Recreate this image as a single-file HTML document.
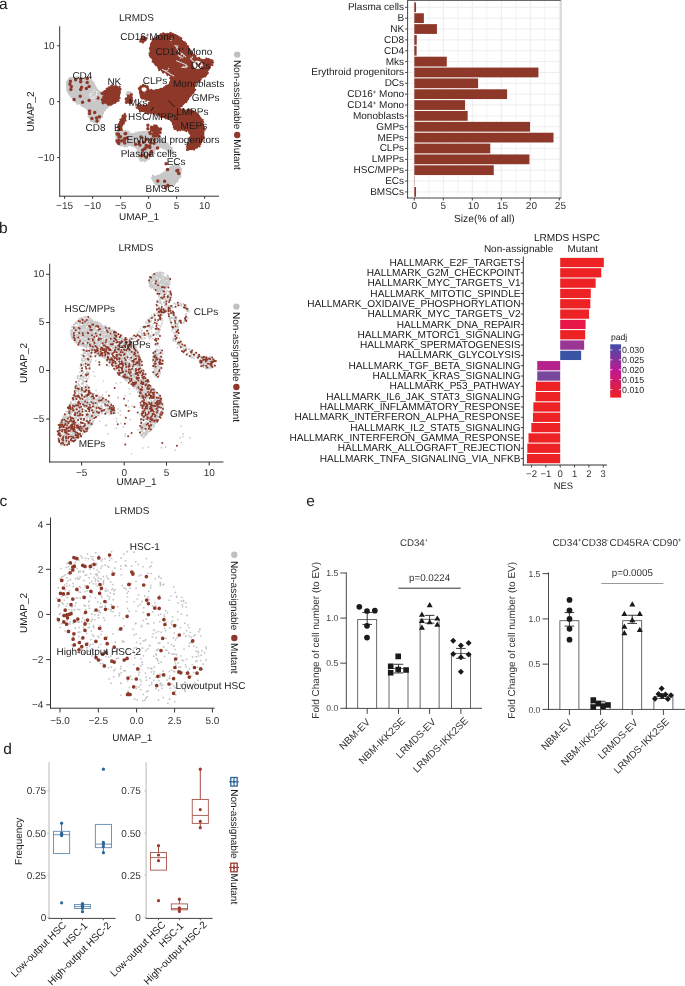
<!DOCTYPE html>
<html><head><meta charset="utf-8"><style>
html,body{margin:0;padding:0;background:#fff;}
svg{display:block;font-family:"Liberation Sans", sans-serif;-webkit-font-smoothing:antialiased;will-change:transform;text-rendering:geometricPrecision;}
</style></head><body>
<svg width="685" height="986" viewBox="0 0 685 986">
<rect width="685" height="986" fill="#fff"/>
<path d="M67.6,80.3L70.4,77.5L76.0,77.0L83.5,77.9L89.1,79.3L92.8,82.1L95.2,85.9L97.5,90.1L100.3,92.4L104.1,91.0L110.6,95.0L113.0,100.0L110.6,105.5L106.9,107.4L104.1,111.1L102.2,115.8L100.3,119.5L98.4,122.3L94.7,122.8L91.0,120.9L89.1,116.7L88.2,111.1L85.4,107.4L80.7,104.6L76.0,101.8L72.3,98.0L68.5,93.4L66.7,87.8L66.7,83.1Z" fill="#C8C8C8" stroke="#C8C8C8" stroke-width="1.2" stroke-linejoin="round"/>
<path d="M116.0,133.0L120.0,130.5L126.0,131.5L132.1,134.0L140.0,132.3L147.0,131.4L149.7,132.7L155.0,134.5L161.0,137.5L166.3,142.8L171.5,148.0L173.0,152.0L170.0,153.0L166.3,149.8L160.2,146.3L155.8,148.9L153.2,153.3L148.8,158.5L144.4,161.2L140.0,160.3L138.3,155.0L137.4,148.9L133.0,145.4L129.5,145.4L124.0,146.0L119.0,144.0L116.5,140.0Z" fill="#C8C8C8" stroke="#C8C8C8" stroke-width="1.2" stroke-linejoin="round"/>
<path d="M152.5,175.6L156.0,176.9L161.3,174.3L166.5,170.8L170.0,167.3L173.5,165.5L178.8,165.5L181.0,168.1L181.0,172.5L179.7,176.9L177.0,181.3L173.5,184.8L168.3,186.5L161.3,186.1L156.0,184.8L153.4,181.3L152.5,177.8Z" fill="#C8C8C8" stroke="#C8C8C8" stroke-width="1.2" stroke-linejoin="round"/>
<path d="M126.9,93.0L129.0,91.5L131.2,92.5L131.7,95.5L130.0,97.5L127.5,97.0Z" fill="#C8C8C8" stroke="#C8C8C8" stroke-width="1.2" stroke-linejoin="round"/>
<path d="M68.9,78.8h0M70.2,78.8h0M70.4,78.2h0M72.2,78.0h0M74.6,77.4h0M77.7,76.5h0M78.3,78.2h0M80.0,78.1h0M82.6,78.6h0M84.7,78.8h0M85.2,77.9h0M88.4,78.9h0M91.6,80.2h0M91.0,81.5h0M93.7,82.5h0M94.0,85.8h0M95.0,87.7h0M97.1,90.8h0M98.0,90.6h0M99.2,91.3h0M100.4,92.8h0M102.9,91.6h0M103.5,91.2h0M107.9,92.8h0M108.1,93.2h0M110.8,94.4h0M111.4,94.8h0M112.1,96.5h0M112.4,99.0h0M112.3,101.1h0M112.4,102.4h0M111.9,103.6h0M108.8,106.1h0M107.4,107.1h0M107.5,107.7h0M105.1,110.0h0M102.6,113.3h0M102.3,113.3h0M101.7,115.5h0M101.8,116.0h0M102.1,117.1h0M100.2,118.9h0M99.1,121.6h0M97.3,122.8h0M95.4,121.9h0M93.8,121.5h0M91.0,121.3h0M90.7,120.8h0M90.0,117.6h0M88.4,116.4h0M88.0,113.4h0M89.0,113.7h0M88.4,111.8h0M86.0,106.9h0M84.2,107.0h0M82.8,106.3h0M81.4,105.6h0M78.9,103.1h0M77.7,104.1h0M76.2,102.4h0M75.2,101.3h0M74.1,100.6h0M73.4,98.8h0M71.4,97.0h0M70.6,96.0h0M69.4,94.2h0M67.9,91.5h0M67.1,90.6h0M67.6,89.8h0M67.3,86.6h0M67.1,84.0h0M66.7,82.3h0M116.3,131.9h0M120.0,130.9h0M120.9,131.1h0M123.7,131.3h0M125.6,130.8h0M126.6,131.0h0M128.7,131.7h0M129.4,133.9h0M131.3,134.3h0M132.6,134.1h0M134.6,134.0h0M136.0,132.7h0M138.0,132.2h0M140.4,132.0h0M140.6,132.1h0M142.9,131.7h0M142.9,131.8h0M146.4,131.9h0M149.1,132.4h0M149.6,132.1h0M152.2,134.0h0M153.9,134.6h0M155.9,134.9h0M157.8,135.7h0M160.1,136.2h0M160.6,137.4h0M161.5,138.9h0M162.2,139.5h0M164.7,140.2h0M166.0,143.4h0M167.7,143.3h0M167.0,143.7h0M169.0,145.8h0M170.3,147.1h0M172.0,147.8h0M173.2,152.4h0M171.3,153.4h0M169.5,151.2h0M168.8,151.6h0M167.2,149.7h0M165.7,148.4h0M164.2,148.2h0M163.0,148.2h0M160.6,147.5h0M159.9,147.5h0M158.5,147.1h0M156.4,148.3h0M155.5,149.2h0M154.7,149.9h0M154.4,153.1h0M153.7,153.8h0M150.5,156.0h0M151.3,155.8h0M148.9,158.3h0M149.1,158.7h0M147.4,159.6h0M146.4,159.9h0M144.8,161.6h0M140.8,160.6h0M140.0,159.2h0M139.5,157.0h0M138.7,156.9h0M138.7,153.3h0M137.1,151.3h0M138.3,151.7h0M136.9,147.9h0M134.0,146.6h0M134.6,145.6h0M132.0,146.0h0M131.4,145.1h0M127.4,146.3h0M126.6,146.1h0M124.9,146.8h0M124.2,146.3h0M121.2,145.8h0M119.9,145.0h0M117.9,143.4h0M116.7,141.3h0M115.9,139.0h0M116.3,136.4h0M115.8,134.9h0M115.6,132.5h0M152.8,175.6h0M155.1,176.7h0M156.8,176.0h0M157.3,176.0h0M159.0,175.4h0M161.7,173.8h0M163.5,172.7h0M165.7,170.5h0M167.3,169.0h0M168.4,169.7h0M170.2,167.6h0M171.5,166.5h0M173.4,166.3h0M174.9,164.7h0M175.3,164.7h0M176.7,165.1h0M179.3,166.1h0M179.7,167.9h0M181.2,168.9h0M180.4,171.7h0M180.6,174.8h0M180.5,176.7h0M178.7,176.9h0M178.0,179.6h0M176.8,181.4h0M177.3,181.7h0M175.1,182.9h0M174.5,184.7h0M172.3,185.9h0M170.1,184.8h0M170.1,186.5h0M166.8,186.2h0M164.9,187.1h0M162.4,186.6h0M161.9,185.7h0M159.5,185.7h0M159.5,186.1h0M157.3,184.5h0M155.5,182.8h0M154.1,181.3h0M153.1,180.5h0M151.8,178.3h0M153.3,178.4h0M127.3,92.3h0M130.3,92.5h0M131.4,93.0h0M130.7,97.0h0M129.1,97.1h0M128.1,97.2h0M126.4,94.3h0" stroke="#C8C8C8" stroke-width="2.0" stroke-linecap="round" fill="none"/>
<path d="M151.1,43.5L152.8,39.4L157.5,35.9L163.4,34.2L171.5,33.2L176.2,34.8L180.9,38.8L185.5,43.5L190.2,49.4L193.7,55.2L198.4,58.7L203.1,59.9L207.7,58.7L211.2,59.9L212.4,63.4L210.1,66.9L207.7,70.4L207.7,73.9L205.4,76.2L200.7,78.6L196.1,82.1L194.5,87.0L194.5,91.2L189.5,97.4L184.6,103.6L179.5,107.3L182.1,109.8L192.0,111.0L198.2,114.7L201.9,119.7L203.8,127.1L203.8,135.8L201.9,142.0L198.2,147.0L193.2,149.5L188.3,149.5L186.4,146.4L189.5,142.0L190.8,135.8L188.3,130.9L182.1,129.6L177.1,130.2L174.0,128.4L172.8,123.4L170.9,119.7L166.0,118.5L161.0,116.0L154.8,113.5L147.3,112.3L139.9,111.0L137.4,108.5L137.5,105.1L141.9,106.5L146.0,105.5L149.5,104.5L150.2,101.0L146.0,99.5L141.0,98.5L140.0,95.0L144.0,93.2L148.9,91.2L156.0,90.0L162.0,88.5L165.5,86.8L169.0,84.0L171.5,80.9L170.4,76.2L165.7,72.7L161.0,70.4L156.4,65.7L152.8,61.0L150.5,55.2L149.9,49.4Z" fill="#8E382A" stroke="#8E382A" stroke-width="1.0" stroke-linejoin="round"/>
<path d="M140.1,86.8L143.6,85.0L148.0,86.8L148.9,90.3L147.1,92.0L143.6,91.1L141.9,92.9L140.1,94.6L139.3,91.1Z" fill="#8E382A" stroke="#8E382A" stroke-width="1.0" stroke-linejoin="round"/>
<path d="M101.3,93.4L105.9,90.1L110.6,86.4L116.2,85.9L119.5,87.8L120.4,91.5L119.0,97.1L118.1,100.8L114.3,103.6L109.7,105.0L105.9,103.6L103.1,101.8L102.2,98.0L105.9,96.2L103.1,94.8Z" fill="#8E382A" stroke="#8E382A" stroke-width="1.0" stroke-linejoin="round"/>
<path d="M140.5,38.5L143.5,37.0L147.0,37.5L146.0,40.5L142.5,42.5L140.5,41.5Z" fill="#8E382A" stroke="#8E382A" stroke-width="1.0" stroke-linejoin="round"/>
<path d="M128.0,95.5L131.0,95.0L132.3,99.0L131.5,103.4L129.0,103.0L127.9,99.0Z" fill="#8E382A" stroke="#8E382A" stroke-width="1.0" stroke-linejoin="round"/>
<path d="M124.2,114.5L126.3,115.5L125.5,119.0L123.5,123.0L121.8,127.0L120.8,130.5L118.0,130.5L118.3,127.0L119.8,122.5L121.8,118.0Z" fill="#8E382A" stroke="#8E382A" stroke-width="1.0" stroke-linejoin="round"/>
<path d="M152.5,128.5L154.5,126.0L157.0,126.5L159.5,129.5L160.0,133.5L157.0,135.5L153.5,134.5Z" fill="#8E382A" stroke="#8E382A" stroke-width="1.0" stroke-linejoin="round"/>
<path d="M151.4,43.3h0M152.5,39.5h0M153.5,39.6h0M156.7,37.9h0M155.6,37.8h0M158.0,35.8h0M160.8,34.5h0M162.6,34.1h0M163.2,33.4h0M164.6,34.0h0M167.8,33.8h0M170.5,32.9h0M172.4,34.0h0M174.5,35.1h0M177.1,36.2h0M177.7,36.3h0M179.5,37.5h0M181.3,38.3h0M184.8,42.4h0M186.0,43.9h0M185.4,44.0h0M188.0,46.4h0M187.3,46.4h0M189.0,48.8h0M191.1,51.3h0M192.1,53.1h0M193.7,54.8h0M194.0,55.8h0M195.5,55.8h0M199.2,57.9h0M198.5,58.5h0M201.2,59.6h0M202.8,60.2h0M206.4,58.6h0M208.7,59.2h0M211.5,60.3h0M212.4,60.6h0M213.1,62.4h0M212.4,65.1h0M209.7,67.2h0M209.4,68.2h0M208.3,69.7h0M207.8,73.1h0M205.3,76.4h0M205.6,75.4h0M202.2,77.2h0M200.6,79.6h0M199.4,80.9h0M197.6,82.2h0M195.4,84.8h0M194.5,85.0h0M193.6,88.7h0M195.1,89.9h0M193.1,91.6h0M193.5,92.8h0M191.4,94.1h0M190.5,95.5h0M188.1,98.9h0M187.5,99.5h0M186.4,101.5h0M186.2,102.1h0M182.6,103.7h0M181.6,106.2h0M181.7,106.0h0M180.1,108.6h0M182.7,110.0h0M183.6,110.1h0M183.5,109.2h0M187.7,109.9h0M189.9,110.1h0M191.7,110.3h0M193.4,111.5h0M194.4,112.4h0M195.9,113.0h0M197.1,114.3h0M198.5,115.8h0M199.3,116.2h0M200.4,118.1h0M202.6,120.0h0M203.2,122.1h0M202.3,123.1h0M203.1,126.2h0M203.7,127.5h0M204.6,129.8h0M203.2,132.2h0M203.1,134.1h0M203.4,137.1h0M203.5,137.6h0M201.7,140.1h0M201.0,141.8h0M200.3,144.2h0M199.5,146.4h0M196.9,147.5h0M194.9,147.6h0M194.1,149.6h0M191.6,149.0h0M188.7,149.5h0M187.1,149.9h0M187.2,148.1h0M187.8,145.4h0M187.7,143.2h0M189.4,140.3h0M189.4,139.1h0M189.9,137.6h0M190.8,134.6h0M189.4,132.8h0M188.7,130.6h0M186.2,131.1h0M184.8,130.0h0M182.9,129.8h0M180.3,130.3h0M177.7,130.6h0M174.7,129.1h0M173.9,127.3h0M172.9,123.9h0M172.5,121.5h0M170.9,120.3h0M169.5,119.1h0M168.5,118.7h0M165.7,118.3h0M162.6,116.5h0M161.5,117.0h0M160.6,116.5h0M156.5,115.1h0M155.7,113.1h0M154.1,113.5h0M150.5,112.5h0M149.2,112.6h0M148.2,113.3h0M146.3,111.4h0M145.6,112.8h0M143.9,110.8h0M140.2,111.6h0M140.1,111.3h0M136.6,107.6h0M137.3,104.9h0M140.5,105.2h0M143.4,105.2h0M143.4,106.8h0M147.1,105.8h0M148.7,104.4h0M149.1,102.8h0M148.7,99.6h0M146.8,99.3h0M146.5,99.9h0M142.3,98.3h0M141.5,97.1h0M141.2,96.1h0M141.1,93.9h0M143.1,93.6h0M143.3,92.4h0M148.6,90.9h0M149.8,90.6h0M151.3,90.0h0M152.8,91.0h0M155.9,90.2h0M156.7,90.6h0M159.1,90.0h0M161.2,88.9h0M163.6,88.8h0M164.3,87.3h0M166.2,85.9h0M166.9,86.0h0M170.2,82.2h0M171.0,81.4h0M171.0,80.0h0M170.3,78.0h0M170.0,74.9h0M167.5,75.1h0M166.7,73.5h0M163.1,72.5h0M162.1,70.7h0M159.3,70.1h0M159.0,69.1h0M158.6,68.0h0M155.9,65.1h0M154.8,63.6h0M153.9,62.2h0M152.7,61.7h0M151.2,57.1h0M150.6,56.9h0M149.8,55.5h0M149.6,53.5h0M150.9,50.5h0M149.9,48.4h0M150.8,47.0h0M150.9,44.8h0M140.9,86.4h0M143.1,84.9h0M145.1,85.6h0M147.4,86.5h0M147.5,86.6h0M148.3,89.6h0M148.1,92.4h0M146.3,92.6h0M145.5,91.0h0M142.9,92.7h0M141.2,93.9h0M140.5,93.5h0M138.9,88.8h0M139.5,87.6h0M101.5,93.2h0M104.9,91.8h0M104.8,91.2h0M106.7,88.8h0M108.6,87.8h0M108.9,87.3h0M111.5,85.7h0M112.2,85.9h0M115.4,86.4h0M116.7,86.6h0M119.6,86.9h0M120.5,89.2h0M119.6,89.3h0M119.6,92.6h0M119.2,94.3h0M119.3,97.7h0M119.5,98.2h0M118.6,100.6h0M118.0,100.7h0M115.2,102.7h0M111.6,104.0h0M110.8,104.8h0M108.6,104.5h0M108.0,104.6h0M103.3,102.2h0M102.2,100.4h0M101.8,99.7h0M103.4,96.6h0M104.9,96.4h0M104.6,94.4h0M102.2,94.0h0M142.6,37.0h0M144.0,37.5h0M146.5,38.6h0M145.3,40.2h0M142.8,42.5h0M140.2,41.5h0M141.0,40.1h0M130.9,94.3h0M131.9,94.7h0M131.8,97.5h0M132.2,100.7h0M131.2,102.8h0M129.7,103.2h0M129.7,101.9h0M127.4,99.4h0M128.0,95.7h0M124.8,114.0h0M125.0,118.6h0M125.5,120.7h0M123.9,123.0h0M123.6,123.6h0M122.1,125.0h0M121.4,128.2h0M121.8,129.9h0M118.5,130.3h0M118.0,126.6h0M117.9,126.7h0M119.1,124.0h0M120.0,122.2h0M120.5,119.7h0M122.6,116.6h0M122.7,115.7h0M153.2,127.1h0M154.4,125.4h0M157.9,127.8h0M158.6,129.9h0M160.1,129.6h0M160.4,132.1h0M160.6,133.0h0M157.3,134.6h0M156.4,136.2h0M154.3,135.2h0M152.7,133.7h0M152.5,131.0h0M152.4,129.5h0" stroke="#8E382A" stroke-width="2.3" stroke-linecap="round" fill="none"/>
<path d="M70.4,81.2h0M69.9,84.0h0M71.3,86.4h0M70.9,89.6h0M75.6,79.8h0M80.7,79.3h0M80.7,81.7h0M87.2,78.4h0M87.2,82.6h0M89.1,86.6h0M86.3,88.5h0M81.6,87.3h0M80.7,89.6h0M80.2,96.2h0M74.1,99.4h0M82.6,102.2h0M89.1,100.4h0M98.0,98.0h0M89.6,111.1h0M89.6,113.5h0M94.7,112.5h0M91.9,118.6h0M96.6,118.1h0M99.4,116.7h0M97.0,120.9h0M103.1,99.9h0M103.1,102.7h0M139.1,141.9h0M140.0,145.0h0M143.5,142.3h0M146.2,145.4h0M145.7,148.0h0M147.9,146.3h0M149.7,146.3h0M142.6,150.2h0M144.4,148.9h0M151.4,151.5h0M146.2,157.2h0M154.0,143.2h0M157.5,148.0h0M150.5,140.1h0M140.9,137.1h0M147.9,125.3h0M147.9,128.8h0M166.1,163.8h0M167.6,169.4h0M176.9,170.8h0M177.9,170.3h0M178.8,173.4h0M157.8,181.1h0M164.6,181.3h0M167.8,185.2h0M165.6,187.4h0M118.5,142.9h0M126.9,137.9h0M119.0,137.1h0M118.5,134.3h0M121.5,141.0h0M125.1,133.7h0M118.8,140.5h0M120.6,136.7h0M118.1,140.6h0M117.2,134.0h0M124.7,142.9h0M118.7,143.4h0M117.0,141.1h0M117.9,142.6h0M124.7,138.5h0M125.7,133.4h0M123.8,139.9h0M124.4,140.0h0M155.1,132.1h0M155.2,132.1h0M160.5,129.1h0M156.5,130.1h0M153.1,129.5h0M151.6,129.4h0M150.0,132.5h0M151.6,127.3h0M156.2,126.2h0M154.4,127.5h0M156.6,130.6h0M150.3,133.4h0M153.3,135.8h0M154.5,136.0h0M158.8,136.2h0M149.8,147.4h0M141.7,155.7h0M146.2,139.6h0M149.8,154.4h0M135.6,144.3h0M154.2,140.0h0M150.7,142.9h0M143.2,154.9h0M126.3,98.9h0M127.8,100.2h0M128.5,97.4h0M129.0,98.3h0M129.9,101.1h0M126.5,102.3h0M130.7,102.3h0M129.9,102.4h0M129.7,102.1h0" stroke="#8E382A" stroke-width="3.5" stroke-linecap="round" fill="none"/>
<path d="M193.8,62.5L197.0,61.0L201.5,62.5L202.5,66.0L200.0,68.5L195.5,68.3L193.5,65.5Z" fill="#FFFFFF" stroke="#FFFFFF" stroke-width="0.8" stroke-linejoin="round"/>
<path d="M142.0,88.2L144.5,87.6L146.3,88.8L145.8,90.8L143.5,91.2L142.0,90.2Z" fill="#FFFFFF" stroke="#FFFFFF" stroke-width="0.8" stroke-linejoin="round"/>
<path d="M199.2,65.0h0M196.8,63.2h0M200.5,63.9h0M197.4,64.4h0M201.6,66.9h0M198.5,66.0h0" stroke="#8E382A" stroke-width="1.8" stroke-linecap="round" fill="none"/>
<path d="M177.3,47.4h0M177.8,46.1h0M176.4,45.9h0M181.4,54.4h0M182.0,53.4h0M178.5,55.8h0M180.6,58.2h0M183.7,56.1h0M179.7,56.6h0M186.0,66.6h0M185.4,66.2h0M183.5,66.5h0M186.0,67.6h0M191.1,58.3h0M192.4,56.9h0M192.4,57.4h0M168.6,68.6h0M167.7,70.5h0M165.7,70.5h0M172.0,39.2h0M170.9,40.5h0M172.4,39.3h0" stroke="#CFCFCF" stroke-width="1.5" stroke-linecap="round" fill="none"/>
<path d="M174.8,45.3L176.3,46.8L177.3,49.0L178.8,51.5L181.0,53.3L183.5,54.8L185.8,56.8" fill="none" stroke="#D2D2D2" stroke-width="1.1" stroke-linecap="round" stroke-linejoin="round" stroke-dasharray="2.2 0.9"/>
<path d="M178.5,55.0L181.0,56.5L183.5,58.3" fill="none" stroke="#D2D2D2" stroke-width="1.1" stroke-linecap="round" stroke-linejoin="round" stroke-dasharray="2.2 0.9"/>
<path d="M176.5,60.8L179.5,62.0L182.5,63.2L185.5,64.5L187.5,66.5" fill="none" stroke="#D2D2D2" stroke-width="1.1" stroke-linecap="round" stroke-linejoin="round" stroke-dasharray="2.2 0.9"/>
<path d="M181.5,67.2L184.5,67.6L187.0,67.0" fill="none" stroke="#D2D2D2" stroke-width="1.1" stroke-linecap="round" stroke-linejoin="round" stroke-dasharray="2.2 0.9"/>
<path d="M162.5,69.6L165.5,71.0L168.5,72.8L171.5,74.8L173.8,76.0" fill="none" stroke="#D2D2D2" stroke-width="1.1" stroke-linecap="round" stroke-linejoin="round" stroke-dasharray="2.2 0.9"/>
<path d="M190.5,58.5L192.0,60.0L193.5,61.5" fill="none" stroke="#D2D2D2" stroke-width="1.1" stroke-linecap="round" stroke-linejoin="round" stroke-dasharray="2.2 0.9"/>
<path d="M90.7,93.4h0M91.7,94.2h0M89.7,95.9h0M92.0,100.0h0M96.7,94.4h0M96.0,95.2h0M90.6,95.3h0M94.8,97.0h0M96.5,91.9h0M94.3,100.5h0M96.7,91.5h0M96.7,97.3h0M91.6,97.5h0M93.1,94.1h0M92.4,91.4h0M92.9,98.5h0M94.5,96.8h0M90.5,97.6h0M93.9,89.7h0M92.0,97.6h0M89.6,93.9h0M96.9,92.9h0M94.2,91.6h0M93.3,96.5h0M94.4,98.4h0" stroke="#F4F4F4" stroke-width="1.2" stroke-linecap="round" fill="none"/>
<path d="M77.1 329.2h0M111.9 330.4h0M104.9 342.3h0M107.8 327.6h0M76.9 323.2h0M97.1 331.8h0M92.2 331.8h0M111.6 338.1h0M104.6 332.1h0M80.5 335.2h0M77.2 329.9h0M75.5 330.8h0M94.5 330.0h0M93.5 333.4h0M92.5 340.1h0M89.2 323.4h0M90.2 349.2h0M89.1 337.8h0M108.7 338.9h0M87.0 324.2h0M112.6 342.5h0M99.4 342.6h0M88.5 346.6h0M83.9 324.0h0M71.0 330.1h0M105.4 327.7h0M82.7 332.6h0M105.7 332.4h0M105.8 338.5h0M84.9 327.5h0M89.7 327.6h0M110.7 340.0h0M85.2 329.4h0M87.2 345.0h0M90.0 343.2h0M94.7 323.0h0M93.5 329.5h0M101.5 325.8h0M84.0 340.9h0M97.3 343.4h0M100.7 331.5h0M91.8 341.6h0M90.3 341.5h0M72.0 334.9h0M96.5 334.3h0M107.0 332.8h0M91.5 334.9h0M85.2 322.2h0M93.8 335.8h0M84.3 325.4h0M80.5 320.7h0M112.6 338.5h0M93.2 321.5h0M82.0 325.7h0M111.5 338.4h0M106.0 329.5h0M82.4 319.4h0M109.6 330.4h0M110.3 331.3h0M86.5 334.9h0M76.9 328.7h0M94.8 348.1h0M98.9 327.1h0M98.2 340.4h0M103.2 338.3h0M91.2 322.9h0M108.1 329.4h0M87.4 335.8h0M87.8 329.2h0M85.3 329.2h0M111.7 339.7h0M98.7 345.5h0M106.2 344.6h0M77.1 338.5h0M83.9 332.9h0M100.6 328.0h0M98.3 345.1h0M98.5 346.5h0M93.1 348.5h0M98.2 326.8h0M102.4 333.2h0M83.1 327.5h0M97.9 327.5h0M86.7 336.4h0M82.6 331.3h0M101.2 329.4h0M99.8 325.4h0M72.3 336.9h0M77.2 343.2h0M98.0 331.8h0M77.5 322.6h0M95.0 338.4h0M75.7 342.0h0M86.8 342.6h0M114.5 332.4h0M84.8 340.3h0M95.3 334.6h0M89.4 323.3h0M110.8 338.4h0M79.8 344.9h0M104.4 333.3h0M77.3 337.9h0M89.2 323.1h0M77.9 334.4h0M91.9 335.6h0M92.7 329.7h0M98.6 337.8h0M97.1 341.1h0M93.6 326.3h0M116.0 333.7h0M114.2 335.1h0M103.6 337.5h0M105.6 334.9h0M87.1 325.0h0M100.3 329.7h0M95.6 340.8h0M75.5 334.9h0M102.2 326.3h0M99.5 341.9h0M97.4 335.2h0M82.4 322.7h0M92.0 336.5h0M83.9 346.5h0M87.4 332.1h0M79.5 329.6h0M114.1 340.4h0M108.5 342.4h0M87.4 325.5h0M85.3 317.0h0M82.7 335.7h0M92.9 346.1h0M105.1 327.8h0M74.6 335.5h0M76.2 340.9h0M93.8 333.7h0M71.7 333.7h0M108.3 341.1h0M99.8 340.1h0M93.8 344.9h0M107.0 328.7h0M92.4 320.1h0M100.8 332.5h0M79.8 339.9h0M96.5 329.9h0M94.9 339.1h0M89.8 341.1h0M87.5 340.2h0M95.2 321.7h0M89.6 345.4h0M95.9 346.6h0M72.0 335.8h0M100.7 340.7h0M80.3 334.9h0M96.7 343.5h0M76.1 338.4h0M74.5 332.0h0M70.9 333.9h0M77.6 335.6h0M107.6 336.5h0M86.7 336.7h0M107.3 333.1h0M80.4 340.5h0M113.2 338.4h0M93.9 333.6h0M101.3 335.5h0M90.0 336.2h0M71.4 335.3h0M84.4 339.9h0M103.7 345.4h0M83.7 321.2h0M81.2 328.8h0M88.8 335.1h0M88.4 327.7h0M100.7 327.8h0M80.6 329.5h0M87.6 345.7h0M89.8 336.3h0M91.2 346.6h0M72.1 335.9h0M80.6 322.9h0M99.3 329.2h0M83.7 325.5h0M83.2 322.0h0M84.6 327.0h0M80.7 326.2h0M95.8 326.7h0M91.1 320.5h0M95.4 323.1h0M83.9 337.9h0M91.8 347.5h0M105.1 343.7h0M114.2 333.8h0M84.4 340.5h0M110.3 335.1h0M85.8 316.6h0M111.1 332.0h0M89.9 323.9h0M81.0 326.7h0M88.9 335.7h0M79.8 331.5h0M111.6 340.6h0M88.5 323.4h0M91.1 347.9h0M78.3 336.8h0M109.4 336.0h0M80.0 344.3h0M90.5 317.9h0M107.4 334.7h0M76.0 330.1h0M101.5 330.0h0M92.3 320.6h0M100.4 331.0h0M111.2 332.7h0M91.3 343.4h0M95.6 322.0h0M111.6 342.2h0M87.6 345.9h0M88.5 346.8h0M106.0 331.0h0M101.0 332.2h0M83.6 321.3h0M103.2 340.6h0M76.1 322.3h0M84.0 339.0h0M111.4 330.5h0M93.1 345.9h0M84.0 343.1h0M73.9 324.3h0M76.6 329.4h0M82.2 343.5h0M112.8 333.7h0M101.9 326.1h0M87.1 319.4h0M110.2 335.8h0M88.6 322.1h0M91.3 320.1h0M112.9 334.4h0M87.1 328.5h0M89.2 334.0h0M108.9 341.9h0M83.8 326.7h0M87.7 330.5h0M74.5 327.0h0M92.4 340.4h0M89.7 335.4h0M82.1 339.8h0M90.3 320.6h0M89.8 330.1h0M99.1 331.1h0M109.5 331.2h0M103.3 336.1h0M89.4 327.9h0M108.0 341.4h0M101.2 338.2h0M83.4 345.9h0M80.1 323.5h0M102.1 334.4h0M72.4 330.9h0M73.8 325.4h0M92.6 335.4h0M111.8 336.8h0M76.1 336.4h0M97.6 325.8h0M92.8 328.9h0M90.5 330.6h0M90.1 334.8h0M79.2 325.2h0M93.4 332.6h0M90.5 338.6h0M94.1 340.4h0M84.8 346.8h0M82.1 317.8h0M101.3 333.8h0M85.0 337.3h0M113.0 334.9h0M84.4 333.5h0M107.8 331.8h0M113.8 332.3h0M102.0 343.2h0M100.7 325.6h0M104.0 341.0h0M91.6 331.1h0M86.5 345.3h0M104.2 342.7h0M90.9 332.3h0M99.5 331.3h0M105.3 325.6h0M110.5 342.9h0M78.2 337.1h0M101.7 332.9h0M81.0 340.1h0M101.3 341.8h0M74.3 330.1h0M84.3 322.0h0M86.7 335.2h0M80.8 330.9h0M74.2 335.0h0M72.0 332.2h0M88.4 318.6h0M86.4 320.7h0M112.2 337.8h0M100.3 342.3h0M110.9 334.8h0M97.7 335.3h0M110.0 343.5h0M88.1 338.8h0M95.3 327.3h0M80.3 328.1h0M81.4 328.4h0M110.9 336.4h0M79.4 331.6h0M108.8 331.2h0M75.1 327.1h0M96.7 347.5h0M103.8 326.7h0M73.7 336.1h0M81.8 333.7h0M91.2 323.2h0M87.8 340.7h0M104.2 332.2h0M94.3 348.2h0M104.7 331.7h0M96.2 345.3h0M77.4 328.9h0M81.6 337.2h0M76.2 322.4h0M73.3 333.8h0M73.1 338.3h0M88.3 323.6h0M88.1 330.9h0M82.2 342.3h0M76.8 334.8h0M84.9 323.2h0M112.7 339.8h0M105.3 327.7h0M99.7 334.7h0M97.7 324.0h0M86.3 345.4h0M89.6 323.3h0M116.4 335.2h0M97.5 334.0h0M86.9 338.5h0M93.2 347.1h0M94.2 339.1h0M76.2 337.7h0M104.0 344.4h0M101.2 331.1h0M106.1 336.9h0M93.6 329.3h0M93.5 322.5h0M82.4 342.8h0M91.2 348.4h0M105.6 329.4h0M87.8 322.7h0M98.7 342.6h0M100.8 343.3h0M94.4 348.5h0M98.3 336.5h0M113.3 331.1h0M88.3 331.4h0M107.3 329.2h0M97.4 322.3h0M111.7 335.8h0M86.4 344.4h0M97.5 323.1h0M109.8 335.6h0M91.4 320.4h0M96.7 323.7h0M92.3 332.3h0M91.1 325.4h0M109.0 329.8h0M93.1 328.7h0M89.2 319.1h0M113.0 338.6h0M106.4 340.9h0M98.1 326.8h0M81.8 322.8h0M111.4 330.1h0M80.9 336.1h0M96.5 331.7h0M103.5 344.0h0M73.2 334.8h0M80.7 341.8h0M90.0 333.7h0M87.6 333.0h0M89.6 337.7h0M80.2 342.5h0M90.7 347.5h0M87.0 322.3h0M99.1 338.8h0M74.9 328.8h0M99.8 328.0h0M88.9 335.9h0M87.2 322.7h0M78.3 328.6h0M89.7 342.6h0M107.0 338.7h0M90.5 325.4h0M83.2 326.8h0M97.7 331.2h0M75.6 326.8h0M112.0 341.9h0M87.7 338.3h0M92.4 327.6h0M75.9 326.7h0M96.1 346.6h0M75.8 337.9h0M88.1 318.6h0M87.1 336.7h0M88.6 340.4h0M97.9 326.3h0M77.5 322.9h0M112.1 335.3h0M108.9 330.6h0M74.8 339.5h0M104.9 345.3h0M89.5 344.1h0M92.0 321.6h0M86.0 324.9h0M71.7 333.4h0M79.7 342.7h0M94.2 338.7h0M98.7 342.3h0M84.1 340.7h0M88.0 340.3h0M101.7 331.7h0M97.9 345.5h0M95.7 322.3h0M85.0 318.1h0M91.7 324.1h0M80.3 328.9h0M103.3 339.1h0M116.7 334.1h0M112.0 337.0h0M96.9 322.4h0M103.4 337.8h0M84.7 346.3h0M103.1 340.6h0M97.3 325.8h0M91.1 326.5h0M92.9 340.6h0M83.6 331.0h0M91.5 323.0h0M92.3 332.1h0M93.3 323.4h0M90.0 342.4h0M110.1 337.2h0M110.5 338.7h0M80.3 336.5h0M112.7 330.3h0M97.6 326.1h0M107.5 340.9h0M88.9 325.6h0M102.7 335.4h0M73.5 339.8h0M80.5 342.8h0M81.3 319.7h0M79.3 330.0h0M100.9 338.4h0M101.0 324.3h0M93.2 331.1h0M88.7 337.0h0M78.0 328.5h0M85.9 325.6h0M79.8 325.3h0M109.1 331.7h0M98.0 346.4h0M72.4 330.9h0M92.0 345.0h0M91.5 319.8h0M109.0 343.8h0M76.9 328.7h0M94.0 346.0h0M112.1 336.1h0M86.0 347.5h0M94.1 329.6h0M74.9 340.5h0M96.5 333.7h0M81.0 330.1h0M107.4 334.1h0M91.0 348.2h0M87.8 325.5h0M90.9 334.9h0M98.8 327.8h0M91.7 327.4h0M86.1 345.9h0M80.4 326.9h0M107.8 344.6h0M89.6 331.2h0M108.0 328.8h0M87.9 323.4h0M76.5 343.3h0M91.9 343.9h0M85.0 319.3h0M80.7 320.2h0M79.5 336.1h0M100.5 343.3h0M85.5 321.4h0M97.8 345.2h0M82.8 323.8h0M111.1 339.9h0M86.3 316.7h0M94.8 338.0h0M104.0 328.5h0M87.8 337.4h0M92.0 344.4h0M105.9 341.4h0M96.1 334.5h0M86.4 347.6h0M84.9 321.3h0M93.6 348.7h0M92.2 329.2h0M97.3 345.1h0M113.8 333.7h0M99.6 338.3h0M83.0 341.7h0M86.0 333.7h0M82.0 331.5h0M91.3 336.7h0M82.0 333.9h0M80.6 343.8h0M85.9 331.7h0M101.7 335.6h0M100.7 344.1h0M102.6 345.3h0M101.4 334.3h0M98.1 322.8h0M88.1 329.2h0M79.3 338.5h0M86.3 344.7h0M90.5 321.9h0M76.5 332.3h0M104.4 341.4h0M108.3 335.2h0M104.8 337.1h0M86.2 333.9h0M71.7 337.1h0M96.9 325.6h0M100.9 331.1h0M109.1 337.3h0M84.7 341.3h0M112.2 335.2h0M105.6 340.1h0M88.6 334.1h0M106.2 343.9h0M88.3 339.9h0M72.5 326.8h0M85.4 341.1h0M98.8 336.9h0M93.0 323.3h0M77.2 328.7h0M86.7 340.4h0M105.0 344.8h0M90.5 345.4h0M106.2 338.9h0M93.2 344.5h0M104.9 335.6h0M85.7 341.0h0M92.6 346.0h0M88.3 337.6h0M103.6 337.7h0M74.5 338.5h0M86.5 334.8h0M91.9 333.0h0M81.5 344.6h0M90.5 332.0h0M113.4 333.5h0M113.3 334.1h0M79.8 318.4h0M103.9 332.9h0M74.6 334.3h0M104.3 341.0h0M75.1 329.4h0M100.0 346.5h0M89.9 345.7h0M72.7 333.7h0M84.3 336.7h0M110.8 330.4h0M99.7 323.2h0M112.4 339.4h0M86.7 343.2h0M100.4 328.3h0M102.6 329.4h0M98.8 327.5h0M81.5 329.0h0M75.0 333.1h0M105.2 326.2h0M85.7 337.6h0M87.6 341.1h0M104.4 326.4h0M100.0 330.1h0M94.5 323.3h0M81.9 339.8h0M102.0 327.0h0M83.2 331.4h0M116.8 335.6h0M83.8 337.5h0M73.1 327.2h0M76.8 337.2h0M110.4 343.4h0M88.4 322.0h0M95.4 338.6h0M115.8 340.1h0M108.7 337.5h0M84.1 344.3h0M71.0 333.6h0M85.7 326.4h0M87.6 344.5h0M89.0 322.7h0M71.5 335.6h0M94.7 325.2h0M94.6 325.4h0M71.0 332.8h0M91.9 326.0h0M80.0 321.5h0M103.9 344.3h0M96.2 333.7h0M108.3 342.3h0M89.5 327.7h0M103.2 340.9h0M91.7 346.9h0M97.8 333.4h0M84.9 344.1h0M84.0 326.7h0M87.9 320.5h0M110.8 331.6h0M78.7 335.1h0M92.8 345.1h0M79.7 333.1h0M71.9 338.1h0M112.5 335.9h0M80.8 344.0h0M85.4 327.3h0M116.2 337.5h0M79.0 319.3h0M112.8 336.5h0M114.5 331.9h0M75.0 339.0h0M114.5 339.3h0M75.1 342.1h0M110.0 340.8h0M100.7 325.1h0M102.1 340.5h0M85.6 345.3h0M111.7 330.9h0M97.7 332.0h0M74.9 324.1h0M90.8 339.0h0M85.5 327.3h0M79.4 339.1h0M83.8 317.1h0M74.5 331.1h0M92.4 344.4h0M108.4 342.3h0M81.0 336.1h0M82.1 320.5h0M96.2 330.4h0M75.5 340.6h0M96.7 343.6h0M79.4 333.8h0M105.4 336.8h0M114.5 341.0h0M94.8 323.1h0M86.2 323.1h0M81.1 330.8h0M89.6 339.9h0M88.0 331.2h0M82.4 328.6h0M90.3 339.7h0M87.1 334.4h0M82.8 322.3h0M78.6 327.8h0M79.5 321.4h0M106.5 331.9h0M86.9 330.2h0M88.6 335.1h0M105.9 340.8h0M91.2 349.4h0M83.0 334.2h0M84.0 328.8h0M94.9 323.6h0M77.0 323.5h0M97.5 323.6h0M87.9 332.8h0M82.8 335.4h0M77.6 323.0h0M114.9 337.0h0M85.3 326.7h0M91.1 323.6h0M72.7 336.9h0M92.6 348.0h0M93.4 328.5h0M86.7 345.6h0M85.9 335.8h0M79.7 344.8h0M76.1 339.0h0M93.2 342.1h0M96.1 321.9h0M102.4 340.7h0M90.0 318.7h0M94.8 327.5h0M82.8 326.8h0M90.6 346.1h0M90.5 338.5h0M105.2 336.4h0M105.7 325.6h0M91.0 321.3h0M81.3 322.6h0M99.1 345.7h0M103.9 343.0h0M84.3 334.8h0M78.9 334.0h0M92.8 329.0h0M97.1 345.2h0M92.8 328.0h0M79.8 323.0h0M106.6 342.0h0M102.3 335.8h0M85.9 325.4h0M78.4 335.1h0M88.0 325.5h0M90.6 332.7h0M104.6 340.5h0M81.3 339.2h0M87.0 332.6h0M91.2 345.9h0M85.7 339.9h0M80.4 327.5h0M77.8 340.3h0M100.2 336.5h0M88.0 327.7h0M116.3 338.9h0M96.3 343.0h0M86.0 347.4h0M101.6 333.1h0M76.9 327.5h0M95.8 324.8h0M99.8 344.8h0M109.7 329.4h0M77.7 335.4h0M74.5 329.3h0M83.2 344.6h0M89.3 328.0h0M90.0 348.1h0M95.2 328.5h0M103.4 331.0h0M71.1 330.9h0M95.9 322.3h0M83.2 343.2h0M106.9 341.6h0M98.8 334.6h0M91.0 334.0h0M83.0 319.9h0M116.5 334.5h0M96.0 334.6h0M84.3 345.7h0M97.7 343.0h0M82.4 327.0h0M75.0 323.3h0M108.5 335.0h0M77.3 340.9h0M109.9 338.3h0M111.2 334.0h0M80.1 338.8h0M94.7 324.0h0M99.7 333.6h0M88.9 320.5h0M75.7 329.0h0M72.6 329.4h0M96.0 324.9h0M102.6 328.8h0M98.3 326.7h0M84.6 333.9h0M105.4 326.2h0M75.8 323.7h0M103.1 344.8h0M72.3 338.7h0M74.1 326.3h0M96.6 324.5h0M92.3 339.0h0M97.6 345.4h0M92.1 337.8h0M88.8 320.9h0M85.3 331.3h0M78.3 332.9h0M86.9 316.7h0M96.9 323.6h0M83.3 338.8h0M109.7 341.5h0M109.2 335.4h0M95.6 346.6h0M110.6 331.7h0M107.7 341.0h0M80.6 328.6h0M108.8 329.3h0M95.4 330.6h0M94.1 339.9h0M100.7 328.1h0M101.3 325.8h0M93.5 324.6h0M116.5 336.6h0M80.3 335.5h0M85.8 337.0h0M74.3 330.7h0M79.7 318.6h0M100.8 339.0h0M84.6 325.8h0M116.6 338.0h0M90.6 329.2h0M81.8 339.5h0M104.3 341.7h0M88.5 323.5h0M88.9 334.8h0M115.2 332.3h0M91.8 334.6h0M83.8 329.0h0M103.1 331.4h0M94.9 328.4h0M70.9 334.3h0M84.0 331.5h0M88.6 336.4h0M81.1 332.2h0M100.4 327.3h0M102.4 329.5h0M100.4 324.9h0M74.4 331.5h0M86.3 337.2h0M76.5 335.0h0M101.2 330.1h0M92.3 333.1h0M97.9 343.2h0M102.2 331.3h0M98.9 345.3h0M90.4 331.6h0M77.8 331.5h0M91.9 326.3h0M94.4 342.2h0M83.6 343.0h0M93.1 335.1h0M88.4 340.1h0M105.2 340.2h0M92.2 323.5h0M89.3 327.2h0M71.8 326.7h0M87.7 345.7h0M92.7 330.3h0M110.8 339.0h0M98.3 326.6h0M81.0 334.5h0M103.9 341.1h0M78.4 326.1h0M97.7 335.7h0M76.1 342.1h0M85.5 332.9h0M110.5 338.5h0M101.2 332.2h0M92.3 344.7h0M90.7 330.7h0M106.5 335.5h0M87.4 346.1h0M89.2 328.7h0M83.8 344.2h0M98.4 338.0h0M83.4 320.9h0M80.5 330.8h0M75.5 334.7h0M102.3 325.4h0M81.4 318.2h0M93.2 325.2h0M101.2 329.5h0M95.5 347.9h0M110.9 340.6h0M86.5 346.8h0M71.4 329.6h0M71.5 332.0h0M94.8 334.5h0M94.7 325.4h0M84.2 346.0h0M107.0 336.1h0M87.7 345.3h0M78.3 335.5h0M97.3 343.0h0M85.5 345.4h0M102.4 337.9h0M105.4 326.7h0M109.5 340.7h0M101.6 332.5h0M93.4 323.9h0M72.5 337.5h0M79.1 329.3h0M104.2 343.5h0M107.1 333.9h0M88.0 339.8h0M114.0 336.7h0M78.2 337.8h0M112.2 337.9h0M81.9 343.7h0M107.9 336.3h0M79.8 343.1h0M90.5 334.1h0M75.2 336.8h0M103.9 335.3h0M106.4 329.4h0M98.3 323.5h0M102.0 327.9h0M109.4 342.0h0M89.4 339.2h0M106.8 336.9h0M110.8 334.3h0M81.4 345.7h0M90.3 346.1h0M113.4 341.4h0M87.5 343.0h0M114.9 334.1h0M87.9 327.6h0M93.7 339.6h0M84.1 335.7h0M75.9 327.8h0M91.6 329.2h0M90.8 328.4h0M92.3 320.2h0M96.5 331.0h0M81.1 333.8h0M75.7 342.3h0M77.4 322.1h0M112.6 340.0h0M103.7 341.4h0M75.1 329.8h0M83.7 342.5h0M101.0 326.9h0M96.4 343.3h0M91.5 320.7h0M103.4 337.9h0M77.4 323.8h0M82.1 344.9h0M102.4 331.4h0M124.0 373.0h0M130.7 369.9h0M139.6 379.2h0M127.1 355.2h0M122.7 357.0h0M107.3 350.9h0M115.1 369.9h0M138.1 356.9h0M129.3 362.4h0M125.8 355.9h0M125.4 376.2h0M129.3 354.1h0M134.8 362.4h0M132.0 362.1h0M126.5 369.7h0M129.9 359.3h0M130.7 371.7h0M138.8 362.8h0M125.6 349.0h0M135.7 358.9h0M116.9 349.7h0M99.2 356.3h0M119.7 369.3h0M122.5 345.1h0M119.5 369.7h0M109.7 347.4h0M126.7 374.7h0M125.7 348.5h0M123.7 351.2h0M125.2 364.0h0M127.5 345.0h0M114.6 357.5h0M132.4 370.6h0M123.3 342.9h0M110.5 357.2h0M120.9 353.4h0M130.0 369.0h0M122.3 356.6h0M103.8 350.2h0M134.1 375.1h0M105.6 357.6h0M138.5 378.9h0M132.3 356.5h0M124.1 355.1h0M111.1 361.3h0M102.6 352.1h0M127.8 379.3h0M121.8 359.5h0M136.4 351.2h0M112.4 359.2h0M98.8 351.6h0M115.6 356.6h0M121.8 353.6h0M128.2 364.4h0M133.3 353.2h0M128.6 363.3h0M122.7 371.0h0M114.5 365.2h0M129.5 343.0h0M147.1 379.4h0M108.9 348.7h0M136.3 376.9h0M118.4 354.0h0M110.5 345.4h0M126.1 357.5h0M117.9 365.4h0M111.8 354.1h0M129.4 377.5h0M110.7 352.7h0M117.2 349.9h0M126.7 379.3h0M98.3 348.3h0M126.7 368.4h0M139.9 380.8h0M133.1 373.5h0M122.2 367.9h0M115.7 366.0h0M123.4 341.1h0M136.2 375.2h0M108.4 361.4h0M126.8 347.1h0M132.8 345.8h0M139.2 385.4h0M124.3 360.0h0M134.2 383.5h0M112.2 357.3h0M137.5 360.4h0M119.9 351.1h0M139.9 367.0h0M137.9 354.4h0M133.3 350.5h0M102.6 356.3h0M128.5 359.6h0M129.4 379.2h0M137.8 375.4h0M121.7 364.7h0M128.4 342.6h0M107.2 350.1h0M118.2 341.6h0M136.8 358.3h0M125.1 347.6h0M133.0 346.3h0M129.7 381.4h0M126.1 363.5h0M136.1 386.6h0M132.3 360.8h0M141.1 379.2h0M114.7 362.4h0M114.6 342.7h0M117.9 336.1h0M111.7 364.7h0M135.1 348.1h0M135.4 348.2h0M131.5 360.4h0M111.0 346.0h0M133.1 380.5h0M114.8 360.0h0M121.7 352.7h0M130.9 384.2h0M122.4 362.2h0M142.5 381.9h0M120.8 373.0h0M130.8 384.3h0M140.3 385.1h0M133.2 380.4h0M136.2 387.5h0M132.4 342.2h0M113.7 347.4h0M131.8 355.8h0M137.9 367.2h0M111.3 350.0h0M143.1 371.9h0M115.5 335.0h0M126.3 354.2h0M106.0 349.5h0M127.1 361.7h0M133.3 356.7h0M127.6 357.5h0M129.8 382.1h0M104.3 355.8h0M129.2 362.3h0M126.4 348.5h0M131.1 346.7h0M95.3 350.4h0M124.1 372.5h0M137.7 362.0h0M124.7 360.8h0M99.2 350.1h0M132.0 361.4h0M138.2 358.4h0M111.2 351.4h0M141.5 379.9h0M121.2 349.8h0M138.1 384.4h0M129.7 377.4h0M141.2 366.1h0M134.8 358.9h0M134.2 376.8h0M113.6 363.6h0M126.1 363.5h0M129.9 382.1h0M131.6 344.1h0M129.8 343.9h0M139.8 365.1h0M124.3 351.9h0M125.4 348.1h0M124.5 372.9h0M122.2 358.5h0M119.7 350.4h0M129.3 373.9h0M126.1 348.6h0M104.4 352.3h0M118.3 356.2h0M134.2 352.7h0M125.0 344.5h0M128.1 344.8h0M112.8 358.1h0M143.8 382.5h0M135.1 376.5h0M116.2 357.9h0M118.8 360.2h0M137.6 386.1h0M107.1 353.9h0M135.8 386.0h0M124.1 338.0h0M132.1 345.0h0M141.6 368.8h0M136.5 360.0h0M131.3 364.8h0M132.6 355.0h0M135.0 349.0h0M131.7 377.4h0M130.5 354.7h0M132.0 383.0h0M136.7 388.6h0M144.0 379.7h0M133.0 385.3h0M128.3 370.3h0M129.4 345.0h0M105.3 350.2h0M134.1 375.1h0M128.9 344.6h0M125.0 361.7h0M126.4 379.5h0M148.2 380.1h0M129.4 370.5h0M109.2 346.5h0M113.9 351.0h0M141.2 385.7h0M119.3 347.8h0M128.3 366.0h0M132.2 351.7h0M130.7 366.9h0M131.7 382.4h0M101.8 353.0h0M131.7 374.7h0M135.9 354.4h0M117.8 340.8h0M127.5 348.4h0M133.7 375.7h0M98.4 355.2h0M131.7 343.0h0M124.0 371.1h0M125.9 354.3h0M116.6 366.5h0M117.2 357.9h0M133.7 385.6h0M103.0 348.9h0M130.2 353.4h0M122.3 352.4h0M111.4 350.3h0M136.6 370.2h0M104.6 354.8h0M121.9 353.1h0M135.3 381.0h0M132.3 368.8h0M140.9 361.4h0M134.4 373.3h0M134.7 378.0h0M136.3 353.4h0M120.0 338.2h0M126.1 351.9h0M125.0 353.5h0M120.3 364.8h0M124.7 379.3h0M125.2 371.7h0M128.3 369.5h0M126.7 355.1h0M134.3 385.0h0M111.6 344.8h0M109.7 354.2h0M115.8 366.9h0M139.7 364.9h0M128.0 350.8h0M131.0 372.7h0M122.7 377.4h0M104.9 358.0h0M135.5 361.7h0M121.7 353.1h0M113.4 360.0h0M113.3 345.9h0M112.7 356.6h0M120.1 374.7h0M134.0 356.7h0M138.4 373.6h0M139.9 375.1h0M145.5 378.1h0M135.2 362.1h0M97.3 353.6h0M105.1 347.4h0M113.6 352.7h0M107.9 352.5h0M118.5 353.6h0M140.1 364.1h0M140.7 364.9h0M134.4 369.4h0M103.9 349.1h0M126.1 372.8h0M120.1 356.7h0M132.2 375.4h0M109.5 344.8h0M131.0 344.1h0M113.6 352.0h0M117.7 335.1h0M101.9 353.2h0M138.2 353.3h0M125.3 363.3h0M134.9 348.2h0M125.3 366.9h0M118.2 343.9h0M136.9 381.5h0M125.0 369.3h0M141.5 374.9h0M133.2 369.9h0M104.5 351.2h0M141.9 362.0h0M136.3 361.6h0M127.2 374.9h0M109.8 359.4h0M125.0 370.7h0M96.3 354.9h0M123.8 368.4h0M130.4 369.4h0M133.7 361.6h0M114.7 336.0h0M138.6 376.1h0M129.0 352.0h0M115.0 352.5h0M129.3 351.2h0M115.6 366.9h0M136.1 376.4h0M127.2 343.9h0M119.4 365.9h0M106.4 350.5h0M114.5 348.0h0M129.6 367.3h0M117.0 347.6h0M141.2 372.8h0M133.0 385.4h0M146.2 381.0h0M119.0 366.2h0M132.2 358.4h0M118.7 369.4h0M127.1 364.2h0M138.7 382.4h0M118.3 346.0h0M145.0 382.2h0M125.3 341.1h0M122.6 364.0h0M133.5 384.0h0M137.5 387.9h0M133.2 345.7h0M136.7 361.4h0M138.5 386.3h0M145.5 382.8h0M132.1 353.2h0M109.6 346.7h0M125.4 357.8h0M137.4 352.8h0M125.9 367.9h0M116.4 350.4h0M114.7 370.2h0M101.6 353.3h0M124.9 346.6h0M130.4 346.3h0M131.8 358.3h0M131.0 350.9h0M115.4 337.2h0M109.9 346.8h0M144.6 377.0h0M111.9 345.5h0M128.8 364.1h0M148.9 381.3h0M121.1 376.4h0M123.2 363.3h0M109.2 348.5h0M126.3 355.4h0M133.7 358.0h0M129.2 370.3h0M119.2 369.3h0M142.7 379.4h0M135.6 371.0h0M112.8 357.2h0M130.3 381.9h0M134.2 376.4h0M121.8 347.4h0M137.6 355.3h0M138.0 364.9h0M120.7 345.3h0M123.1 342.1h0M124.0 337.6h0M110.2 347.1h0M117.6 350.6h0M115.7 345.8h0M131.5 352.8h0M131.2 353.1h0M142.6 384.1h0M140.2 382.0h0M129.8 342.5h0M119.6 371.3h0M138.7 365.2h0M119.7 357.6h0M125.1 370.1h0M134.2 387.9h0M106.0 347.3h0M115.7 335.8h0M127.9 354.9h0M119.7 369.4h0M113.2 358.1h0M96.1 354.5h0M142.7 380.1h0M106.2 359.7h0M124.6 361.1h0M119.7 353.3h0M137.4 362.8h0M111.5 344.4h0M119.6 339.1h0M136.6 381.2h0M129.7 345.3h0M128.9 350.5h0M126.7 377.1h0M125.3 371.0h0M111.9 363.9h0M125.6 379.2h0M142.0 369.3h0M136.9 358.2h0M112.7 350.3h0M127.4 342.2h0M121.4 350.8h0M122.9 364.7h0M121.7 354.7h0M124.4 369.5h0M118.2 368.3h0M118.4 343.8h0M127.0 371.0h0M125.9 368.3h0M120.5 373.8h0M137.9 365.6h0M141.8 385.3h0M119.4 342.4h0M101.8 356.3h0M147.4 380.1h0M139.4 384.9h0M108.7 349.7h0M110.8 347.2h0M120.6 341.9h0M134.3 370.5h0M143.6 371.2h0M107.3 361.4h0M124.5 365.3h0M120.9 352.4h0M130.6 372.0h0M137.1 383.9h0M133.4 369.3h0M102.8 357.3h0M103.5 352.6h0M136.7 355.0h0M130.4 349.8h0M132.4 365.1h0M125.1 339.3h0M116.5 352.9h0M127.4 355.8h0M131.2 353.1h0M127.3 365.7h0M128.1 341.3h0M131.2 361.3h0M112.0 365.5h0M126.9 364.5h0M117.6 353.6h0M116.8 345.6h0M126.1 347.1h0M125.7 352.8h0M141.3 381.3h0M145.9 381.8h0M104.2 350.1h0M133.3 355.4h0M109.6 356.0h0M124.9 346.3h0M121.1 358.8h0M142.6 374.5h0M140.4 379.1h0M122.0 346.5h0M122.9 352.5h0M123.2 376.0h0M140.6 366.4h0M138.8 355.3h0M101.1 350.3h0M141.1 371.8h0M118.5 356.1h0M128.4 367.6h0M134.7 381.5h0M119.7 373.7h0M138.6 384.4h0M124.4 342.9h0M114.9 350.7h0M122.0 359.2h0M112.1 357.6h0M102.9 350.2h0M125.2 371.6h0M137.2 350.6h0M130.6 345.7h0M122.6 341.7h0M110.8 353.4h0M136.6 373.3h0M122.5 376.4h0M111.6 359.9h0M119.0 354.4h0M110.9 346.4h0M127.9 373.5h0M121.7 338.7h0M129.1 362.8h0M110.7 350.0h0M112.3 344.4h0M124.7 346.8h0M122.9 370.7h0M133.7 385.3h0M102.9 348.2h0M126.4 352.9h0M138.8 379.3h0M125.4 350.2h0M118.3 361.3h0M135.2 368.6h0M137.5 369.4h0M141.5 370.0h0M119.7 359.4h0M116.7 349.1h0M101.4 352.8h0M119.1 339.8h0M120.8 359.6h0M137.9 355.1h0M129.7 351.3h0M106.6 351.3h0M133.1 377.6h0M135.8 363.0h0M136.5 363.5h0M118.0 360.0h0M133.1 352.1h0M105.5 349.0h0M104.6 349.2h0M100.8 354.8h0M137.3 358.6h0M138.2 384.6h0M100.9 350.1h0M105.0 349.1h0M124.2 337.5h0M125.4 346.7h0M128.1 365.5h0M118.3 364.8h0M124.3 378.7h0M131.4 360.7h0M124.2 349.1h0M133.8 369.4h0M123.1 362.4h0M116.7 360.2h0M115.2 362.5h0M115.8 351.6h0M112.0 366.6h0M115.2 347.7h0M129.1 363.7h0M120.0 371.7h0M112.7 348.2h0M127.7 376.2h0M109.4 362.9h0M113.1 331.2h0M133.8 353.5h0M107.9 347.9h0M131.9 362.0h0M123.6 357.8h0M120.7 363.5h0M126.8 362.9h0M133.2 375.1h0M136.1 380.0h0M117.0 367.3h0M123.3 374.5h0M102.0 349.8h0M130.1 359.2h0M136.7 384.3h0M143.8 381.7h0M107.2 357.1h0M129.6 359.7h0M114.1 345.7h0M127.4 344.7h0M133.7 348.3h0M120.1 373.3h0M135.9 373.8h0M120.0 353.3h0M113.6 343.8h0M93.2 351.9h0M136.3 370.6h0M124.1 337.8h0M126.1 378.4h0M132.8 352.0h0M146.0 382.7h0M109.5 345.1h0M96.7 349.2h0M96.7 353.5h0M128.2 351.7h0M132.1 345.7h0M119.0 351.4h0M114.9 342.7h0M113.4 360.4h0M130.9 347.8h0M127.8 344.2h0M126.9 378.2h0M125.7 366.6h0M119.7 343.2h0M117.1 339.5h0M131.6 349.0h0M140.2 373.5h0M130.1 376.8h0M145.3 377.3h0M138.5 381.8h0M120.0 334.8h0M102.6 355.3h0M119.9 350.8h0M126.7 381.0h0M134.5 366.5h0M130.0 354.7h0M106.2 356.3h0M102.0 355.4h0M107.5 347.0h0M130.4 365.2h0M121.3 357.6h0M117.5 371.1h0M136.8 364.4h0M104.7 352.7h0M145.5 374.4h0M117.0 356.5h0M128.5 379.4h0M99.8 356.2h0M110.5 360.7h0M125.0 354.1h0M134.6 355.8h0M133.1 365.7h0M118.1 341.5h0M121.5 335.8h0M113.3 353.0h0M112.0 353.7h0M139.4 382.8h0M136.7 349.9h0M119.8 361.2h0M124.3 369.6h0M113.4 362.5h0M127.2 339.6h0M136.5 365.4h0M120.8 354.4h0M118.2 342.8h0M115.0 361.7h0M122.6 360.4h0M142.8 372.0h0M124.5 357.7h0M131.1 357.5h0M143.5 372.4h0M102.3 356.1h0M135.4 373.7h0M139.4 354.8h0M125.8 344.8h0M129.6 347.4h0M123.9 372.0h0M125.8 380.4h0M127.9 362.1h0M121.7 358.1h0M145.5 382.7h0M136.9 367.5h0M124.7 342.1h0M115.1 336.2h0M130.9 382.9h0M106.2 359.4h0M132.9 363.2h0M101.9 348.8h0M136.6 374.5h0M131.3 383.7h0M95.9 349.6h0M115.5 369.3h0M141.7 384.9h0M94.7 353.5h0M103.0 354.3h0M117.2 362.9h0M103.8 353.5h0M147.8 380.0h0M131.6 344.0h0M129.8 357.8h0M120.0 336.9h0M138.8 355.7h0M100.9 356.3h0M125.6 364.6h0M130.7 371.0h0M134.5 372.9h0M119.7 361.5h0M124.5 358.2h0M109.2 361.9h0M117.4 352.6h0M134.8 385.9h0M140.0 371.6h0M133.0 345.0h0M118.7 339.3h0M143.7 381.6h0M125.1 358.0h0M133.1 385.4h0M113.7 353.9h0M145.0 376.7h0M125.1 339.2h0M130.2 364.1h0M138.1 366.1h0M116.1 338.1h0M128.7 377.6h0M132.8 368.1h0M112.3 359.9h0M126.3 375.4h0M134.4 352.1h0M135.1 371.5h0M117.4 358.3h0M133.2 344.7h0M129.2 352.3h0M129.6 352.4h0M129.5 376.0h0M106.3 360.2h0M125.8 349.1h0M121.9 340.3h0M122.4 372.6h0M134.9 385.0h0M132.1 348.2h0M106.0 357.5h0M109.6 357.8h0M125.3 340.1h0M133.3 363.2h0M113.6 359.0h0M102.5 357.5h0M139.5 363.2h0M136.2 347.7h0M135.3 349.4h0M111.5 345.4h0M143.7 374.3h0M130.8 378.0h0M116.0 346.5h0M119.4 346.8h0M122.9 341.1h0M104.4 357.2h0M131.1 343.6h0M130.2 360.3h0M133.8 379.6h0M126.4 378.6h0M127.5 358.3h0M147.4 382.5h0M126.2 341.9h0M115.7 365.6h0M118.5 346.9h0M103.0 355.0h0M114.7 362.0h0M122.0 340.2h0M131.9 362.7h0M102.7 350.1h0M117.5 354.8h0M99.2 354.4h0M112.6 352.3h0M127.9 371.9h0M124.0 362.0h0M115.7 333.9h0M110.8 352.3h0M133.4 361.0h0M108.0 359.7h0M135.5 346.8h0M133.3 345.1h0M130.8 378.9h0M133.1 351.0h0M126.9 342.5h0M127.4 339.3h0M106.3 359.3h0M138.5 368.7h0M138.0 356.9h0M116.6 366.9h0M134.5 352.6h0M99.4 351.9h0M123.1 347.6h0M117.1 372.7h0M105.5 358.2h0M129.5 369.1h0M134.5 351.1h0M118.9 347.8h0M100.6 354.6h0M138.4 361.2h0M117.6 339.7h0M130.8 375.1h0M110.8 363.2h0M122.9 348.2h0M116.3 343.4h0M122.1 350.3h0M134.2 375.4h0M123.3 372.1h0M114.8 363.8h0M120.2 350.8h0M111.5 352.9h0M103.4 355.4h0M111.7 362.1h0M95.1 351.1h0M138.8 385.8h0M129.5 373.1h0M117.1 357.0h0M118.4 348.4h0M137.7 360.7h0M137.2 381.0h0M119.1 342.5h0M109.3 363.2h0M131.1 369.6h0M133.6 361.2h0M131.8 384.2h0M126.4 360.8h0M134.2 344.8h0M143.0 372.7h0M122.2 340.2h0M118.3 367.7h0M120.7 353.8h0M125.3 370.9h0M137.4 372.8h0M136.1 387.6h0M109.9 360.2h0M98.2 349.8h0M144.0 371.9h0M124.4 354.0h0M120.2 367.6h0M129.7 376.5h0M121.7 336.5h0M140.2 364.2h0M131.6 361.3h0M130.4 366.3h0M133.7 363.7h0M106.1 347.8h0M98.0 353.0h0M126.1 347.9h0M121.1 340.5h0M109.5 348.4h0M138.3 386.9h0M137.3 385.4h0M111.5 363.8h0M121.3 354.4h0M129.9 347.1h0M124.0 357.2h0M118.8 372.1h0M106.7 360.3h0M126.1 354.8h0M139.3 356.6h0M110.7 359.9h0M118.7 341.5h0M128.5 372.5h0M124.3 378.1h0M106.3 348.8h0M97.3 347.8h0M123.8 364.4h0M138.8 383.6h0M140.2 382.5h0M137.4 374.6h0M121.6 360.9h0M114.1 366.4h0M126.6 351.4h0M134.4 369.9h0M131.4 373.4h0M122.1 372.4h0M131.1 365.3h0M115.9 338.2h0M149.1 381.7h0M127.2 363.8h0M138.4 364.7h0M123.8 361.6h0M126.8 365.9h0M111.3 360.5h0M134.6 383.4h0M123.1 359.7h0M133.1 376.0h0M127.6 379.2h0M125.9 364.6h0M132.6 386.2h0M108.8 359.6h0M94.5 349.3h0M144.6 384.0h0M135.5 381.0h0M133.1 374.6h0M126.9 345.1h0M105.5 353.6h0M132.2 343.3h0M128.1 351.4h0M140.1 363.7h0M126.5 370.0h0M143.9 381.6h0M142.6 375.9h0M137.3 355.9h0M108.1 347.8h0M143.4 380.6h0M113.6 331.5h0M127.2 373.8h0M126.6 380.8h0M99.0 353.0h0M141.7 362.0h0M133.9 347.3h0M124.1 343.5h0M123.7 375.1h0M125.0 360.0h0M121.2 363.3h0M99.8 353.4h0M102.1 349.5h0M140.1 367.3h0M139.1 378.4h0M138.4 379.4h0M133.7 361.7h0M112.7 347.7h0M96.3 354.9h0M118.0 345.4h0M125.5 358.0h0M121.4 356.2h0M107.5 349.9h0M131.1 352.9h0M133.3 374.1h0M137.8 354.5h0M117.0 347.8h0M138.2 357.1h0M148.3 380.8h0M130.9 379.8h0M125.6 338.9h0M122.3 338.2h0M101.8 356.0h0M117.9 337.6h0M136.5 354.5h0M135.1 386.8h0M151.2 393.3h0M157.7 412.2h0M153.3 404.4h0M158.8 413.4h0M144.2 415.5h0M158.7 395.1h0M154.6 397.0h0M151.7 388.2h0M159.5 407.0h0M147.9 420.0h0M150.1 415.4h0M149.8 389.0h0M146.8 402.0h0M146.4 406.4h0M142.3 405.2h0M158.6 403.4h0M150.1 415.8h0M146.1 415.2h0M143.7 399.2h0M163.2 408.1h0M148.0 415.6h0M141.1 396.4h0M150.1 414.4h0M148.1 394.2h0M157.0 410.8h0M156.7 408.3h0M148.4 389.4h0M154.2 404.4h0M146.3 394.6h0M154.5 417.4h0M146.8 392.9h0M144.8 397.3h0M155.5 399.3h0M140.8 393.6h0M142.2 399.1h0M155.6 397.9h0M152.7 421.5h0M146.5 395.5h0M153.9 407.8h0M158.1 421.3h0M159.0 394.4h0M142.7 418.0h0M150.1 418.3h0M159.1 399.3h0M144.4 406.5h0M149.3 419.5h0M146.1 392.2h0M149.7 399.3h0M145.0 395.3h0M150.4 395.5h0M141.6 392.9h0M145.7 408.8h0M158.6 402.4h0M162.9 407.4h0M148.8 420.1h0M156.2 399.5h0M155.0 408.8h0M146.7 390.4h0M150.8 407.1h0M143.9 412.3h0M154.8 398.5h0M152.8 419.3h0M140.9 389.9h0M143.9 392.2h0M139.2 396.4h0M156.3 419.5h0M159.2 397.1h0M147.4 402.3h0M161.5 398.6h0M151.9 408.8h0M145.2 387.3h0M143.9 409.2h0M154.3 414.2h0M159.5 396.4h0M146.2 391.7h0M141.7 411.0h0M148.5 408.4h0M149.1 388.6h0M157.5 404.2h0M156.6 416.1h0M159.7 399.5h0M152.7 418.3h0M140.4 391.6h0M145.5 390.1h0M156.3 398.9h0M146.1 395.5h0M154.4 394.6h0M153.0 414.2h0M142.5 418.8h0M149.6 406.9h0M152.8 414.9h0M139.9 394.6h0M157.8 410.1h0M157.5 406.6h0M161.6 410.6h0M155.0 405.2h0M154.2 406.0h0M142.8 408.5h0M142.0 385.4h0M144.0 400.5h0M148.1 409.4h0M149.0 420.6h0M142.2 397.8h0M157.9 393.5h0M163.1 410.9h0M139.2 387.3h0M149.2 406.2h0M139.9 386.6h0M142.7 415.5h0M159.6 399.2h0M150.1 397.8h0M143.0 403.7h0M143.7 404.3h0M153.6 397.8h0M155.1 394.4h0M162.9 405.2h0M152.0 410.1h0M150.6 412.3h0M137.7 392.2h0M154.5 414.4h0M143.2 396.0h0M146.1 384.5h0M156.1 393.3h0M155.1 414.8h0M144.7 409.1h0M150.9 414.1h0M149.0 418.0h0M140.8 418.8h0M157.0 419.3h0M143.7 390.3h0M139.3 392.5h0M145.5 418.4h0M153.9 401.6h0M158.0 400.6h0M150.9 410.3h0M155.3 416.4h0M155.1 397.3h0M149.3 392.8h0M138.8 390.6h0M157.4 415.1h0M157.3 412.7h0M152.2 409.7h0M144.4 419.0h0M138.5 391.4h0M144.9 402.5h0M149.0 386.2h0M156.7 396.9h0M148.4 407.5h0M145.8 394.0h0M154.0 408.7h0M154.4 407.9h0M146.2 387.6h0M143.8 392.1h0M144.4 405.8h0M143.9 399.9h0M155.0 396.6h0M160.7 404.8h0M162.7 413.6h0M161.3 397.9h0M147.4 385.1h0M151.3 405.2h0M157.6 396.4h0M147.8 409.4h0M144.0 392.8h0M160.5 414.9h0M140.6 420.4h0M142.9 405.5h0M146.7 416.7h0M160.2 399.6h0M150.8 395.1h0M146.8 405.1h0M149.3 410.8h0M157.9 405.0h0M159.9 406.3h0M140.7 421.6h0M143.2 388.3h0M154.6 419.3h0M141.8 396.7h0M143.2 397.5h0M151.6 387.4h0M152.1 421.1h0M150.2 395.4h0M156.7 420.0h0M155.3 398.7h0M151.3 396.8h0M154.7 415.4h0M157.4 411.7h0M142.1 386.6h0M159.5 405.8h0M152.3 392.1h0M153.9 409.2h0M141.8 415.9h0M148.4 401.1h0M141.1 405.6h0M143.6 407.2h0M152.3 388.9h0M141.9 398.3h0M152.3 404.2h0M146.4 399.7h0M154.7 401.3h0M150.7 397.3h0M161.1 412.4h0M146.3 404.0h0M141.9 392.0h0M151.8 406.7h0M142.7 414.6h0M151.5 392.1h0M144.9 390.6h0M163.2 407.0h0M145.1 404.8h0M142.1 413.2h0M147.7 398.6h0M143.8 415.6h0M152.0 395.5h0M139.8 396.0h0M162.1 400.5h0M156.2 412.0h0M157.7 406.5h0M148.9 417.0h0M147.0 394.9h0M142.5 416.8h0M149.8 421.3h0M149.0 385.1h0M138.2 391.7h0M157.8 420.0h0M150.5 404.0h0M155.8 399.1h0M143.4 397.8h0M142.1 385.8h0M158.3 412.3h0M141.6 400.7h0M148.0 383.9h0M149.8 418.9h0M142.0 404.7h0M157.0 416.4h0M142.2 393.4h0M143.9 396.6h0M144.1 389.4h0M156.5 396.4h0M160.7 417.6h0M157.5 412.7h0M144.4 392.9h0M147.0 416.8h0M144.0 395.8h0M153.8 391.8h0M153.8 421.1h0M142.1 394.0h0M144.4 408.3h0M141.7 412.7h0M145.5 411.1h0M154.7 398.9h0M156.3 420.6h0M146.3 401.1h0M157.2 417.3h0M154.2 408.7h0M144.3 418.9h0M141.0 397.5h0M151.2 400.4h0M148.9 392.6h0M138.2 388.7h0M143.9 407.2h0M159.2 404.9h0M155.1 418.9h0M152.4 407.0h0M154.5 391.0h0M159.3 397.1h0M158.0 412.2h0M151.5 407.1h0M146.5 388.9h0M163.0 408.4h0M153.4 410.8h0M144.0 420.6h0M153.0 404.0h0M152.5 392.4h0M153.6 400.4h0M140.7 396.3h0M143.5 394.4h0M141.7 416.0h0M151.6 412.4h0M144.5 392.6h0M159.6 404.1h0M160.6 396.8h0M143.8 404.4h0M152.0 419.9h0M143.9 405.1h0M154.8 399.1h0M145.1 418.2h0M154.4 390.6h0M151.2 402.1h0M162.0 413.4h0M160.1 401.3h0M156.2 414.6h0M155.1 417.2h0M161.8 410.9h0M161.5 403.3h0M147.4 410.9h0M150.9 406.8h0M147.3 406.1h0M154.5 402.6h0M145.0 388.1h0M154.9 414.3h0M140.2 393.0h0M154.7 420.9h0M149.4 389.2h0M145.5 394.0h0M152.5 407.9h0M144.3 395.6h0M141.2 393.8h0M154.5 421.6h0M140.8 394.5h0M152.2 418.1h0M140.5 398.1h0M155.5 400.9h0M158.5 410.6h0M158.4 417.3h0M158.8 408.7h0M150.4 391.0h0M150.0 387.4h0M141.9 407.5h0M153.8 400.4h0M143.2 404.9h0M150.3 392.1h0M150.4 410.4h0M153.7 411.5h0M151.9 392.2h0M154.5 389.7h0M142.5 391.2h0M143.2 409.4h0M154.1 400.8h0M160.9 405.8h0M149.9 398.8h0M147.8 402.8h0M146.2 387.5h0M140.3 393.3h0M146.9 385.0h0M148.5 390.9h0M145.4 396.2h0M140.1 391.5h0M142.6 412.2h0M152.9 401.8h0M152.6 412.7h0M138.3 388.9h0M151.2 406.4h0M157.3 398.9h0M136.4 389.8h0M149.4 390.3h0M144.7 415.6h0M155.1 410.7h0M158.2 415.9h0M155.6 390.9h0M144.8 409.9h0M162.9 403.5h0M145.5 419.3h0M148.3 384.9h0M140.5 390.0h0M147.2 401.9h0M149.5 410.1h0M142.3 386.2h0M156.6 406.1h0M143.2 391.9h0M145.0 396.3h0M149.8 386.9h0M156.3 409.4h0M158.2 407.7h0M156.1 417.7h0M148.2 396.9h0M149.3 417.5h0M154.3 402.2h0M148.2 394.5h0M150.0 419.4h0M155.4 421.7h0M146.5 385.4h0M147.7 397.6h0M143.1 392.2h0M156.8 404.1h0M151.2 404.5h0M145.5 384.8h0M154.2 401.1h0M154.8 392.3h0M153.1 416.4h0M154.6 419.0h0M143.1 436.9h0M149.2 424.7h0M155.7 423.1h0M151.2 426.5h0M150.5 422.6h0M146.5 422.0h0M141.3 435.6h0M150.2 424.2h0M149.7 431.6h0M142.1 434.2h0M151.5 425.1h0M153.0 424.7h0M142.5 429.4h0M149.9 424.6h0M152.1 428.9h0M153.5 426.0h0M147.6 423.3h0M150.9 422.8h0M142.7 434.0h0M140.9 429.5h0M142.2 431.3h0M140.6 427.6h0M146.7 432.1h0M149.3 428.7h0M143.1 424.0h0M145.6 433.5h0M142.1 425.2h0M147.5 424.8h0M152.9 422.6h0M145.1 429.3h0M144.9 423.6h0M145.4 435.1h0M145.7 422.8h0M147.5 424.1h0M146.3 432.2h0M146.2 434.2h0M144.3 426.9h0M153.0 422.4h0M141.2 427.5h0M146.7 428.4h0M143.1 426.0h0M150.6 430.6h0M142.3 430.5h0M143.6 428.9h0M151.0 428.1h0M149.2 428.7h0M146.2 430.9h0M140.5 432.1h0M140.7 421.8h0M140.1 432.4h0M150.8 423.0h0M145.9 432.1h0M145.9 423.0h0M144.6 423.7h0M152.2 422.2h0M140.4 425.3h0M141.2 422.9h0M148.4 431.6h0M141.9 428.2h0M147.1 430.1h0M150.0 424.8h0M144.4 426.0h0M146.6 430.2h0M140.6 429.2h0M144.3 434.0h0M144.1 424.2h0M147.1 432.3h0M140.8 434.3h0M141.0 423.2h0M146.2 429.0h0M146.6 423.6h0M151.7 426.3h0M150.3 431.0h0M142.0 434.5h0M150.6 429.4h0M148.0 426.4h0M147.3 433.4h0M146.4 429.6h0M140.2 425.7h0M145.9 433.5h0M143.3 428.3h0M143.1 437.5h0M143.0 434.2h0M140.5 429.0h0M140.5 425.8h0M153.7 427.2h0M141.6 425.5h0M148.6 429.0h0M147.7 424.6h0M142.4 435.5h0M143.3 429.0h0M152.1 423.8h0M147.5 430.7h0M144.0 433.8h0M151.2 425.4h0M143.3 433.3h0M144.0 432.4h0M143.2 432.2h0M140.9 431.5h0M151.9 422.0h0M145.8 430.5h0M151.5 426.7h0M140.8 428.8h0M140.9 435.8h0M142.8 425.2h0M141.1 428.4h0M154.9 423.5h0M155.5 422.2h0M140.4 431.6h0M145.1 433.9h0M146.8 427.9h0M153.9 424.8h0M145.9 423.5h0M146.1 431.3h0M142.1 435.5h0M146.1 435.1h0M150.1 429.8h0M144.6 428.2h0M142.1 434.7h0M151.0 430.0h0M151.2 427.3h0M145.9 430.3h0M143.9 424.6h0M148.6 423.5h0M141.6 422.0h0M146.0 426.0h0M143.5 434.1h0M144.9 435.7h0M142.6 435.5h0M144.1 437.0h0M84.7 350.4h0M81.6 360.3h0M91.2 355.3h0M89.0 357.3h0M87.9 353.1h0M81.3 379.6h0M86.1 361.6h0M79.5 378.6h0M87.9 351.4h0M89.2 361.7h0M84.5 351.4h0M76.8 386.0h0M84.6 376.0h0M80.4 366.1h0M87.7 386.3h0M78.9 380.7h0M79.7 372.2h0M85.0 356.6h0M86.1 351.3h0M81.5 371.4h0M83.3 353.5h0M89.2 355.6h0M90.1 352.9h0M88.9 369.1h0M86.0 374.6h0M88.5 350.7h0M87.5 388.2h0M86.9 372.4h0M78.3 383.4h0M91.0 361.3h0M83.5 372.3h0M87.4 358.6h0M87.0 386.4h0M87.6 354.5h0M87.3 379.2h0M88.2 369.1h0M92.1 357.1h0M82.8 360.8h0M87.5 360.4h0M83.5 381.3h0M85.3 352.2h0M88.6 373.3h0M84.2 358.8h0M79.7 388.6h0M86.1 368.0h0M91.4 350.8h0M82.0 359.9h0M85.9 378.0h0M86.3 373.6h0M76.1 385.0h0M82.5 349.8h0M78.3 389.6h0M78.4 389.4h0M83.8 357.4h0M80.7 364.0h0M83.3 364.1h0M89.6 355.1h0M89.3 354.7h0M80.0 386.8h0M83.3 384.1h0M81.5 370.4h0M82.7 373.2h0M85.2 378.3h0M81.8 367.1h0M84.2 356.4h0M82.5 376.8h0M85.5 359.5h0M82.2 354.4h0M77.7 376.5h0M81.5 383.5h0M86.3 355.7h0M77.1 388.7h0M88.8 358.1h0M82.3 363.2h0M87.7 363.4h0M86.8 351.0h0M81.6 375.1h0M81.8 383.7h0M75.0 386.9h0M83.5 386.4h0M82.8 381.0h0M86.4 362.0h0M87.2 371.7h0M79.3 384.9h0M80.7 386.6h0M87.2 380.7h0M78.0 385.3h0M83.5 365.2h0M82.2 375.2h0M77.8 378.5h0M84.4 352.0h0M90.1 362.4h0M83.2 384.0h0M81.6 355.2h0M83.7 365.1h0M77.3 377.1h0M89.9 366.5h0M89.8 366.3h0M86.7 385.8h0M81.9 355.3h0M80.1 368.4h0M89.3 354.0h0M77.3 377.4h0M85.6 387.0h0M83.6 355.4h0M91.5 359.5h0M80.4 377.1h0M83.1 379.9h0M88.3 355.1h0M84.2 358.4h0M81.9 358.1h0M84.0 353.5h0M78.1 375.4h0M80.0 376.1h0M86.8 384.5h0M84.2 381.4h0M89.2 360.0h0M87.0 349.3h0M85.8 358.9h0M83.3 376.7h0M81.6 383.1h0M87.9 372.8h0M91.9 352.9h0M86.0 358.9h0M91.4 352.3h0M79.7 372.3h0M84.2 360.7h0M88.9 376.4h0M79.3 387.8h0M86.7 373.1h0M90.1 355.5h0M81.5 365.3h0M89.6 363.9h0M83.3 377.9h0M88.9 372.3h0M81.1 371.3h0M88.8 355.4h0M88.4 365.0h0M87.2 374.8h0M90.1 369.3h0M85.5 353.4h0M88.2 378.6h0M80.5 378.4h0M81.5 375.8h0M82.2 358.6h0M83.0 382.8h0M82.9 377.7h0M64.8 422.4h0M87.1 387.4h0M80.3 409.5h0M105.9 401.3h0M61.3 426.7h0M61.9 441.8h0M92.4 414.5h0M75.8 427.7h0M68.8 423.7h0M92.5 418.0h0M69.2 409.2h0M102.8 398.7h0M74.2 427.5h0M67.9 439.1h0M78.7 418.6h0M88.7 424.7h0M75.8 417.6h0M76.5 435.9h0M97.6 399.1h0M68.6 429.5h0M87.1 398.5h0M84.0 411.7h0M87.9 421.6h0M96.5 403.5h0M105.7 408.6h0M64.9 435.0h0M76.0 426.4h0M84.1 396.2h0M101.9 406.4h0M73.4 410.5h0M65.0 436.3h0M69.3 436.5h0M73.8 409.7h0M68.7 407.3h0M100.5 398.8h0M65.6 417.9h0M75.1 406.5h0M70.2 440.2h0M67.2 418.9h0M75.8 422.9h0M79.1 433.4h0M68.9 426.0h0M69.3 443.1h0M65.6 434.6h0M109.8 402.6h0M81.0 425.6h0M112.5 406.2h0M77.2 395.5h0M90.5 392.3h0M92.1 397.0h0M58.7 428.2h0M72.1 427.6h0M78.3 415.3h0M88.0 424.6h0M94.7 413.8h0M72.3 405.5h0M70.1 403.9h0M78.7 392.3h0M104.7 413.9h0M62.9 440.5h0M94.3 411.2h0M72.2 431.6h0M83.7 422.9h0M73.5 434.9h0M102.2 397.3h0M79.8 389.6h0M64.2 421.2h0M87.9 415.4h0M76.3 405.9h0M86.6 397.3h0M70.4 427.0h0M105.7 406.1h0M87.3 407.7h0M96.0 403.6h0M72.1 422.1h0M102.1 412.7h0M74.0 396.0h0M82.1 395.4h0M95.8 413.0h0M69.1 436.6h0M108.7 410.2h0M77.5 422.0h0M91.3 415.4h0M67.9 411.2h0M86.0 413.8h0M111.8 412.9h0M89.7 402.3h0M68.7 429.8h0M71.8 420.8h0M73.3 399.1h0M88.6 393.1h0M67.5 408.2h0M70.7 402.3h0M66.4 419.9h0M79.9 404.0h0M61.2 421.1h0M73.0 432.6h0M99.9 411.1h0M107.4 408.4h0M58.4 439.3h0M86.8 428.1h0M65.4 414.6h0M106.5 402.3h0M107.1 411.5h0M65.7 430.3h0M66.9 411.6h0M61.0 437.9h0M81.7 425.8h0M72.6 435.2h0M59.9 429.8h0M78.3 407.5h0M90.3 396.7h0M75.1 393.7h0M77.5 415.9h0M65.4 417.2h0M67.9 438.0h0M101.2 411.4h0M102.4 401.4h0M65.8 437.9h0M86.5 402.8h0M83.2 390.6h0M80.0 414.6h0M80.5 405.2h0M93.3 420.9h0M88.8 388.4h0M62.7 417.7h0M70.0 434.7h0M101.4 396.8h0M106.8 409.8h0M61.1 441.0h0M90.6 400.9h0M87.1 427.9h0M92.8 400.3h0M76.1 423.9h0M77.7 395.4h0M102.3 399.4h0M58.1 432.1h0M92.2 411.1h0M97.8 406.4h0M76.6 394.8h0M97.4 404.2h0M68.2 428.7h0M89.8 404.7h0M77.0 398.8h0M83.7 428.0h0M85.3 430.4h0M99.1 402.9h0M70.0 421.6h0M60.7 434.9h0M65.9 420.8h0M81.4 394.1h0M76.9 433.9h0M65.5 418.8h0M89.6 422.6h0M81.7 425.9h0M87.0 390.7h0M77.3 404.4h0M72.3 412.4h0M68.1 438.4h0M95.0 407.4h0M96.0 409.6h0M99.1 402.6h0M104.1 400.2h0M101.5 411.1h0M83.6 401.1h0M107.5 400.6h0M109.1 412.8h0M78.0 405.2h0M107.9 409.0h0M76.4 398.3h0M79.8 427.7h0M61.5 422.3h0M66.4 428.9h0M84.7 410.5h0M105.6 404.7h0M84.8 399.9h0M70.6 431.8h0M108.1 406.5h0M96.4 409.3h0M84.5 428.3h0M72.5 399.9h0M68.8 429.0h0M66.0 437.2h0M79.5 417.7h0M78.4 412.3h0M101.0 406.8h0M72.5 412.0h0M62.3 419.7h0M99.0 398.2h0M82.3 418.1h0M76.5 399.3h0M88.2 407.6h0M59.8 424.4h0M74.8 413.9h0M79.5 427.4h0M83.2 414.7h0M63.2 418.6h0M89.0 388.5h0M81.1 421.9h0M95.7 399.0h0M71.4 417.2h0M60.3 422.8h0M88.4 425.5h0M86.3 421.3h0M62.5 432.4h0M80.8 415.8h0M104.9 402.8h0M85.0 399.8h0M90.5 397.2h0M80.7 424.9h0M97.1 405.3h0M111.3 403.8h0M74.8 409.4h0M95.7 411.8h0M93.5 415.5h0M88.3 393.1h0M57.7 434.3h0M82.2 434.1h0M62.0 434.4h0M67.8 424.0h0M67.9 417.3h0M108.6 403.0h0M98.0 398.6h0M69.9 436.3h0M60.9 443.5h0M74.6 432.0h0M109.9 404.1h0M93.4 401.7h0M85.8 407.1h0M70.2 411.6h0M67.1 434.8h0M69.1 416.6h0M92.5 423.9h0M98.5 411.9h0M92.5 410.0h0M67.1 430.8h0M102.1 408.2h0M95.0 415.2h0M90.0 402.4h0M71.1 417.8h0M87.2 412.0h0M71.8 403.1h0M80.2 398.6h0M94.5 414.4h0M76.9 416.3h0M93.5 404.8h0M101.2 410.2h0M93.5 411.3h0M90.8 417.1h0M75.1 397.6h0M64.4 444.9h0M65.2 442.6h0M67.6 422.7h0M77.8 411.2h0M76.3 422.1h0M98.1 395.1h0M67.7 419.9h0M81.0 401.6h0M84.1 396.2h0M89.0 427.4h0M83.4 430.8h0M80.8 390.7h0M95.8 395.7h0M64.3 419.7h0M75.6 398.3h0M81.9 427.3h0M73.3 440.2h0M103.1 397.8h0M79.6 416.1h0M76.8 389.7h0M87.7 395.5h0M64.6 432.1h0M101.1 396.6h0M81.8 412.7h0M73.3 420.8h0M79.9 409.8h0M87.6 417.3h0M79.6 435.5h0M62.7 425.4h0M118.0 413.0h0M107.9 405.1h0M78.8 403.3h0M89.5 422.4h0M92.9 404.0h0M75.0 433.2h0M65.1 433.9h0M65.3 419.2h0M110.9 407.5h0M60.6 425.1h0M67.3 417.0h0M112.7 413.4h0M87.7 400.7h0M79.0 433.6h0M68.3 412.0h0M104.6 402.6h0M113.7 407.5h0M74.7 435.8h0M85.2 400.4h0M85.1 400.1h0M71.1 431.6h0M83.9 406.6h0M69.5 404.8h0M96.8 414.1h0M88.2 399.4h0M89.8 390.1h0M82.3 390.2h0M101.7 412.1h0M96.9 406.6h0M86.1 394.6h0M92.8 398.7h0M81.5 391.7h0M79.5 434.2h0M67.1 417.6h0M104.1 398.7h0M71.6 436.4h0M97.8 413.0h0M86.2 416.5h0M67.1 414.3h0M85.0 406.7h0M64.4 440.1h0M113.6 412.0h0M105.7 411.7h0M78.7 434.8h0M97.8 399.7h0M94.6 418.4h0M96.0 406.1h0M94.7 398.9h0M69.8 426.2h0M99.0 415.4h0M111.6 411.6h0M91.6 392.7h0M70.0 415.1h0M64.8 415.9h0M82.3 434.6h0M88.1 406.6h0M62.3 444.9h0M63.3 429.5h0M73.4 399.5h0M60.8 445.2h0M80.8 430.8h0M78.8 390.7h0M104.5 400.4h0M75.4 439.2h0M92.4 417.9h0M87.7 397.6h0M85.4 420.9h0M87.9 407.5h0M72.7 432.7h0M91.7 408.3h0M84.2 403.4h0M66.7 422.4h0M82.0 392.0h0M89.3 399.1h0M87.5 429.5h0M82.0 396.4h0M85.5 431.9h0M94.1 393.6h0M65.1 435.4h0M60.5 427.9h0M97.9 413.7h0M68.9 430.8h0M108.7 407.7h0M81.1 422.8h0M81.1 413.2h0M87.4 408.9h0M86.7 391.1h0M90.8 425.5h0M84.2 395.6h0M88.3 393.4h0M105.8 406.5h0M79.5 410.4h0M69.1 436.5h0M66.8 437.8h0M75.8 403.2h0M85.1 410.2h0M87.5 395.7h0M92.1 411.1h0M76.2 410.1h0M62.0 421.1h0M92.5 415.1h0M75.0 417.8h0M85.8 425.4h0M87.5 422.2h0M77.2 426.5h0M71.0 404.2h0M86.3 410.9h0M92.1 419.9h0M63.3 441.0h0M68.3 439.7h0M107.4 412.5h0M91.1 409.9h0M84.5 427.4h0M72.9 434.5h0M74.9 420.5h0M76.5 407.7h0M91.8 416.9h0M74.8 419.7h0M79.6 405.5h0M73.4 431.4h0M78.2 391.6h0M87.1 414.6h0M67.2 418.7h0M82.8 433.4h0M76.5 437.0h0M67.6 434.9h0M63.4 421.6h0M76.2 422.5h0M104.4 401.0h0M80.3 432.3h0M67.7 421.0h0M93.2 412.2h0M94.5 401.3h0M82.2 390.9h0M102.9 399.5h0M104.6 398.9h0M66.4 434.0h0M75.5 431.4h0M62.4 440.7h0M60.0 432.7h0M80.7 389.0h0M99.5 396.8h0M91.9 424.5h0M79.7 399.1h0M78.1 401.7h0M105.8 405.3h0M113.7 408.1h0M88.3 403.5h0M77.6 428.8h0M85.0 431.0h0M77.6 426.8h0M76.7 410.5h0M70.3 414.0h0M72.8 425.8h0M88.6 422.9h0M65.7 415.7h0M69.6 436.5h0M95.0 412.4h0M75.5 401.3h0M81.8 393.6h0M81.7 427.7h0M77.9 390.0h0M113.3 413.3h0M65.1 437.1h0M72.0 407.8h0M58.3 437.8h0M65.2 423.3h0M65.5 415.4h0M78.2 395.9h0M87.2 407.6h0M109.0 412.0h0M69.0 410.6h0M78.8 393.3h0M90.5 408.5h0M87.4 389.6h0M68.5 416.2h0M101.6 405.3h0M98.5 411.1h0M83.1 429.6h0M85.0 410.0h0M66.5 420.3h0M63.9 435.2h0M71.4 412.2h0M60.0 424.4h0M67.1 422.7h0M91.8 399.3h0M94.3 405.1h0M80.2 418.2h0M88.4 415.0h0M72.4 422.8h0M87.2 402.9h0M86.7 419.4h0M104.2 410.6h0M73.9 433.2h0M86.3 399.6h0M72.0 410.6h0M61.7 424.4h0M102.7 402.2h0M75.4 392.9h0M62.1 419.3h0M91.2 400.1h0M71.4 424.2h0M107.9 412.6h0M80.7 418.9h0M88.6 395.2h0M65.6 418.3h0M98.0 411.8h0M74.0 407.0h0M86.6 413.9h0M78.1 430.1h0M94.0 410.2h0M93.5 405.8h0M74.0 422.6h0M105.3 412.1h0M97.6 415.7h0M70.6 411.1h0M88.4 389.1h0M89.2 409.6h0M94.0 418.4h0M86.6 403.8h0M95.6 412.0h0M63.4 438.6h0M101.0 406.1h0M69.8 416.7h0M90.0 413.1h0M115.1 412.5h0M68.0 411.4h0M103.7 401.5h0M78.1 404.8h0M74.4 409.6h0M69.8 419.6h0M97.4 401.7h0M68.5 413.5h0M75.2 429.4h0M83.6 397.4h0M87.3 400.3h0M69.5 440.3h0M62.0 444.4h0M58.7 440.4h0M80.2 397.5h0M92.4 419.1h0M97.2 401.7h0M91.4 398.5h0M75.5 393.8h0M87.9 408.0h0M79.6 405.9h0M70.5 410.0h0M89.9 409.7h0M58.0 434.7h0M87.1 394.9h0M77.3 424.9h0M67.5 431.1h0M63.4 422.2h0M85.1 421.2h0M90.4 394.0h0M76.0 434.1h0M69.3 430.9h0M82.9 405.3h0M103.8 401.0h0M68.8 441.2h0M67.3 429.8h0M96.8 402.4h0M105.9 413.6h0M73.7 418.7h0M104.2 409.8h0M87.3 426.9h0M64.3 417.9h0M86.9 423.8h0M83.4 397.7h0M64.6 415.0h0M73.0 421.5h0M91.6 398.2h0M85.5 391.7h0M96.9 399.8h0M86.0 392.1h0M75.0 398.1h0M72.8 435.6h0M69.6 415.4h0M81.4 397.2h0M94.8 412.0h0M66.6 437.2h0M72.1 434.7h0M85.3 406.2h0M72.8 432.5h0M91.3 425.3h0M89.1 415.3h0M83.3 399.6h0M93.9 411.6h0M76.1 436.1h0M62.5 441.0h0M68.2 417.9h0M96.7 407.1h0M62.4 429.0h0M78.0 396.7h0M99.7 401.1h0M91.0 415.0h0M77.5 419.7h0M71.3 402.3h0M103.8 403.2h0M60.7 423.9h0M80.6 393.6h0M82.3 389.8h0M112.4 409.8h0M76.7 397.3h0M106.4 409.6h0M80.9 423.6h0M89.9 406.2h0M80.8 401.0h0M87.3 395.0h0M67.9 443.3h0M88.1 397.6h0M71.4 403.1h0M73.1 429.6h0M61.6 423.7h0M66.9 420.6h0M101.5 403.1h0M87.0 399.0h0M75.1 429.6h0M89.8 416.5h0M70.0 426.5h0M101.6 402.1h0M95.6 410.9h0M79.7 411.7h0M75.9 439.8h0M77.3 431.1h0M80.9 409.1h0M74.2 407.6h0M88.0 389.9h0M93.5 395.3h0M68.9 427.3h0M90.2 397.9h0M86.0 405.2h0M91.1 417.9h0M88.5 403.6h0M111.7 406.2h0M86.2 394.6h0M75.7 415.0h0M86.1 388.1h0M60.3 430.7h0M65.6 415.9h0M68.1 427.9h0M105.2 403.7h0M77.5 390.0h0M76.0 395.9h0M95.3 403.4h0M100.3 397.8h0M64.1 423.5h0M62.7 424.7h0M71.3 432.3h0M77.5 412.6h0M86.5 415.5h0M100.1 397.9h0M76.4 418.2h0M61.5 434.9h0M62.9 432.0h0M80.7 436.1h0M60.1 425.4h0M89.6 405.1h0M86.8 404.6h0M99.2 402.0h0M71.4 406.9h0M88.7 407.2h0M96.5 416.4h0M89.8 427.1h0M95.2 399.4h0M60.7 426.5h0M75.9 396.3h0M69.3 443.2h0M64.9 430.1h0M90.4 391.6h0M70.4 413.5h0M96.3 400.1h0M88.5 393.1h0M76.0 403.7h0M81.1 418.8h0M86.1 428.8h0M65.6 442.9h0M77.8 401.9h0M93.0 422.5h0M114.3 412.3h0M89.4 390.6h0M114.3 408.3h0M59.2 427.9h0M107.8 401.5h0M76.6 391.1h0M75.6 392.6h0M69.7 425.8h0M83.3 422.8h0M94.2 417.1h0M77.0 436.5h0M78.2 419.9h0M67.5 422.0h0M87.9 417.3h0M82.2 402.8h0M71.3 408.7h0M66.3 426.6h0M63.3 416.2h0M89.7 418.1h0M81.7 428.9h0M68.8 433.8h0M78.6 405.5h0M79.8 407.9h0M81.8 427.2h0M70.3 405.6h0M77.5 413.4h0M63.1 442.2h0M82.0 413.9h0M87.1 391.5h0M94.3 406.1h0M77.9 410.1h0M73.3 436.4h0M70.7 412.9h0M85.2 403.2h0M64.4 419.8h0M77.3 424.7h0M71.8 416.9h0M85.1 389.2h0M113.6 407.7h0M70.7 434.2h0M76.0 411.1h0M84.0 388.7h0M70.6 416.2h0M92.7 394.1h0M70.6 426.4h0M76.8 428.2h0M75.8 403.1h0M80.0 413.6h0M63.8 430.8h0M81.8 402.1h0M70.7 415.2h0M81.5 417.6h0M89.0 416.5h0M71.1 417.8h0M72.9 422.8h0M75.3 401.1h0M82.9 426.6h0M71.3 428.5h0M83.8 388.6h0M100.7 408.9h0M65.4 433.6h0M80.0 399.1h0M94.3 399.0h0M87.9 424.0h0M65.7 444.8h0M62.0 422.7h0M109.3 407.2h0M82.0 414.1h0M69.7 437.2h0M68.0 434.2h0M67.2 419.0h0M79.0 393.6h0M105.3 413.4h0M91.0 423.8h0M91.6 422.7h0M86.7 406.4h0M81.2 391.4h0M84.8 426.4h0M66.0 411.5h0M88.5 422.2h0M104.6 405.8h0M82.6 402.0h0M83.8 392.5h0M79.5 424.5h0M72.0 408.3h0M80.2 411.2h0M90.0 418.9h0M64.9 427.3h0M64.4 417.9h0M112.7 413.7h0M74.9 412.3h0M77.6 402.7h0M83.8 411.8h0M80.5 433.3h0M80.6 403.4h0M67.5 439.0h0M89.1 404.5h0M67.6 432.0h0M88.9 415.1h0M99.1 413.0h0M96.3 408.5h0M92.1 423.7h0M93.4 413.0h0M73.3 395.3h0M111.8 411.6h0M85.9 395.2h0M79.8 427.1h0M74.8 425.1h0M93.2 395.6h0M77.2 399.6h0M63.4 423.9h0M77.2 410.8h0M88.8 411.2h0M96.5 410.2h0M111.6 409.4h0M112.8 410.4h0M86.9 418.5h0M79.9 416.5h0M84.8 403.9h0M96.6 409.5h0M95.6 412.7h0M85.4 416.7h0M113.6 407.5h0M62.5 438.3h0M86.7 406.0h0M76.5 422.0h0M66.5 442.0h0M63.4 443.6h0M68.4 426.4h0M107.4 404.0h0M92.7 421.8h0M72.9 435.1h0M89.7 424.7h0M71.0 441.6h0M75.8 408.7h0M83.5 420.6h0M75.1 416.0h0M101.7 413.7h0M106.4 411.7h0M79.1 416.7h0M61.3 426.6h0M89.8 390.2h0M115.4 413.2h0M68.2 437.9h0M88.4 389.0h0M98.9 407.2h0M75.3 429.9h0M87.9 390.7h0M94.5 407.6h0M75.6 405.4h0M84.5 405.2h0M82.3 401.2h0M74.4 403.8h0M97.7 401.5h0M74.3 438.1h0M107.4 401.8h0M110.8 407.4h0M64.9 419.0h0M70.6 440.6h0M69.3 404.8h0M66.4 428.6h0M99.3 402.1h0M62.9 439.4h0M78.7 391.9h0M66.7 419.0h0M102.2 408.8h0M105.3 405.5h0M93.6 421.2h0M71.4 421.8h0M63.5 444.5h0M66.4 439.7h0M100.9 406.0h0M73.4 420.2h0M58.9 430.9h0M68.2 440.6h0M71.2 424.7h0M71.1 414.2h0M63.7 441.3h0M64.1 434.1h0M77.6 437.9h0M91.4 407.8h0M113.9 413.0h0M64.8 436.2h0M73.0 424.7h0M76.8 405.7h0M73.6 404.3h0M86.7 397.9h0M82.3 420.1h0M80.7 389.0h0M84.7 407.2h0M85.8 405.6h0M85.8 426.0h0M76.9 437.6h0M87.7 402.8h0M81.4 413.4h0M85.8 396.3h0M74.6 433.9h0M68.4 434.2h0M80.8 427.1h0M84.1 401.9h0M79.3 433.5h0M94.3 402.5h0M73.0 406.7h0M91.6 399.1h0M85.8 395.3h0M76.4 396.9h0M72.4 437.2h0M80.8 393.9h0M63.8 443.2h0M78.4 423.7h0M73.8 409.2h0M71.0 418.8h0M72.4 429.7h0M75.0 440.1h0M71.1 442.2h0M63.3 423.7h0M61.4 440.1h0M62.3 441.7h0M70.6 424.6h0M85.3 425.1h0M81.8 388.7h0M64.9 433.1h0M80.9 429.2h0M66.3 441.2h0M98.7 396.8h0M110.6 406.5h0M78.1 429.7h0M85.5 400.6h0M71.2 430.3h0M152.7 356.7h0M161.7 368.1h0M153.0 358.1h0M155.7 363.6h0M155.0 364.9h0M156.6 374.3h0M154.2 355.0h0M159.2 354.0h0M162.8 359.5h0M154.1 351.8h0M156.3 357.1h0M162.0 360.8h0M153.6 365.5h0M159.3 370.4h0M153.8 371.7h0M157.2 377.6h0M160.6 356.0h0M155.6 369.8h0M156.0 365.7h0M154.8 367.1h0M155.4 370.0h0M154.9 362.8h0M160.2 373.4h0M158.7 362.5h0M158.9 353.2h0M158.8 375.8h0M155.2 375.4h0M158.6 365.3h0M153.7 365.9h0M158.2 372.6h0M154.2 363.0h0M155.4 373.4h0M162.6 353.6h0M155.4 369.4h0M156.4 371.5h0M157.0 353.7h0M157.0 349.3h0M159.5 358.3h0M155.5 352.7h0M154.1 374.1h0M160.6 358.7h0M156.5 358.7h0M154.6 372.4h0M161.4 360.3h0M159.0 367.8h0M158.3 366.7h0M156.7 373.9h0M157.9 350.0h0M154.7 372.1h0M157.9 358.3h0M158.2 350.7h0M155.0 354.7h0M156.9 356.4h0M154.1 365.9h0M158.3 371.1h0M159.9 366.7h0M153.8 364.6h0M158.7 354.0h0M154.1 360.0h0M161.2 361.0h0M155.8 351.1h0M156.7 366.2h0M155.5 376.3h0M154.6 352.9h0M161.8 361.4h0M157.2 368.4h0M155.8 353.8h0M158.8 358.7h0M152.8 361.8h0M157.3 360.4h0M158.4 364.0h0M159.2 361.7h0M155.7 362.9h0M155.5 365.1h0M162.5 353.0h0M159.2 363.5h0M160.2 351.2h0M157.3 361.9h0M156.9 356.3h0M153.6 360.5h0M153.1 358.4h0M155.4 352.9h0M161.9 360.9h0M156.4 355.7h0M159.3 375.5h0M155.9 368.9h0M158.2 360.1h0M161.0 352.3h0M155.8 374.0h0M153.4 357.7h0M154.4 360.6h0M154.6 368.0h0M161.9 357.1h0M158.9 359.0h0M154.7 371.1h0M162.0 357.2h0M160.2 372.8h0M154.0 353.6h0M154.9 369.4h0M156.2 376.0h0M157.5 354.4h0M157.8 355.0h0M155.2 366.1h0M157.8 371.1h0M154.4 370.9h0M158.8 358.9h0M157.6 357.5h0M162.4 354.1h0M154.3 365.3h0M159.6 357.0h0M160.6 361.8h0M154.5 358.5h0M153.9 368.0h0M157.9 365.3h0M160.2 276.8h0M165.9 282.8h0M167.1 275.3h0M161.5 281.3h0M156.0 287.3h0M149.7 281.7h0M166.2 278.9h0M156.7 290.7h0M165.5 287.4h0M152.0 282.1h0M162.7 290.6h0M167.1 285.3h0M158.9 275.2h0M164.5 287.4h0M160.8 281.9h0M160.0 289.7h0M166.3 278.1h0M158.8 278.2h0M152.2 285.3h0M153.2 286.5h0M156.5 289.1h0M163.3 281.8h0M161.1 290.3h0M157.4 274.4h0M164.7 280.4h0M153.9 280.8h0M164.8 284.8h0M156.5 287.4h0M168.4 277.3h0M160.5 281.5h0M169.5 282.5h0M151.0 279.2h0M160.5 273.9h0M150.5 286.0h0M161.9 282.6h0M155.2 284.1h0M152.5 281.7h0M164.7 277.6h0M157.0 284.2h0M153.3 285.1h0M160.6 276.5h0M155.3 276.0h0M164.9 278.4h0M166.4 286.7h0M154.4 276.6h0M166.7 277.9h0M160.0 276.3h0M164.0 273.1h0M161.3 290.5h0M152.6 275.5h0M153.4 274.7h0M159.3 282.8h0M154.1 274.2h0M164.7 279.8h0M159.7 274.0h0M163.1 279.2h0M159.6 289.3h0M160.4 274.0h0M159.0 272.3h0M160.1 272.6h0M150.9 283.2h0M159.6 285.3h0M149.8 281.7h0M158.3 276.5h0M157.3 278.9h0M167.5 285.4h0M168.2 280.7h0M159.7 283.6h0M160.8 273.2h0M157.2 284.2h0M152.9 274.6h0M151.6 277.4h0M163.2 286.5h0M161.9 276.6h0M153.0 280.7h0M161.7 290.2h0M160.4 285.7h0M160.1 275.1h0M159.4 287.7h0M156.4 287.4h0M160.7 275.6h0M161.8 276.5h0M161.8 284.4h0M152.3 274.6h0M161.9 280.2h0M163.1 280.8h0M151.2 282.4h0M149.7 280.7h0M165.3 278.5h0M151.0 281.1h0M169.1 280.2h0M163.4 275.6h0M162.3 279.2h0M157.7 283.9h0M150.2 286.1h0M158.0 282.0h0M150.4 284.8h0M150.4 286.8h0M154.6 274.9h0M161.2 277.9h0M157.2 284.4h0M168.8 278.0h0M151.5 279.5h0M154.1 285.1h0M162.8 283.3h0M167.4 279.1h0M159.7 275.4h0M168.3 276.3h0M162.1 283.7h0M156.6 282.5h0M152.3 282.1h0M165.9 283.7h0M153.7 289.0h0M148.7 282.6h0M151.3 284.3h0M159.4 290.5h0M162.0 287.4h0M148.9 279.9h0M161.4 288.3h0M161.1 278.3h0M169.0 281.5h0M160.8 280.5h0M164.8 278.3h0M158.3 275.7h0M161.6 287.2h0M160.5 290.0h0M159.5 283.4h0M155.6 275.6h0M162.4 289.6h0M165.5 280.2h0M158.6 281.0h0M151.4 287.6h0M156.0 284.9h0M157.5 279.4h0M158.3 286.9h0M156.1 272.7h0M168.5 285.5h0M167.0 283.9h0M168.0 279.0h0M155.4 275.2h0M170.2 279.5h0M161.8 273.4h0M149.5 277.9h0M165.8 282.9h0M149.3 280.2h0M163.5 285.2h0M169.5 284.7h0M153.7 278.5h0M158.1 281.5h0M157.1 275.4h0M168.7 280.4h0M165.2 276.9h0M155.9 280.4h0M158.3 286.5h0M164.0 280.1h0M150.4 285.7h0M153.9 279.2h0M153.0 284.0h0M166.7 277.7h0M158.3 279.3h0M158.7 287.0h0M165.5 288.7h0M159.8 274.3h0M160.6 288.0h0M167.0 285.3h0M160.5 286.3h0M159.4 276.7h0M155.5 281.4h0M149.9 282.4h0M155.4 279.3h0M160.8 291.2h0M168.0 275.9h0M158.5 272.6h0M158.6 287.3h0M150.9 278.0h0M156.6 274.2h0M152.4 286.9h0M160.2 276.9h0M166.0 282.3h0M169.9 282.4h0M158.5 282.1h0M167.4 285.2h0M151.0 286.2h0M157.0 280.7h0M162.5 282.5h0M153.0 287.2h0M165.6 282.9h0M167.9 278.5h0M158.3 280.7h0M166.4 281.8h0M156.4 287.5h0M158.1 274.1h0M163.1 275.0h0M158.2 288.9h0M160.5 290.4h0M163.8 277.6h0M156.0 279.2h0M167.1 282.5h0M157.9 283.5h0M160.4 278.1h0M168.6 281.6h0M167.6 279.5h0M161.3 287.9h0M163.1 288.4h0M169.1 283.1h0M160.3 290.2h0M161.9 279.8h0M157.3 275.9h0M154.3 286.9h0M162.8 285.8h0M150.6 285.2h0M155.0 280.4h0M163.8 286.4h0M162.9 272.8h0M160.1 286.0h0M161.4 290.0h0M164.6 283.8h0M149.8 284.3h0M164.0 282.8h0M162.3 283.1h0M169.5 277.8h0M152.6 274.6h0M149.7 282.8h0M158.1 274.8h0M159.7 289.7h0M169.4 279.0h0M157.3 288.6h0M163.7 277.4h0M155.9 278.1h0M156.9 273.2h0M151.2 277.5h0M154.6 276.4h0M164.9 278.4h0M167.5 283.8h0M158.2 290.9h0M156.6 280.0h0M166.2 288.0h0M160.9 272.4h0M161.0 274.5h0M170.2 280.0h0M166.8 283.2h0M149.8 286.2h0M166.6 283.7h0M167.6 281.6h0M164.1 285.2h0M154.9 288.2h0M167.2 277.3h0M156.7 281.5h0M154.9 277.5h0M167.4 283.7h0M155.3 286.9h0M165.6 284.7h0M163.1 282.8h0M160.6 272.1h0M165.8 279.6h0M156.5 285.0h0M168.8 280.7h0M155.6 280.1h0M154.5 287.5h0M156.9 286.2h0M159.7 287.8h0M152.1 285.7h0M156.1 279.3h0M160.7 290.1h0M152.9 277.1h0M156.4 285.5h0M167.2 286.3h0M159.4 282.7h0M151.6 288.1h0M160.4 283.3h0M152.0 279.2h0M159.3 275.8h0M152.6 279.9h0M160.4 277.3h0M161.1 288.9h0M160.0 286.7h0M163.6 277.6h0M157.8 290.1h0M154.0 276.4h0M155.8 273.5h0M151.5 278.9h0M157.4 285.9h0M161.9 286.5h0M156.7 283.3h0M151.7 278.8h0M155.0 284.5h0M157.9 272.6h0M155.5 278.6h0M152.3 286.6h0M155.4 283.0h0M164.2 287.5h0M169.0 282.4h0M161.9 282.8h0M150.8 277.5h0M167.1 279.1h0M166.2 279.2h0M166.9 279.3h0M155.3 274.5h0M164.7 277.1h0M149.5 278.3h0M165.8 279.9h0M150.8 278.8h0M162.5 287.1h0M162.4 276.9h0M164.0 282.2h0M167.2 284.8h0M153.9 277.2h0M156.5 273.1h0M168.1 284.1h0M153.7 288.7h0M165.8 277.6h0M158.3 276.9h0M161.1 273.2h0M164.8 285.7h0M153.4 275.1h0M157.6 288.7h0M156.8 283.7h0M149.5 285.2h0M150.7 281.7h0M168.1 277.6h0M150.0 286.3h0M156.3 276.4h0M149.7 279.1h0M152.0 286.8h0M150.6 284.6h0M154.8 283.0h0M160.8 282.5h0M164.5 286.4h0M163.9 288.7h0M150.1 285.9h0M164.0 280.9h0M164.3 287.9h0M155.2 287.9h0M162.8 286.7h0M166.8 283.9h0M164.3 290.2h0M170.8 299.9h0M169.5 291.9h0M168.1 300.6h0M164.9 298.3h0M163.7 295.8h0M161.7 310.8h0M159.5 309.7h0M163.7 302.0h0M162.5 296.5h0M156.8 306.3h0M171.3 296.5h0M161.7 304.4h0M168.5 294.2h0M168.2 297.6h0M166.4 293.8h0M159.6 307.2h0M167.2 307.7h0M165.5 305.1h0M165.1 296.6h0M162.6 299.2h0M164.4 309.1h0M162.6 297.1h0M166.1 293.8h0M165.8 299.0h0M166.4 302.5h0M162.6 295.8h0M157.9 305.6h0M156.8 308.7h0M162.9 299.2h0M158.5 305.8h0M165.7 292.6h0M158.6 294.7h0M162.2 293.4h0M161.2 290.3h0M165.3 294.2h0M167.8 295.7h0M168.9 294.2h0M168.0 296.0h0M166.9 290.6h0M165.5 291.9h0M169.0 294.8h0M161.8 310.4h0M167.6 298.1h0M166.1 299.2h0M169.7 301.1h0M162.9 308.5h0M168.3 291.8h0M170.2 298.7h0M169.8 293.6h0M168.2 299.5h0M162.9 312.7h0M157.6 312.5h0M158.3 293.4h0M158.4 290.8h0M159.9 308.5h0M163.4 302.6h0M160.4 313.5h0M170.6 291.3h0M159.8 290.7h0M165.8 297.1h0M158.2 309.3h0M161.9 312.0h0M168.4 306.7h0M158.6 291.0h0M170.2 298.6h0M169.5 300.7h0M158.3 291.4h0M156.5 291.3h0M160.3 299.8h0M169.2 296.4h0M159.9 299.5h0M165.6 311.2h0M165.8 300.9h0M164.9 305.7h0M164.9 305.9h0M165.2 309.1h0M160.2 301.5h0M157.3 300.1h0M169.7 294.5h0M169.8 299.6h0M160.9 312.0h0M164.9 299.7h0M160.2 294.3h0M162.6 296.1h0M159.7 294.2h0M156.2 304.3h0M164.0 310.1h0M167.7 297.5h0M160.6 293.0h0M168.0 296.0h0M162.6 310.2h0M161.8 304.6h0M165.9 311.2h0M156.8 293.1h0M164.9 297.2h0M160.2 303.0h0M156.9 291.2h0M161.5 309.0h0M164.7 305.5h0M163.7 295.3h0M168.8 297.4h0M161.2 303.1h0M165.2 306.0h0M158.9 312.7h0M164.3 296.1h0M158.8 296.8h0M167.1 297.1h0M159.4 302.8h0M170.5 291.5h0M160.1 299.2h0M161.1 291.1h0M159.2 295.7h0M160.3 298.2h0M156.6 310.0h0M163.6 297.5h0M165.0 303.8h0M160.2 292.4h0M163.1 312.2h0M156.9 301.9h0M156.6 306.7h0M158.8 295.0h0M166.4 291.5h0M159.1 300.1h0M164.5 302.3h0M144.2 325.9h0M145.9 326.8h0M140.4 332.6h0M141.8 330.8h0M131.1 343.5h0M150.9 328.1h0M151.0 327.4h0M150.3 318.8h0M142.3 331.1h0M137.2 333.4h0M130.0 338.0h0M144.4 326.8h0M150.7 318.6h0M148.6 323.1h0M155.0 317.7h0M159.3 316.6h0M158.0 315.1h0M160.4 317.9h0M132.4 336.5h0M149.5 325.0h0M143.4 327.5h0M144.0 327.7h0M149.1 330.5h0M152.5 316.8h0M157.8 309.3h0M161.9 315.3h0M135.1 338.2h0M146.5 321.6h0M149.6 319.2h0M159.3 308.8h0M157.4 308.8h0M137.8 333.1h0M159.2 308.0h0M162.7 312.0h0M140.6 329.0h0M148.2 320.6h0M147.7 320.5h0M155.2 319.0h0M129.6 343.4h0M146.6 330.6h0M149.6 325.9h0M135.5 341.8h0M162.1 309.1h0M149.3 327.7h0M140.1 338.8h0M149.9 317.5h0M143.3 335.5h0M164.0 311.8h0M131.0 343.5h0M129.9 338.2h0M155.1 318.4h0M147.9 319.4h0M152.9 317.7h0M137.7 341.5h0M151.6 315.3h0M146.5 327.2h0M142.0 335.5h0M146.0 322.9h0M151.5 320.6h0M142.4 326.8h0M142.4 338.8h0M148.9 322.6h0M133.4 339.0h0M145.8 323.2h0M154.1 316.0h0M133.1 345.1h0M140.8 332.6h0M159.8 313.3h0M159.3 309.4h0M141.3 338.0h0M137.0 336.3h0M141.9 334.0h0M151.3 318.1h0M136.7 337.2h0M156.8 313.3h0M153.4 323.7h0M154.1 314.2h0M145.9 334.5h0M145.0 334.0h0M157.2 310.4h0M139.0 331.3h0M161.5 310.4h0M153.9 313.6h0M150.6 321.9h0M149.5 327.4h0M144.4 328.2h0M149.1 322.4h0M154.1 314.0h0M159.1 316.5h0M155.1 318.0h0M141.9 338.9h0M164.6 311.1h0M159.5 315.2h0M152.1 326.3h0M144.2 338.0h0M158.1 328.8h0M153.5 334.2h0M146.6 335.6h0M148.6 335.2h0M148.6 335.8h0M150.4 335.9h0M151.5 332.1h0M150.7 336.7h0M146.9 331.5h0M151.6 336.6h0M151.4 329.3h0M153.2 327.6h0M150.0 337.3h0M148.9 334.4h0M156.6 335.4h0M149.6 338.5h0M149.9 325.4h0M154.8 334.2h0M155.9 326.4h0M153.1 338.6h0M148.1 323.3h0M153.0 335.5h0M145.9 333.6h0M150.9 335.3h0M144.9 338.2h0M143.8 327.5h0M148.7 336.6h0M159.0 331.9h0M161.7 324.2h0M156.2 343.3h0M156.4 333.8h0M158.2 321.6h0M160.8 326.4h0M155.5 340.0h0M159.1 330.6h0M159.6 328.3h0M158.1 340.1h0M158.0 344.6h0M156.2 350.0h0M156.6 351.4h0M156.0 332.0h0M162.2 322.4h0M157.5 333.6h0M160.3 329.9h0M156.3 351.7h0M156.9 321.7h0M162.1 318.6h0M156.5 341.0h0M158.2 343.0h0M158.1 315.5h0M158.0 332.0h0M158.8 332.8h0M157.9 333.3h0M159.7 325.6h0M157.6 328.2h0M162.4 320.2h0M162.7 315.3h0M156.9 350.1h0M159.5 314.6h0M158.9 334.8h0M158.1 325.3h0M157.0 329.8h0M159.8 330.1h0M157.8 344.7h0M159.5 346.5h0M155.7 332.5h0M158.7 340.0h0M157.4 313.5h0M156.0 346.1h0M160.1 349.4h0M157.9 343.2h0M180.4 303.0h0M186.5 307.9h0M172.1 307.0h0M177.3 303.9h0M175.7 318.3h0M186.6 310.1h0M169.9 309.0h0M188.8 310.9h0M183.7 306.7h0M178.4 322.8h0M180.1 322.3h0M183.5 322.9h0M174.9 303.2h0M188.4 308.7h0M186.3 305.0h0M177.9 305.7h0M186.0 318.9h0M183.1 304.6h0M186.1 320.5h0M172.0 317.7h0M178.4 322.3h0M175.8 321.3h0M181.0 321.4h0M180.7 305.4h0M188.6 311.3h0M180.0 305.2h0M187.8 318.1h0M188.3 308.9h0M181.8 323.6h0M180.1 320.6h0M187.8 310.8h0M186.4 313.4h0M169.6 309.6h0M184.0 307.5h0M170.8 307.1h0M187.5 317.9h0M168.4 308.4h0M175.1 319.7h0M185.7 308.3h0M183.3 303.5h0M186.4 321.2h0M184.9 318.2h0M187.6 318.0h0M188.8 311.7h0M183.8 322.8h0M186.8 318.9h0M175.9 318.2h0M174.1 303.5h0M187.1 311.2h0M172.4 307.3h0M168.9 307.4h0M186.4 306.6h0M172.4 307.3h0M185.2 304.6h0M185.5 315.1h0M172.8 307.8h0M181.5 306.0h0M181.3 304.4h0M169.1 307.5h0M184.2 320.9h0M172.3 305.8h0M187.3 317.9h0M185.9 314.6h0M175.6 304.2h0M175.9 338.3h0M179.4 338.5h0M211.5 361.4h0M180.4 344.9h0M192.1 352.0h0M170.5 317.4h0M174.1 319.7h0M206.6 362.1h0M201.4 356.6h0M176.5 335.8h0M180.2 345.9h0M171.7 318.2h0M173.1 339.9h0M176.6 331.3h0M177.0 323.7h0M168.8 313.0h0M184.0 349.3h0M192.3 357.1h0M194.6 355.3h0M200.1 355.9h0M165.8 305.2h0M173.4 312.3h0M177.3 347.7h0M170.6 310.1h0M175.6 341.4h0M178.8 341.3h0M177.9 325.6h0M175.7 320.4h0M204.0 361.2h0M194.9 356.3h0M209.7 360.9h0M178.0 329.4h0M169.9 320.0h0M170.7 313.1h0M197.2 357.1h0M170.8 321.1h0M174.3 319.0h0M183.6 352.8h0M176.0 323.8h0M194.2 358.6h0M174.8 340.5h0M173.9 332.4h0M195.0 352.6h0M174.1 315.8h0M192.7 357.7h0M167.3 310.7h0M191.4 356.8h0M173.2 315.5h0M174.8 329.4h0M203.5 363.2h0M173.2 340.9h0M169.1 316.9h0M196.9 357.8h0M173.4 332.6h0M165.7 311.5h0M177.3 344.2h0M198.6 355.6h0M175.0 317.5h0M207.4 362.5h0M170.2 319.0h0M175.9 337.9h0M192.8 357.3h0M172.0 310.9h0M190.9 352.6h0M179.5 346.0h0M164.9 308.6h0M173.9 325.1h0M172.6 314.1h0M170.7 312.2h0M178.2 331.6h0M172.0 314.2h0M169.9 306.2h0M205.0 358.1h0M184.9 349.7h0M194.4 356.3h0M169.3 307.9h0M190.8 357.5h0M182.4 346.4h0M200.6 357.6h0M211.6 362.4h0M186.5 354.7h0M212.3 360.0h0M178.2 327.5h0M189.7 349.0h0M175.8 340.8h0M197.8 358.6h0M205.8 360.2h0M174.1 313.3h0M169.6 318.9h0M171.4 324.2h0M190.4 350.4h0M204.9 362.1h0M176.7 334.5h0M196.1 353.1h0M177.7 326.8h0M178.9 344.2h0M187.3 354.3h0M209.9 363.5h0M188.7 349.1h0M177.4 324.2h0M169.7 318.0h0M184.3 350.6h0M175.3 333.6h0M188.1 353.2h0M191.1 350.4h0M166.2 306.0h0M205.0 359.8h0M170.1 320.8h0M176.5 330.2h0M165.7 310.3h0M177.7 328.3h0M211.8 364.3h0M211.3 359.7h0M167.6 313.3h0M176.1 331.0h0M192.1 354.3h0M179.8 344.1h0M174.2 340.3h0M174.7 340.6h0M174.7 319.8h0M173.2 338.1h0M173.5 312.3h0M203.5 356.7h0M174.3 340.5h0M172.0 322.7h0M168.8 306.5h0M210.7 358.7h0M174.0 318.8h0M191.5 356.5h0M188.6 348.9h0M201.6 361.0h0M183.6 346.0h0M170.6 322.1h0M175.8 324.0h0M174.7 334.4h0M197.7 354.9h0M173.4 317.9h0M176.5 330.3h0M168.0 305.7h0M198.2 358.6h0M170.6 308.2h0M179.3 345.5h0M175.8 336.8h0M190.1 351.6h0M190.9 355.0h0M185.6 348.5h0M167.2 308.2h0M195.1 352.7h0M174.8 338.2h0M171.3 313.2h0M171.9 330.4h0M207.7 360.2h0M177.5 335.3h0M210.6 364.9h0M212.3 360.5h0M183.4 348.4h0M200.5 358.1h0M171.5 326.2h0M174.9 320.2h0M172.6 329.5h0M181.2 343.0h0M173.2 339.0h0M175.0 316.5h0M185.9 351.0h0M186.2 347.3h0M208.0 364.3h0M172.0 313.4h0M175.8 327.7h0M195.6 353.5h0M178.8 332.9h0M186.6 347.4h0M203.0 357.8h0M177.6 324.0h0M203.9 357.4h0M176.0 327.5h0M206.4 360.3h0M176.7 319.6h0M166.2 305.4h0M172.2 311.6h0M175.7 319.3h0M198.1 355.8h0M173.4 314.7h0M208.0 361.5h0M207.6 359.0h0M211.7 365.7h0M207.8 367.3h0M208.6 357.8h0M210.6 357.5h0M210.0 359.9h0M206.6 366.3h0M212.4 359.5h0M209.2 359.4h0M206.1 368.9h0M202.6 365.3h0M208.7 367.4h0M207.1 361.0h0M210.4 362.8h0M209.2 368.0h0M214.7 366.4h0M206.2 366.2h0M201.5 362.1h0M203.0 359.3h0M215.1 361.2h0M209.8 359.8h0M208.3 366.5h0M208.0 357.7h0M215.4 361.7h0M199.2 361.6h0M206.0 363.5h0M199.8 360.5h0M200.7 362.5h0M211.0 361.7h0M201.2 365.0h0M209.1 363.9h0M207.2 364.9h0M199.8 360.2h0M208.1 362.5h0M207.2 359.3h0M207.2 359.5h0M201.6 365.5h0M213.5 365.3h0M203.0 366.8h0M207.0 361.2h0M205.9 357.2h0M207.0 364.1h0M212.2 366.2h0M201.7 358.3h0M210.7 360.0h0M207.5 366.1h0M206.8 356.5h0M203.7 360.8h0M202.7 362.6h0M203.9 360.0h0M212.3 366.6h0M204.0 363.8h0M203.6 367.5h0M206.7 368.0h0M205.8 367.6h0M214.9 360.2h0M214.3 366.6h0M204.6 358.3h0M206.6 359.5h0M207.0 363.1h0M207.6 360.9h0M214.0 360.3h0M211.3 364.6h0M204.4 364.0h0M211.3 368.3h0M204.9 359.2h0M213.9 361.0h0M209.1 368.8h0M210.2 356.6h0M204.7 365.6h0M213.7 358.8h0M210.9 356.7h0M208.2 362.4h0M201.9 362.3h0M207.6 362.1h0M210.1 365.3h0M209.9 361.4h0M213.1 365.1h0M210.2 367.1h0M210.9 364.8h0M138.1 429.6h0M125.0 436.3h0M116.5 418.6h0M116.1 428.2h0M93.4 371.6h0M116.8 421.5h0M106.5 425.3h0M130.4 410.4h0M124.8 404.9h0M99.6 421.3h0M120.4 410.7h0M132.2 406.3h0M108.0 433.7h0M96.1 390.4h0M125.3 433.9h0M118.1 398.3h0M111.0 410.9h0M118.2 396.9h0M140.1 407.5h0M125.3 395.8h0M106.5 392.0h0M103.5 381.1h0M95.7 360.7h0M120.4 382.6h0M130.4 419.4h0M120.4 414.9h0M128.3 401.0h0M94.8 376.3h0M120.8 423.1h0M109.3 414.6h0M129.7 393.8h0M139.8 414.5h0M123.5 427.0h0M108.9 366.2h0M129.3 388.7h0M116.4 383.2h0M102.4 394.9h0M105.5 425.4h0M128.6 406.7h0M118.0 409.0h0M181.3 442.6h0M180.1 437.7h0M131.5 453.6h0M175.2 450.3h0M165.6 447.3h0M142.7 447.9h0M189.9 437.7h0M182.6 436.4h0M161.5 447.8h0M183.1 434.0h0M181.3 426.2h0M148.4 447.3h0" stroke="#C9C9C9" stroke-width="1.45" stroke-linecap="square" fill="none"/>
<path d="M82.5,322.9h0M85.0,321.5h0M100.2,334.7h0M91.7,330.1h0M78.9,342.8h0M105.8,327.7h0M98.9,338.4h0M79.2,333.1h0M73.9,328.0h0M104.4,345.5h0M98.9,340.0h0M88.4,332.9h0M73.7,337.3h0M95.7,333.3h0M100.9,338.7h0M89.9,344.4h0M83.0,335.3h0M94.2,336.9h0M92.8,339.0h0M118.2,334.1h0M88.3,317.1h0M92.3,324.6h0M78.8,327.7h0M82.4,319.4h0M110.8,338.8h0M105.8,342.2h0M87.7,332.8h0M83.0,343.4h0M116.2,335.7h0M78.5,321.0h0M96.4,336.0h0M99.9,328.9h0M94.5,343.6h0M73.9,332.9h0M107.8,332.2h0M96.1,326.3h0M98.4,327.0h0M97.8,325.7h0M90.4,326.6h0M90.2,327.2h0M96.7,347.3h0M106.9,330.6h0M110.4,333.4h0M113.8,341.2h0M86.8,320.0h0M102.7,343.2h0M80.0,321.6h0M79.6,328.4h0M90.4,329.8h0M82.7,320.0h0M103.6,345.5h0M87.8,342.8h0M80.0,341.0h0M106.4,340.0h0M74.7,340.3h0M88.8,339.2h0M78.3,344.7h0M90.4,345.9h0M75.8,330.3h0M98.5,329.8h0M92.8,340.4h0M109.3,328.3h0M92.0,335.2h0M74.7,338.7h0M89.1,326.0h0M74.1,335.2h0M92.8,346.8h0M98.2,339.4h0M95.4,346.0h0M88.7,339.1h0M78.4,337.6h0M114.3,331.6h0M115.0,338.7h0M94.4,342.5h0M114.3,338.3h0M93.2,324.7h0M115.0,335.3h0M82.7,333.3h0M112.9,343.9h0M123.8,354.9h0M130.1,380.9h0M129.4,364.1h0M123.0,365.6h0M112.8,365.8h0M148.0,381.8h0M124.8,346.6h0M96.4,350.4h0M134.3,384.4h0M128.7,344.7h0M118.9,367.4h0M135.9,371.1h0M118.2,345.8h0M119.0,358.2h0M106.0,350.6h0M121.6,341.2h0M116.1,336.8h0M134.2,383.9h0M135.2,353.4h0M122.2,346.6h0M95.8,350.8h0M135.4,350.1h0M123.0,372.2h0M112.1,344.5h0M117.0,368.0h0M96.8,351.4h0M118.4,366.5h0M122.7,366.9h0M116.6,368.4h0M141.7,361.5h0M120.8,343.0h0M133.8,346.8h0M136.1,358.5h0M118.5,334.2h0M139.6,357.6h0M116.4,342.2h0M97.9,350.6h0M122.2,362.7h0M137.2,374.1h0M97.5,350.0h0M138.8,369.3h0M137.8,374.8h0M119.7,358.4h0M108.2,348.4h0M126.4,339.5h0M117.1,355.0h0M139.0,369.2h0M134.9,359.5h0M119.7,337.0h0M119.3,361.8h0M118.5,348.7h0M92.1,350.0h0M105.9,346.5h0M95.1,352.3h0M104.7,352.5h0M119.9,337.0h0M120.1,373.1h0M115.1,332.0h0M121.7,372.6h0M148.5,381.5h0M133.9,360.1h0M135.9,369.0h0M134.3,384.5h0M145.6,374.3h0M122.8,363.8h0M120.9,367.4h0M117.8,342.1h0M100.6,348.9h0M136.6,373.0h0M100.7,351.5h0M124.0,345.4h0M142.3,377.3h0M131.5,380.4h0M120.8,363.7h0M135.6,382.4h0M128.7,382.8h0M128.0,347.1h0M134.4,348.8h0M137.4,378.5h0M125.7,364.7h0M117.0,356.2h0M133.3,385.8h0M136.6,378.7h0M136.3,372.8h0M137.9,372.4h0M132.8,382.6h0M125.0,374.9h0M148.2,381.6h0M109.6,348.8h0M102.4,350.1h0M108.5,352.8h0M142.1,375.2h0M133.7,383.4h0M129.6,373.7h0M113.3,362.5h0M139.0,377.8h0M99.9,355.4h0M125.2,339.8h0M132.8,366.6h0M123.3,376.2h0M114.1,368.7h0M101.5,353.3h0M136.3,382.6h0M110.9,344.2h0M102.1,355.0h0M107.8,346.9h0M120.9,335.3h0M102.5,355.5h0M134.4,382.9h0M131.0,375.7h0M142.5,383.9h0M131.1,342.5h0M114.2,356.9h0M134.0,348.6h0M126.4,366.9h0M128.9,369.6h0M118.0,349.2h0M119.4,354.5h0M129.7,340.2h0M137.8,352.3h0M145.5,378.2h0M126.2,350.2h0M144.1,376.4h0M137.9,362.4h0M114.8,351.8h0M138.9,360.0h0M137.3,361.9h0M131.7,384.2h0M105.5,354.3h0M129.7,345.7h0M125.7,338.0h0M134.8,382.5h0M119.3,359.3h0M136.5,369.8h0M132.3,361.1h0M135.9,369.0h0M125.5,363.3h0M121.7,361.4h0M129.7,350.0h0M109.9,359.8h0M118.9,366.4h0M143.6,378.5h0M127.0,342.2h0M143.5,384.1h0M130.3,344.6h0M136.6,377.4h0M143.2,382.4h0M143.4,374.1h0M116.3,355.0h0M143.4,378.6h0M128.6,366.8h0M115.4,361.9h0M122.1,364.3h0M120.6,352.1h0M124.4,350.0h0M108.9,353.7h0M94.4,350.0h0M135.5,364.6h0M134.5,359.6h0M112.3,360.7h0M127.5,349.0h0M104.7,351.9h0M139.6,363.2h0M113.4,352.8h0M141.0,383.4h0M119.0,349.5h0M129.4,366.1h0M116.9,358.4h0M109.2,350.2h0M126.5,342.0h0M147.9,380.0h0M120.0,363.7h0M114.8,357.9h0M137.6,377.7h0M116.2,366.0h0M113.9,332.8h0M134.5,352.8h0M122.8,371.4h0M122.0,369.0h0M124.7,358.3h0M115.2,357.7h0M105.2,351.1h0M111.5,358.3h0M146.1,381.0h0M98.3,353.4h0M134.7,384.4h0M142.2,382.9h0M121.4,349.9h0M106.3,348.9h0M123.8,377.1h0M119.0,370.5h0M120.3,336.4h0M125.8,360.0h0M124.5,354.0h0M105.1,355.4h0M104.2,349.1h0M142.9,382.9h0M140.1,368.5h0M127.6,357.3h0M114.8,350.6h0M132.8,384.5h0M135.7,350.7h0M127.8,377.4h0M135.1,382.9h0M116.2,340.0h0M126.7,377.6h0M108.0,358.1h0M132.0,369.1h0M97.5,348.7h0M135.9,356.1h0M139.0,359.2h0M123.9,349.4h0M141.3,370.9h0M115.8,347.6h0M121.4,342.7h0M116.0,332.5h0M138.3,380.2h0M119.6,372.9h0M136.6,363.0h0M133.7,364.5h0M112.7,362.8h0M110.5,359.8h0M139.4,365.3h0M107.7,352.7h0M138.7,369.9h0M138.3,375.2h0M138.4,387.2h0M107.1,359.9h0M108.1,358.8h0M112.9,355.7h0M112.2,354.2h0M122.2,341.6h0M125.2,374.5h0M118.9,345.2h0M141.4,381.6h0M139.4,361.0h0M128.5,348.7h0M129.6,341.8h0M106.0,351.8h0M122.1,364.3h0M146.7,380.4h0M117.0,359.6h0M145.6,381.2h0M107.8,353.5h0M134.7,353.6h0M140.4,359.5h0M129.8,345.0h0M138.4,356.3h0M129.9,369.8h0M101.2,347.5h0M109.8,362.2h0M131.6,378.9h0M113.9,360.6h0M131.1,357.7h0M142.7,373.0h0M134.2,354.4h0M107.8,356.6h0M108.0,357.2h0M122.1,368.9h0M106.7,347.1h0M133.5,361.8h0M116.8,352.3h0M122.0,370.1h0M118.7,374.4h0M118.6,365.2h0M100.9,353.9h0M101.8,348.1h0M135.7,383.5h0M129.2,348.8h0M128.7,371.9h0M124.5,339.8h0M102.4,353.0h0M124.5,353.8h0M117.8,373.2h0M115.1,349.7h0M142.0,365.1h0M102.4,347.9h0M112.2,359.3h0M121.0,355.2h0M133.8,361.7h0M137.3,363.2h0M126.2,371.2h0M112.6,344.2h0M112.4,344.2h0M143.4,370.5h0M122.5,352.3h0M125.1,377.5h0M135.5,374.0h0M130.8,372.3h0M131.8,351.8h0M139.5,372.1h0M111.8,364.6h0M136.3,373.1h0M103.8,350.1h0M129.6,378.8h0M110.6,350.1h0M119.4,374.9h0M129.2,365.4h0M140.1,372.8h0M143.5,377.4h0M136.4,363.0h0M124.9,376.8h0M115.8,363.5h0M158.4,404.4h0M146.5,395.8h0M149.4,388.5h0M142.2,387.1h0M153.9,397.7h0M155.1,416.5h0M143.6,401.9h0M152.0,420.2h0M157.6,410.6h0M147.0,408.4h0M138.5,387.8h0M152.2,415.5h0M160.8,398.6h0M139.5,396.0h0M151.4,396.9h0M157.5,406.6h0M143.8,416.8h0M161.0,402.2h0M152.0,397.9h0M160.3,414.8h0M152.7,410.6h0M141.5,405.6h0M144.7,402.8h0M146.9,395.8h0M147.7,417.6h0M157.0,401.5h0M153.8,394.4h0M150.7,409.6h0M159.7,417.0h0M157.0,412.4h0M152.4,392.7h0M145.6,394.7h0M145.7,408.0h0M152.3,409.6h0M145.9,394.0h0M151.5,416.8h0M150.8,404.3h0M150.4,418.3h0M153.1,405.5h0M143.1,411.6h0M156.9,397.8h0M148.2,417.7h0M149.0,394.6h0M145.7,415.3h0M142.3,396.4h0M149.2,388.6h0M141.1,419.2h0M143.9,404.9h0M146.1,403.8h0M150.9,390.9h0M143.1,412.6h0M161.3,412.2h0M143.2,398.1h0M162.9,409.0h0M142.2,415.2h0M150.8,396.9h0M142.5,408.2h0M148.8,412.1h0M160.0,402.4h0M148.8,413.3h0M149.7,403.9h0M150.5,395.6h0M149.2,393.9h0M152.5,419.3h0M144.1,400.0h0M140.9,393.2h0M149.0,385.1h0M147.1,419.0h0M151.6,389.7h0M151.3,407.4h0M140.2,392.3h0M142.6,406.4h0M161.0,398.7h0M143.6,396.7h0M157.6,402.7h0M153.1,397.7h0M155.4,415.6h0M153.5,396.6h0M149.1,402.6h0M148.9,388.9h0M147.6,414.6h0M143.9,403.5h0M159.1,407.2h0M159.9,403.5h0M152.6,413.9h0M153.7,389.6h0M156.2,420.2h0M152.2,397.0h0M150.3,419.0h0M152.1,398.1h0M149.8,398.0h0M141.5,389.0h0M142.2,389.7h0M150.8,419.1h0M160.8,399.8h0M150.4,386.0h0M143.4,420.0h0M140.6,402.7h0M151.4,396.0h0M160.1,395.7h0M161.0,407.8h0M148.0,392.0h0M145.5,397.7h0M153.7,411.8h0M144.3,403.6h0M157.0,392.7h0M162.6,413.1h0M147.4,388.7h0M154.0,413.9h0M145.1,408.7h0M150.3,392.3h0M151.0,410.9h0M151.7,402.8h0M141.1,390.2h0M158.0,402.6h0M154.2,420.5h0M156.5,402.8h0M153.3,389.6h0M162.2,404.2h0M145.9,406.2h0M140.1,389.2h0M146.3,384.2h0M151.8,405.6h0M145.5,414.1h0M143.4,405.5h0M156.7,404.7h0M158.7,398.1h0M142.3,401.2h0M154.2,392.6h0M153.9,396.2h0M158.0,420.0h0M150.8,405.1h0M153.5,392.7h0M150.7,407.1h0M147.6,387.2h0M150.3,421.4h0M157.2,403.0h0M161.7,414.7h0M159.6,400.8h0M149.9,408.4h0M144.4,410.4h0M140.0,393.1h0M155.3,403.3h0M141.7,413.7h0M148.9,394.9h0M147.5,417.6h0M145.3,385.4h0M147.4,406.5h0M145.4,412.8h0M156.3,408.8h0M151.3,416.7h0M143.2,412.9h0M146.8,405.3h0M157.8,400.7h0M153.2,394.4h0M155.2,406.3h0M154.1,406.1h0M154.2,421.6h0M156.9,408.5h0M147.9,385.9h0M147.7,404.5h0M141.0,405.2h0M160.5,417.7h0M144.2,416.4h0M156.5,412.6h0M151.7,410.4h0M142.4,395.4h0M147.4,417.2h0M142.3,405.8h0M151.6,407.9h0M159.8,416.8h0M160.3,414.3h0M141.3,422.9h0M146.5,424.7h0M148.9,425.4h0M151.1,425.0h0M148.0,423.4h0M149.4,426.9h0M148.8,428.7h0M140.2,426.1h0M145.6,428.8h0M157.2,421.7h0M140.0,432.4h0M142.0,427.4h0M150.8,429.4h0M149.7,426.5h0M89.5,368.2h0M88.5,359.4h0M87.8,365.1h0M88.7,364.8h0M91.4,352.7h0M88.0,374.2h0M90.7,356.6h0M77.6,388.3h0M85.6,363.8h0M75.7,386.3h0M86.4,368.7h0M86.7,351.0h0M81.1,375.6h0M85.8,374.4h0M81.3,364.9h0M83.7,349.9h0M75.5,388.2h0M81.9,370.7h0M82.1,368.2h0M85.7,366.7h0M89.2,350.7h0M87.7,358.7h0M83.6,356.1h0M76.2,382.1h0M81.9,388.1h0M86.2,381.4h0M86.5,375.6h0M69.4,413.3h0M68.9,441.7h0M105.2,404.4h0M78.8,402.4h0M89.8,404.7h0M93.1,403.4h0M68.5,431.0h0M70.1,407.9h0M63.1,443.3h0M82.8,423.1h0M74.7,390.9h0M72.8,429.1h0M80.8,422.6h0M59.8,430.2h0M85.8,428.8h0M78.3,395.9h0M99.0,400.4h0M73.7,410.6h0M98.5,413.0h0M103.0,398.2h0M83.9,419.7h0M79.1,396.9h0M112.7,410.2h0M61.5,421.9h0M86.4,395.6h0M96.6,408.0h0M81.3,431.1h0M69.1,443.9h0M100.8,408.8h0M67.2,444.7h0M85.6,387.3h0M73.5,423.1h0M70.3,417.3h0M75.4,414.7h0M68.5,434.2h0M91.5,402.2h0M78.4,405.5h0M104.2,409.9h0M82.5,415.3h0M89.4,411.3h0M57.6,431.3h0M70.9,440.1h0M111.3,405.0h0M77.5,396.0h0M58.7,433.1h0M76.8,409.2h0M96.2,395.4h0M77.9,433.7h0M78.9,401.8h0M72.6,398.2h0M71.1,429.1h0M79.9,430.0h0M75.3,396.3h0M90.4,407.4h0M70.7,409.3h0M74.5,415.1h0M78.1,420.1h0M92.7,394.2h0M88.9,394.7h0M73.6,437.9h0M113.5,409.1h0M77.3,405.3h0M62.5,426.3h0M80.6,426.7h0M68.4,427.6h0M66.2,436.5h0M67.8,421.9h0M66.4,440.7h0M65.3,431.9h0M93.1,396.3h0M74.4,431.3h0M59.2,430.4h0M77.3,435.5h0M74.4,429.5h0M95.6,403.0h0M71.2,418.4h0M78.3,403.2h0M78.9,428.3h0M79.1,428.8h0M81.2,406.7h0M77.3,412.9h0M101.7,411.1h0M88.6,423.1h0M86.7,431.3h0M68.1,418.4h0M84.6,397.1h0M65.0,425.1h0M84.2,431.8h0M78.1,415.6h0M78.7,389.0h0M69.1,407.0h0M81.9,428.5h0M67.9,407.6h0M73.4,421.8h0M87.3,395.7h0M58.8,438.9h0M99.0,400.6h0M89.0,422.7h0M74.0,395.0h0M92.9,406.6h0M63.5,426.2h0M75.9,432.3h0M98.8,407.8h0M81.8,394.8h0M85.1,391.6h0M88.7,394.2h0M89.1,409.4h0M68.6,408.6h0M66.7,432.0h0M88.0,394.2h0M99.4,408.4h0M69.3,411.4h0M87.3,429.3h0M83.5,426.5h0M88.8,392.5h0M72.3,418.1h0M76.3,398.9h0M78.4,402.5h0M73.4,438.1h0M69.8,405.6h0M63.2,436.8h0M68.3,438.0h0M79.1,411.4h0M64.3,429.7h0M86.7,405.8h0M88.7,390.8h0M113.7,413.1h0M62.1,429.7h0M113.3,405.9h0M83.1,404.2h0M88.9,387.6h0M72.4,427.3h0M69.8,427.5h0M73.7,421.2h0M69.9,430.7h0M63.3,437.8h0M111.9,407.7h0M99.9,400.4h0M66.2,437.0h0M70.7,425.9h0M73.0,405.6h0M78.8,401.5h0M76.0,405.4h0M66.4,429.8h0M73.2,410.4h0M75.0,422.7h0M94.0,398.1h0M111.2,413.3h0M111.5,408.6h0M77.0,425.5h0M86.1,390.2h0M88.9,408.1h0M84.1,418.8h0M114.4,410.5h0M90.6,393.2h0M84.7,425.8h0M82.3,411.4h0M75.1,440.3h0M62.9,438.7h0M108.6,401.4h0M84.7,431.7h0M87.7,414.3h0M75.6,435.2h0M62.2,439.5h0M103.0,410.6h0M65.9,421.0h0M110.9,411.4h0M59.6,427.8h0M64.2,419.8h0M62.2,442.9h0M82.0,423.0h0M73.3,423.8h0M111.2,413.6h0M82.4,409.3h0M86.0,411.1h0M74.3,406.3h0M82.2,415.0h0M58.8,440.6h0M73.7,437.6h0M71.9,424.7h0M66.3,427.9h0M75.1,412.9h0M96.9,411.7h0M96.3,396.2h0M90.0,420.4h0M59.8,433.5h0M70.1,406.6h0M74.9,392.9h0M61.0,443.5h0M68.9,443.4h0M89.3,407.4h0M89.4,422.8h0M88.0,408.6h0M77.3,396.4h0M91.5,424.0h0M78.5,395.7h0M80.3,403.7h0M82.0,395.7h0M96.0,417.1h0M107.1,405.4h0M65.0,424.7h0M62.3,424.5h0M74.0,421.1h0M81.9,390.1h0M83.7,430.5h0M88.9,407.4h0M99.2,412.6h0M73.2,397.7h0M105.4,413.7h0M91.7,396.6h0M65.9,438.4h0M87.8,421.4h0M58.5,434.3h0M80.3,398.5h0M71.6,424.7h0M84.8,424.1h0M62.1,420.0h0M93.6,398.5h0M92.7,406.4h0M109.9,406.7h0M92.1,410.2h0M94.4,417.9h0M82.3,399.1h0M84.5,405.7h0M60.7,435.7h0M92.0,416.0h0M70.6,419.9h0M111.4,409.5h0M74.2,422.6h0M62.1,439.3h0M64.8,414.3h0M59.6,427.8h0M80.0,415.3h0M87.4,402.4h0M79.5,407.6h0M86.7,415.1h0M87.5,428.2h0M87.0,421.1h0M61.4,424.5h0M72.6,440.7h0M81.0,419.0h0M86.2,389.9h0M78.5,437.6h0M109.4,408.8h0M96.9,395.8h0M93.1,412.4h0M73.4,399.4h0M114.0,407.9h0M78.2,395.6h0M85.2,401.4h0M62.0,431.3h0M72.0,421.3h0M68.4,423.3h0M107.7,405.3h0M73.3,430.8h0M106.1,399.8h0M80.1,413.8h0M101.4,400.3h0M72.4,407.7h0M84.3,391.4h0M72.7,408.8h0M59.3,442.0h0M73.4,418.7h0M111.8,409.4h0M101.7,400.0h0M89.2,391.8h0M72.3,421.5h0M77.2,427.7h0M79.5,428.1h0M78.5,434.1h0M77.7,425.6h0M76.1,437.4h0M66.6,433.4h0M58.5,434.8h0M59.1,440.6h0M72.2,424.9h0M63.2,440.4h0M74.3,426.9h0M80.0,434.0h0M58.6,425.0h0M65.5,423.4h0M68.2,437.4h0M74.0,441.2h0M71.3,438.8h0M67.0,425.2h0M78.4,436.3h0M61.9,426.7h0M73.7,429.8h0M74.7,425.0h0M77.6,432.9h0M65.1,430.2h0M75.8,434.5h0M80.8,435.6h0M63.9,427.2h0M59.9,435.4h0M60.2,436.3h0M64.8,432.1h0M69.7,421.6h0M72.4,426.3h0M59.1,430.7h0M74.6,427.6h0M73.6,428.8h0M62.8,425.2h0M67.5,428.5h0M59.9,426.5h0M81.1,436.5h0M76.8,426.0h0M60.4,426.7h0M60.2,424.4h0M78.7,426.6h0M79.9,429.2h0M72.0,427.4h0M71.1,436.5h0M72.9,436.9h0M58.4,434.7h0M64.4,445.0h0M68.9,436.7h0M73.6,441.6h0M77.4,437.4h0M159.2,362.7h0M156.3,375.0h0M155.7,366.8h0M159.5,362.0h0M157.5,359.3h0M161.2,364.1h0M153.2,360.1h0M159.3,371.3h0M159.5,369.8h0M153.2,372.2h0M161.1,356.7h0M156.3,359.8h0M155.3,361.6h0M161.3,367.9h0M160.0,359.4h0M155.2,355.6h0M153.9,356.6h0M160.6,363.1h0M157.6,373.8h0M153.7,366.0h0M156.4,357.4h0M160.5,353.0h0M155.8,363.7h0M159.9,360.9h0M162.6,363.7h0M158.0,376.8h0M162.1,350.4h0M153.1,366.1h0M154.4,363.8h0M153.3,353.0h0M162.8,360.8h0M159.6,364.1h0M155.0,357.6h0M160.4,360.0h0M149.1,280.5h0M164.7,287.6h0M168.4,287.4h0M155.6,289.9h0M150.0,277.1h0M162.0,287.2h0M156.1,281.2h0M170.2,279.0h0M155.6,283.5h0M158.1,285.3h0M162.9,286.9h0M151.2,277.6h0M154.2,274.0h0M160.9,311.3h0M161.8,312.4h0M167.8,296.3h0M170.5,297.8h0M167.8,297.1h0M157.5,301.7h0M162.6,298.2h0M170.9,293.3h0M164.4,294.4h0M163.4,309.3h0M157.5,293.7h0M166.3,304.1h0M171.2,294.8h0M160.3,310.5h0M161.8,307.0h0M169.1,302.1h0M164.0,312.2h0M170.2,291.4h0M166.4,301.5h0M165.8,311.2h0M156.7,305.0h0M163.4,291.4h0M161.2,297.6h0M163.8,312.5h0M170.0,300.1h0M164.0,291.6h0M164.1,296.7h0M159.2,293.7h0M148.8,325.7h0M145.2,326.7h0M140.3,337.0h0M160.8,314.9h0M138.5,339.8h0M162.1,312.4h0M154.8,315.2h0M158.7,311.8h0M158.1,319.9h0M164.6,312.3h0M158.9,308.5h0M155.2,320.0h0M161.3,309.3h0M147.2,330.7h0M159.9,316.3h0M135.9,336.2h0M151.9,318.0h0M131.7,338.8h0M143.9,327.1h0M154.9,322.7h0M139.3,336.0h0M137.6,335.0h0M164.2,310.5h0M148.9,320.5h0M134.1,335.4h0M137.2,340.9h0M156.9,309.4h0M161.7,311.6h0M149.4,321.4h0M144.1,333.3h0M155.7,328.9h0M144.7,334.9h0M148.4,333.4h0M147.6,325.9h0M156.0,338.7h0M153.5,334.9h0M156.9,328.3h0M160.0,336.1h0M160.7,318.1h0M160.2,319.4h0M158.2,338.7h0M158.6,329.3h0M155.5,344.3h0M156.8,323.8h0M156.4,326.1h0M159.6,311.9h0M159.8,318.3h0M156.2,340.7h0M155.2,351.4h0M157.5,343.4h0M155.0,339.7h0M158.6,315.5h0M178.4,305.3h0M171.1,306.1h0M187.3,308.9h0M175.6,306.7h0M175.9,317.4h0M180.2,320.4h0M169.7,308.5h0M168.8,307.8h0M186.1,316.8h0M184.8,307.6h0M177.9,302.8h0M184.0,307.4h0M180.9,322.7h0M185.4,307.8h0M184.8,305.2h0M187.0,309.0h0M179.5,320.8h0M180.8,321.1h0M185.3,319.7h0M185.0,318.3h0M186.3,321.0h0M205.9,361.4h0M211.7,363.2h0M199.0,354.8h0M175.7,338.9h0M179.7,342.4h0M172.9,311.6h0M173.2,312.7h0M185.9,349.7h0M183.5,351.9h0M205.4,359.5h0M173.9,314.9h0M194.2,354.8h0M174.9,321.0h0M199.3,356.3h0M178.0,342.8h0M204.1,356.8h0M177.1,331.4h0M181.9,351.1h0M184.3,351.0h0M175.3,323.1h0M183.4,352.1h0M209.3,358.5h0M170.4,310.8h0M196.2,352.8h0M190.9,351.9h0M175.6,326.2h0M176.5,332.0h0M173.8,313.1h0M186.7,354.4h0M185.0,345.6h0M191.4,352.4h0M212.5,361.7h0M198.0,357.5h0M176.8,337.8h0M208.1,363.7h0M178.1,330.0h0M203.7,357.1h0M178.6,332.9h0M180.8,341.4h0M175.1,335.9h0M192.2,350.6h0M168.8,314.2h0M180.9,347.2h0M211.5,363.9h0M168.4,309.4h0M173.4,327.2h0M189.6,356.0h0M172.3,327.1h0M168.6,311.3h0M184.7,345.5h0M173.0,327.8h0M193.7,354.6h0M171.1,313.0h0M212.9,361.9h0M168.9,316.2h0M210.2,364.6h0M182.4,344.5h0M173.6,313.2h0M207.1,359.6h0M171.1,322.4h0M202.2,357.6h0M211.3,361.7h0M206.1,365.7h0M210.1,359.0h0M215.9,361.1h0M210.7,364.1h0M205.2,359.7h0M211.4,365.9h0M207.3,367.4h0M200.3,362.4h0M206.5,360.6h0M206.0,357.6h0M206.1,361.2h0M205.2,359.8h0M206.4,360.7h0M201.2,366.2h0M212.4,367.1h0M214.9,365.4h0M200.2,361.1h0M201.2,362.8h0M213.3,359.6h0M203.2,365.6h0M212.2,357.4h0M202.9,357.4h0M214.8,360.9h0M206.6,357.9h0M210.4,363.7h0M201.7,362.3h0M204.0,359.5h0M200.9,360.4h0M203.1,359.9h0M213.7,361.4h0M201.5,361.3h0M209.0,358.7h0M114.7,387.9h0M125.8,417.8h0M99.3,362.2h0M124.9,423.8h0M137.7,412.6h0M106.8,364.9h0M99.4,364.7h0M134.4,406.9h0M131.6,432.9h0M124.1,398.8h0M109.0,395.7h0M128.6,411.1h0M128.1,436.2h0M126.1,405.4h0M95.3,356.2h0M117.8,424.3h0M125.3,444.6h0M162.3,443.0h0M176.9,445.7h0" stroke="#8E382A" stroke-width="2.0" stroke-linecap="round" fill="none"/>
<path d="M92.1 619.2h0M164.5 628.4h0M61.0 568.5h0M196.2 656.7h0M80.7 592.2h0M192.0 642.9h0M127.2 551.6h0M155.9 632.3h0M160.6 614.3h0M100.4 663.5h0M137.4 599.0h0M118.0 629.7h0M144.6 584.5h0M180.1 670.7h0M135.0 655.0h0M180.7 684.4h0M175.6 640.0h0M155.8 605.5h0M126.3 566.1h0M60.2 627.5h0M140.2 604.5h0M185.3 691.4h0M146.7 691.6h0M193.8 672.4h0M91.9 648.7h0M83.4 572.3h0M204.6 652.6h0M163.2 697.5h0M190.4 632.4h0M118.3 658.3h0M158.1 648.9h0M109.6 596.7h0M189.1 627.5h0M139.1 672.3h0M98.6 578.1h0M143.2 612.4h0M124.2 587.9h0M189.4 668.7h0M198.3 653.0h0M193.8 646.3h0M175.4 691.2h0M141.0 574.9h0M153.8 680.3h0M153.9 630.1h0M113.7 593.8h0M163.7 584.3h0M170.1 688.3h0M97.0 574.1h0M124.0 641.7h0M191.6 676.0h0M180.9 655.9h0M143.0 566.8h0M85.6 624.3h0M115.3 615.8h0M154.9 602.6h0M80.1 577.1h0M101.1 628.4h0M118.9 673.7h0M130.4 676.1h0M183.7 601.6h0M134.8 657.9h0M122.8 641.7h0M122.4 641.1h0M138.5 594.9h0M101.8 631.2h0M140.7 689.7h0M149.3 685.7h0M119.7 674.9h0M79.6 653.0h0M76.2 557.0h0M158.5 690.3h0M158.9 577.1h0M129.4 687.8h0M142.8 700.7h0M150.7 587.7h0M66.6 583.4h0M134.0 552.1h0M133.9 664.8h0M177.0 637.7h0M105.2 590.7h0M193.9 636.0h0M149.6 566.9h0M124.0 670.7h0M59.5 605.3h0M121.1 558.1h0M72.9 583.4h0M106.0 656.4h0M100.5 644.4h0M196.1 651.2h0M105.2 606.1h0M140.7 665.9h0M63.4 580.0h0M146.2 618.7h0M185.7 636.1h0M174.7 701.8h0M114.9 573.1h0M83.6 653.1h0M135.8 561.8h0M74.3 609.7h0M174.3 632.9h0M117.9 648.7h0M152.4 636.9h0M171.9 654.0h0M121.3 672.8h0M171.4 622.6h0M160.4 675.2h0M87.5 553.8h0M90.1 662.2h0M124.5 587.5h0M146.5 558.4h0M108.6 667.7h0M108.5 578.9h0M183.9 633.4h0M169.1 678.5h0M128.5 591.5h0M75.4 628.1h0M141.5 625.5h0M79.0 578.7h0M198.7 631.8h0M186.0 603.0h0M107.5 636.8h0M161.2 632.2h0M173.1 654.2h0M93.2 556.7h0M120.8 565.9h0M75.1 606.0h0M184.8 689.9h0M158.5 631.4h0M151.0 573.5h0M78.0 579.2h0M82.6 617.7h0M162.0 688.2h0M147.8 667.9h0M70.3 579.7h0M169.8 627.9h0M113.0 652.8h0M147.2 623.6h0M63.5 576.3h0M136.6 686.8h0M206.1 646.9h0M94.9 619.7h0M106.3 591.3h0M158.4 643.3h0M93.6 636.2h0M79.0 591.9h0M58.9 621.8h0M159.6 595.2h0M156.0 658.2h0M93.2 652.4h0M143.4 655.7h0M155.8 688.6h0M58.3 587.7h0M148.0 597.1h0M98.9 612.0h0M186.5 659.3h0M139.2 575.7h0M104.6 620.2h0M150.7 585.5h0M177.4 657.4h0M117.7 606.8h0M145.3 640.8h0M128.1 649.5h0M61.9 577.2h0M67.4 603.8h0M113.7 670.7h0M134.0 635.0h0M85.1 591.6h0M121.0 695.2h0M95.8 583.9h0M123.8 659.5h0M123.3 618.4h0M187.8 671.0h0M72.2 606.6h0M110.9 609.5h0M103.7 617.7h0M89.4 623.7h0M177.8 611.8h0M186.4 666.8h0M155.2 578.7h0M176.6 596.2h0M134.3 647.9h0M67.2 577.8h0M112.4 571.3h0M148.6 623.8h0M168.8 653.4h0M156.3 655.0h0M73.2 623.2h0M136.1 588.2h0M86.9 622.9h0M100.9 659.5h0M93.6 627.4h0M138.1 606.0h0M143.7 607.8h0M138.3 564.5h0M152.6 606.1h0M116.5 658.7h0M156.0 653.9h0M79.4 647.7h0M202.5 669.3h0M79.1 627.4h0M85.8 609.9h0M160.5 583.9h0M163.1 584.7h0M150.5 668.2h0M115.0 669.5h0M119.6 613.0h0M110.3 592.9h0M166.1 638.3h0M125.1 565.2h0M118.5 649.5h0M84.0 580.4h0M103.5 583.1h0M112.9 633.9h0M206.2 660.1h0M196.0 685.2h0M152.8 611.8h0M178.2 663.0h0M206.3 648.6h0M143.4 640.9h0M129.1 611.3h0M136.0 611.3h0M62.0 596.7h0M168.7 652.4h0M144.9 700.1h0M111.2 604.8h0M133.3 629.2h0M173.6 693.9h0M109.2 679.0h0M68.7 563.1h0M102.0 597.5h0M187.0 615.4h0M140.3 643.6h0M131.6 565.9h0M143.2 620.5h0M164.2 614.7h0M102.9 663.6h0M71.7 609.9h0M83.5 571.6h0M151.5 672.0h0M107.5 578.0h0M111.6 551.8h0M80.6 571.4h0M183.4 600.5h0M147.2 696.7h0M145.8 650.6h0M157.8 660.6h0M182.6 606.8h0M136.6 642.4h0M64.7 584.9h0M150.0 645.7h0M98.6 647.2h0M159.4 609.4h0M91.2 621.4h0M78.7 571.1h0M78.6 572.1h0M195.8 661.5h0M97.9 636.3h0M128.1 691.0h0M90.5 644.5h0M158.8 576.3h0M124.2 626.0h0M171.7 670.3h0M126.4 652.3h0M175.1 687.8h0M106.6 603.0h0M75.5 578.8h0M142.6 648.1h0M133.2 650.8h0M153.7 656.2h0M197.8 667.2h0M180.6 667.1h0M131.8 679.4h0M137.2 699.7h0M147.8 648.7h0M160.1 684.0h0M177.8 619.5h0M74.9 649.9h0M167.4 650.5h0M74.4 610.0h0M136.0 622.9h0M169.7 676.0h0M171.9 683.9h0M111.1 683.2h0M121.9 628.0h0M71.6 606.7h0M156.5 650.3h0M118.9 675.9h0M174.7 671.7h0M151.7 562.5h0M72.0 611.8h0M142.5 664.5h0M154.0 622.8h0M186.6 630.8h0M169.5 699.1h0M134.2 652.4h0M100.5 612.6h0M113.7 676.8h0M199.9 628.9h0M62.1 602.6h0M164.5 616.7h0M127.1 593.3h0M120.8 683.3h0M125.2 670.8h0M102.3 588.4h0M90.8 639.8h0M127.0 601.8h0M79.0 636.4h0M75.3 562.5h0M134.1 601.8h0M182.2 672.3h0M151.8 668.9h0M97.7 602.1h0M144.8 596.1h0M156.2 637.6h0M127.6 681.0h0M166.1 622.2h0M60.6 613.4h0M86.6 633.2h0M173.7 646.1h0M140.3 679.8h0M175.7 694.9h0M81.4 639.0h0M69.8 562.3h0M92.1 655.9h0M126.0 589.1h0M138.8 687.0h0M199.7 629.7h0M162.7 685.0h0M124.1 553.9h0M104.4 638.0h0M187.1 615.2h0M174.0 646.1h0M174.6 661.2h0M135.4 623.7h0M65.0 574.9h0M149.1 599.6h0M78.0 621.8h0M125.5 560.8h0M99.0 572.1h0M171.9 624.8h0M92.2 559.0h0M91.1 565.1h0M89.3 608.2h0M169.7 685.0h0M122.2 585.4h0M172.5 620.7h0M173.8 586.9h0M127.4 596.8h0M176.1 624.9h0M121.2 683.2h0M95.7 552.8h0M57.2 617.7h0M181.9 597.5h0M161.1 683.2h0M67.5 573.7h0M140.9 659.0h0M98.3 617.8h0M109.3 599.0h0M108.4 609.0h0M159.7 642.8h0M171.1 596.0h0M136.0 581.4h0M103.4 576.6h0M101.3 659.8h0M90.3 596.5h0M155.6 685.2h0M148.1 691.0h0M105.2 565.1h0M88.8 601.7h0M200.6 635.8h0M111.4 667.1h0M110.9 656.0h0M154.2 667.0h0M102.3 559.4h0M160.2 582.5h0M138.8 674.6h0M180.3 627.8h0M176.6 597.3h0M111.7 558.5h0M158.3 609.1h0M84.8 621.0h0M120.7 569.3h0M115.3 642.1h0M66.6 606.2h0M186.1 606.9h0M194.7 682.8h0M141.4 681.5h0M85.6 558.2h0M169.2 600.3h0M161.2 685.4h0M79.8 631.9h0M186.1 672.4h0M108.7 656.9h0M148.8 591.2h0M89.6 582.9h0M182.3 604.7h0M130.0 588.2h0M131.2 583.8h0M109.5 557.8h0M115.9 562.0h0M78.9 560.2h0M120.6 668.8h0M149.3 645.4h0M134.7 699.1h0M170.5 688.4h0M127.5 608.4h0M158.4 614.9h0M76.1 603.1h0M141.6 626.6h0M167.5 612.6h0M177.8 602.9h0M69.4 590.7h0M105.0 558.8h0M84.6 597.1h0M58.9 604.7h0M116.7 650.5h0M181.4 614.2h0M113.1 611.8h0M140.7 684.8h0M136.1 688.8h0M119.2 615.5h0M165.7 610.6h0M134.2 572.4h0M167.9 703.2h0M161.0 578.3h0M151.2 566.0h0M184.8 623.3h0M146.1 619.0h0M87.1 647.8h0M120.9 666.5h0M73.3 646.2h0M68.4 566.7h0M89.3 627.5h0M134.5 652.5h0M140.1 638.2h0M160.3 585.6h0M163.6 647.1h0M169.4 671.4h0M184.0 648.9h0M91.3 631.0h0M182.3 660.3h0M136.1 634.0h0M190.8 642.1h0M172.5 617.0h0M181.3 601.1h0M67.5 632.2h0M92.2 619.8h0M142.1 662.1h0M92.8 643.9h0M80.4 587.6h0M83.8 613.9h0M165.6 630.5h0M84.2 654.0h0M153.2 633.8h0M175.0 592.4h0M143.3 694.4h0M141.9 601.6h0M121.4 575.0h0M147.9 573.3h0M145.5 639.4h0M154.0 671.7h0M197.1 660.7h0M136.4 647.5h0M196.6 647.4h0M101.3 607.1h0M164.5 656.5h0M88.0 627.4h0M186.1 674.4h0M83.4 628.0h0M151.6 684.4h0M192.3 664.7h0M89.2 577.8h0M63.4 604.1h0M195.3 634.9h0M188.0 625.0h0M159.8 621.8h0M67.1 563.4h0M79.7 609.7h0M64.4 616.6h0M81.0 555.9h0M86.5 574.9h0M115.1 589.8h0M82.1 646.7h0M70.0 621.9h0M70.5 579.6h0M84.1 605.3h0M95.3 581.0h0M102.4 566.0h0M76.9 568.4h0M78.0 609.3h0M99.2 610.4h0M81.8 621.8h0M112.7 588.8h0M67.1 620.4h0M76.1 598.2h0M113.3 599.6h0M56.5 598.0h0M77.3 621.3h0M93.7 568.6h0M103.4 584.1h0M93.4 626.0h0M98.4 615.1h0M114.8 568.1h0M95.5 579.3h0M73.2 586.4h0M65.1 631.0h0M95.5 597.8h0M94.2 610.9h0M75.6 562.2h0M61.3 623.8h0M106.6 576.0h0M94.1 577.4h0M79.4 586.6h0M73.3 645.2h0M108.8 567.2h0M109.5 560.5h0M77.9 622.1h0M69.1 609.7h0M97.3 569.9h0M112.7 584.4h0M107.7 565.9h0M98.1 611.2h0M98.9 637.5h0M65.4 589.7h0M83.4 570.9h0M83.2 566.2h0M72.0 644.9h0M70.0 569.1h0M105.2 606.3h0M70.1 624.0h0M98.9 555.9h0M111.6 606.6h0M100.6 626.1h0M97.3 585.9h0M78.3 632.2h0M89.9 569.1h0M90.8 573.7h0M92.6 592.9h0M93.2 560.2h0M92.1 619.5h0M59.3 614.3h0M112.3 574.5h0M91.7 581.4h0M66.6 586.3h0M105.8 588.8h0M94.8 614.8h0M100.3 590.8h0M97.7 580.5h0M84.4 625.8h0M91.0 556.5h0M111.8 606.9h0M80.3 598.1h0M74.8 564.6h0M96.4 565.0h0M77.7 590.4h0M67.1 616.0h0M79.3 622.0h0M68.2 562.6h0M87.8 642.5h0M101.6 595.7h0M93.3 583.8h0M91.9 567.3h0M84.8 619.7h0M68.3 623.8h0M89.1 601.3h0M68.2 580.7h0M111.0 610.9h0M87.4 590.8h0M100.7 603.5h0M81.5 648.7h0M69.4 585.6h0M88.8 651.1h0M88.7 605.7h0M58.8 618.7h0M101.2 634.5h0M108.1 590.5h0M95.5 574.4h0M74.6 620.6h0M66.0 595.2h0M114.1 590.7h0M89.5 646.3h0M60.2 578.7h0M77.5 597.8h0M91.8 614.1h0M97.2 575.6h0M98.7 581.4h0M100.9 568.1h0M107.5 595.7h0M66.3 567.5h0M84.8 585.8h0M114.3 594.0h0M82.9 596.2h0M77.3 577.5h0M101.1 579.1h0M96.6 563.6h0M111.8 589.5h0M102.2 606.4h0M85.3 606.1h0M101.4 561.0h0M58.5 606.8h0M92.5 634.7h0M110.7 581.8h0M99.9 606.9h0M102.1 587.5h0M105.6 602.1h0M103.8 580.5h0M85.3 575.3h0M82.4 557.6h0M91.8 564.1h0M93.5 625.4h0M64.3 600.3h0M85.7 596.7h0M73.3 636.9h0M67.2 597.6h0M103.2 581.4h0M88.3 558.8h0M85.3 652.9h0M130.6 544.4h0M201.9 650.8h0M174.0 686.0h0M145.8 698.1h0M171.6 644.5h0M146.4 680.2h0M165.7 650.0h0M185.2 682.0h0M175.4 663.6h0M198.1 651.5h0M192.6 657.1h0M173.6 638.1h0M146.1 677.2h0M151.5 668.5h0M160.2 676.6h0M191.1 637.3h0M151.8 682.5h0M175.1 649.4h0M168.1 642.8h0M192.4 689.4h0M183.6 660.8h0M163.2 671.1h0M203.3 664.1h0M185.6 664.8h0M161.3 674.6h0M198.5 656.0h0M184.7 682.4h0M167.1 679.9h0M189.1 646.1h0M174.8 654.0h0M181.2 685.8h0M157.3 650.1h0M184.3 688.9h0M189.6 643.2h0M158.5 700.1h0M153.7 673.9h0M145.5 672.9h0M173.7 671.5h0M158.8 663.3h0M149.8 678.3h0M159.5 674.5h0M176.7 654.6h0M157.5 658.9h0M200.6 660.5h0M169.6 678.1h0M161.1 662.3h0M178.8 666.9h0M158.9 680.5h0M178.0 672.9h0M189.1 635.9h0M201.2 655.3h0M155.7 677.3h0M176.0 665.5h0M197.8 680.2h0" stroke="#C2C2C2" stroke-width="1.55" stroke-linecap="square" fill="none"/>
<path d="M70.4,562.9h0M72.8,567.0h0M73.9,566.4h0M72.8,569.9h0M70.1,572.8h0M82.7,565.3h0M85.0,566.4h0M90.3,566.4h0M94.1,564.4h0M113.1,574.2h0M61.7,580.4h0M63.4,588.0h0M76.9,589.4h0M87.4,587.2h0M90.9,591.3h0M100.0,584.5h0M101.4,588.3h0M99.6,593.3h0M60.5,593.3h0M63.4,593.9h0M68.1,593.5h0M59.0,600.3h0M72.8,599.1h0M84.1,597.4h0M104.9,601.5h0M71.0,604.7h0M113.1,607.3h0M65.2,610.2h0M96.1,610.0h0M105.5,609.3h0M85.6,612.3h0M64.0,615.5h0M66.9,614.9h0M69.3,614.3h0M71.0,613.7h0M67.5,617.8h0M58.4,619.6h0M77.8,619.0h0M74.5,621.1h0M87.6,620.1h0M63.8,621.9h0M66.6,624.2h0M85.0,623.9h0M127.1,616.3h0M128.8,584.5h0M99.6,628.3h0M120.7,628.9h0M131.8,572.1h0M132.9,574.1h0M146.4,576.6h0M129.1,584.4h0M143.7,585.0h0M159.1,597.8h0M146.7,600.1h0M148.4,603.6h0M154.8,608.1h0M159.2,608.3h0M148.4,614.6h0M163.9,619.6h0M164.9,624.5h0M174.6,625.7h0M179.3,635.0h0M162.7,638.3h0M192.7,640.9h0M161.0,650.6h0M127.1,658.4h0M175.6,659.0h0M137.8,668.9h0M174.9,667.5h0M194.5,667.5h0M200.7,668.9h0M68.5,631.4h0M73.9,633.8h0M85.0,630.3h0M73.1,639.2h0M82.9,637.8h0M79.4,642.5h0M86.6,644.3h0M74.3,644.9h0M81.8,646.6h0M79.0,649.8h0M95.9,641.4h0M105.5,638.4h0M107.2,643.7h0M114.2,647.2h0M102.6,654.2h0M106.1,652.4h0M96.1,657.7h0M98.5,660.0h0M111.9,661.2h0M114.2,662.1h0M104.3,665.9h0M124.2,660.0h0M128.0,678.1h0M128.2,693.9h0M136.3,679.0h0M133.7,686.8h0M127.5,694.5h0M130.1,694.5h0M157.9,676.3h0M163.7,674.9h0M156.7,685.6h0M178.9,671.9h0M180.7,672.8h0M187.7,673.1h0M173.6,678.6h0M169.0,684.0h0M173.6,693.3h0M197.0,673.2h0M189.3,677.1h0M73.9,557.6h0M76.9,558.6h0M74.3,566.4h0M98.8,557.9h0M109.6,555.0h0" stroke="#8E382A" stroke-width="3.7" stroke-linecap="round" fill="none"/>
<text x="-1.00" y="8.60" font-size="15.5" text-anchor="start" fill="#1a1a1a">a</text>
<text x="-1.00" y="232.80" font-size="15.5" text-anchor="start" fill="#1a1a1a">b</text>
<text x="-0.50" y="505.80" font-size="15.5" text-anchor="start" fill="#1a1a1a">c</text>
<text x="3.20" y="753.70" font-size="15.5" text-anchor="start" fill="#1a1a1a">d</text>
<text x="306.30" y="505.80" font-size="15.5" text-anchor="start" fill="#1a1a1a">e</text>
<line x1="59.70" y1="26.20" x2="59.70" y2="196.70" stroke="#333" stroke-width="1.0"/>
<line x1="59.20" y1="196.20" x2="219.00" y2="196.20" stroke="#333" stroke-width="1.0"/>
<line x1="57.10" y1="45.80" x2="59.70" y2="45.80" stroke="#333" stroke-width="1.0"/>
<text x="54.60" y="49.10" font-size="10" text-anchor="end" fill="#333">10</text>
<line x1="57.10" y1="101.70" x2="59.70" y2="101.70" stroke="#333" stroke-width="1.0"/>
<text x="54.60" y="105.00" font-size="10" text-anchor="end" fill="#333">0</text>
<line x1="57.10" y1="157.60" x2="59.70" y2="157.60" stroke="#333" stroke-width="1.0"/>
<text x="54.60" y="160.90" font-size="10" text-anchor="end" fill="#333">−10</text>
<line x1="64.60" y1="196.20" x2="64.60" y2="198.80" stroke="#333" stroke-width="1.0"/>
<text x="64.60" y="208.80" font-size="10" text-anchor="middle" fill="#333">−15</text>
<line x1="92.60" y1="196.20" x2="92.60" y2="198.80" stroke="#333" stroke-width="1.0"/>
<text x="92.60" y="208.80" font-size="10" text-anchor="middle" fill="#333">−10</text>
<line x1="120.60" y1="196.20" x2="120.60" y2="198.80" stroke="#333" stroke-width="1.0"/>
<text x="120.60" y="208.80" font-size="10" text-anchor="middle" fill="#333">−5</text>
<line x1="148.60" y1="196.20" x2="148.60" y2="198.80" stroke="#333" stroke-width="1.0"/>
<text x="148.60" y="208.80" font-size="10" text-anchor="middle" fill="#333">0</text>
<line x1="176.60" y1="196.20" x2="176.60" y2="198.80" stroke="#333" stroke-width="1.0"/>
<text x="176.60" y="208.80" font-size="10" text-anchor="middle" fill="#333">5</text>
<line x1="204.60" y1="196.20" x2="204.60" y2="198.80" stroke="#333" stroke-width="1.0"/>
<text x="204.60" y="208.80" font-size="10" text-anchor="middle" fill="#333">10</text>
<text x="34.40" y="111.40" font-size="10" text-anchor="middle" fill="#1a1a1a" transform="rotate(-90 34.40 111.40)">UMAP_2</text>
<text x="139.00" y="219.80" font-size="10" text-anchor="middle" fill="#1a1a1a">UMAP_1</text>
<text x="136.50" y="20.60" font-size="10" text-anchor="middle" fill="#1a1a1a">LRMDS</text>
<circle cx="237.20" cy="54.60" r="3.2" fill="#C0C0C0"/>
<text x="233.80" y="59.90" font-size="10" text-anchor="start" fill="#1a1a1a" transform="rotate(90 233.80 59.90)">Non-assignable</text>
<circle cx="237.20" cy="135.00" r="3.2" fill="#8E382A"/>
<text x="233.80" y="139.30" font-size="10" text-anchor="start" fill="#1a1a1a" transform="rotate(90 233.80 139.30)">Mutant</text>
<line x1="49.70" y1="263.70" x2="49.70" y2="462.50" stroke="#333" stroke-width="1.0"/>
<line x1="49.20" y1="462.00" x2="223.40" y2="462.00" stroke="#333" stroke-width="1.0"/>
<line x1="46.10" y1="274.30" x2="49.70" y2="274.30" stroke="#333" stroke-width="1.0"/>
<text x="44.30" y="277.20" font-size="10" text-anchor="end" fill="#333">10</text>
<line x1="46.10" y1="322.50" x2="49.70" y2="322.50" stroke="#333" stroke-width="1.0"/>
<text x="44.30" y="325.40" font-size="10" text-anchor="end" fill="#333">5</text>
<line x1="46.10" y1="370.50" x2="49.70" y2="370.50" stroke="#333" stroke-width="1.0"/>
<text x="44.30" y="373.40" font-size="10" text-anchor="end" fill="#333">0</text>
<line x1="46.10" y1="419.00" x2="49.70" y2="419.00" stroke="#333" stroke-width="1.0"/>
<text x="44.30" y="421.90" font-size="10" text-anchor="end" fill="#333">−5</text>
<line x1="81.60" y1="462.00" x2="81.60" y2="465.60" stroke="#333" stroke-width="1.0"/>
<text x="81.60" y="475.70" font-size="10" text-anchor="middle" fill="#333">−5</text>
<line x1="124.20" y1="462.00" x2="124.20" y2="465.60" stroke="#333" stroke-width="1.0"/>
<text x="124.20" y="475.70" font-size="10" text-anchor="middle" fill="#333">0</text>
<line x1="166.50" y1="462.00" x2="166.50" y2="465.60" stroke="#333" stroke-width="1.0"/>
<text x="166.50" y="475.70" font-size="10" text-anchor="middle" fill="#333">5</text>
<line x1="209.20" y1="462.00" x2="209.20" y2="465.60" stroke="#333" stroke-width="1.0"/>
<text x="209.20" y="475.70" font-size="10" text-anchor="middle" fill="#333">10</text>
<text x="27.40" y="363.00" font-size="10" text-anchor="middle" fill="#1a1a1a" transform="rotate(-90 27.40 363.00)">UMAP_2</text>
<text x="136.50" y="485.00" font-size="10" text-anchor="middle" fill="#1a1a1a">UMAP_1</text>
<text x="136.00" y="251.00" font-size="10" text-anchor="middle" fill="#1a1a1a">LRMDS</text>
<circle cx="236.40" cy="306.60" r="3.2" fill="#C0C0C0"/>
<text x="233.00" y="312.00" font-size="10" text-anchor="start" fill="#1a1a1a" transform="rotate(90 233.00 312.00)">Non-assignable</text>
<circle cx="236.40" cy="387.00" r="3.2" fill="#8E382A"/>
<text x="233.00" y="391.50" font-size="10" text-anchor="start" fill="#1a1a1a" transform="rotate(90 233.00 391.50)">Mutant</text>
<line x1="50.50" y1="517.50" x2="50.50" y2="708.70" stroke="#333" stroke-width="1.0"/>
<line x1="50.00" y1="708.20" x2="214.60" y2="708.20" stroke="#333" stroke-width="1.0"/>
<line x1="46.20" y1="524.30" x2="50.50" y2="524.30" stroke="#333" stroke-width="1.0"/>
<text x="43.30" y="527.60" font-size="10" text-anchor="end" fill="#333">4</text>
<line x1="46.20" y1="569.30" x2="50.50" y2="569.30" stroke="#333" stroke-width="1.0"/>
<text x="43.30" y="572.60" font-size="10" text-anchor="end" fill="#333">2</text>
<line x1="46.20" y1="614.40" x2="50.50" y2="614.40" stroke="#333" stroke-width="1.0"/>
<text x="43.30" y="617.70" font-size="10" text-anchor="end" fill="#333">0</text>
<line x1="46.20" y1="659.60" x2="50.50" y2="659.60" stroke="#333" stroke-width="1.0"/>
<text x="43.30" y="662.90" font-size="10" text-anchor="end" fill="#333">−2</text>
<line x1="46.20" y1="704.80" x2="50.50" y2="704.80" stroke="#333" stroke-width="1.0"/>
<text x="43.30" y="708.10" font-size="10" text-anchor="end" fill="#333">−4</text>
<line x1="60.00" y1="708.20" x2="60.00" y2="712.50" stroke="#333" stroke-width="1.0"/>
<text x="60.00" y="724.40" font-size="10" text-anchor="middle" fill="#333">−5.0</text>
<line x1="98.30" y1="708.20" x2="98.30" y2="712.50" stroke="#333" stroke-width="1.0"/>
<text x="98.30" y="724.40" font-size="10" text-anchor="middle" fill="#333">−2.5</text>
<line x1="136.60" y1="708.20" x2="136.60" y2="712.50" stroke="#333" stroke-width="1.0"/>
<text x="136.60" y="724.40" font-size="10" text-anchor="middle" fill="#333">0.0</text>
<line x1="174.60" y1="708.20" x2="174.60" y2="712.50" stroke="#333" stroke-width="1.0"/>
<text x="174.60" y="724.40" font-size="10" text-anchor="middle" fill="#333">2.5</text>
<line x1="212.40" y1="708.20" x2="212.40" y2="712.50" stroke="#333" stroke-width="1.0"/>
<text x="212.40" y="724.40" font-size="10" text-anchor="middle" fill="#333">5.0</text>
<text x="27.40" y="613.00" font-size="10" text-anchor="middle" fill="#1a1a1a" transform="rotate(-90 27.40 613.00)">UMAP_2</text>
<text x="132.30" y="740.60" font-size="10" text-anchor="middle" fill="#1a1a1a">UMAP_1</text>
<text x="132.00" y="513.90" font-size="10" text-anchor="middle" fill="#1a1a1a">LRMDS</text>
<circle cx="234.30" cy="554.80" r="3.2" fill="#C0C0C0"/>
<text x="230.90" y="560.90" font-size="10" text-anchor="start" fill="#1a1a1a" transform="rotate(90 230.90 560.90)">Non-assignable</text>
<circle cx="234.30" cy="638.00" r="3.2" fill="#8E382A"/>
<text x="230.90" y="643.00" font-size="10" text-anchor="start" fill="#1a1a1a" transform="rotate(90 230.90 643.00)">Mutant</text>
<text x="64.50" y="312.00" font-size="10" text-anchor="start" fill="#1a1a1a">HSC/MPPs</text>
<text x="193.80" y="315.40" font-size="10" text-anchor="start" fill="#1a1a1a">CLPs</text>
<text x="118.40" y="348.30" font-size="10" text-anchor="start" fill="#1a1a1a">LMPPs</text>
<text x="169.90" y="417.00" font-size="10" text-anchor="start" fill="#1a1a1a">GMPs</text>
<text x="78.70" y="446.90" font-size="10" text-anchor="start" fill="#1a1a1a">MEPs</text>
<text x="129.80" y="550.00" font-size="10" text-anchor="start" fill="#1a1a1a">HSC-1</text>
<text x="56.50" y="655.10" font-size="10" text-anchor="start" fill="#1a1a1a">High-output HSC-2</text>
<text x="175.40" y="688.50" font-size="10" text-anchor="start" fill="#1a1a1a">Lowoutput HSC</text>
<text x="120.20" y="40.00" font-size="10" text-anchor="start" fill="#1a1a1a">CD16<tspan font-size="6" dy="-3.5">+</tspan><tspan dy="3.5">Mono</tspan></text>
<text x="155.40" y="54.80" font-size="10" text-anchor="start" fill="#1a1a1a">CD14<tspan font-size="6" dy="-3.5">+</tspan><tspan dy="3.5"> Mono</tspan></text>
<text x="190.70" y="68.90" font-size="10" text-anchor="start" fill="#1a1a1a">DCs</text>
<text x="173.00" y="87.20" font-size="10" text-anchor="start" fill="#1a1a1a">Monoblasts</text>
<text x="191.70" y="100.60" font-size="10" text-anchor="start" fill="#1a1a1a">GMPs</text>
<text x="142.70" y="83.80" font-size="10" text-anchor="start" fill="#1a1a1a">CLPs</text>
<text x="128.80" y="106.30" font-size="10" text-anchor="start" fill="#1a1a1a">Mks</text>
<text x="107.40" y="85.10" font-size="10" text-anchor="start" fill="#1a1a1a">NK</text>
<text x="72.40" y="78.70" font-size="10" text-anchor="start" fill="#1a1a1a">CD4</text>
<text x="85.50" y="130.80" font-size="10" text-anchor="start" fill="#1a1a1a">CD8</text>
<text x="114.00" y="130.80" font-size="10" text-anchor="start" fill="#1a1a1a">B</text>
<text x="128.00" y="119.70" font-size="10" text-anchor="start" fill="#1a1a1a">HSC/MPPs</text>
<text x="176.20" y="114.60" font-size="10" text-anchor="start" fill="#1a1a1a">LMPPs</text>
<text x="180.60" y="128.90" font-size="10" text-anchor="start" fill="#1a1a1a">MEPs</text>
<text x="126.60" y="142.80" font-size="10" text-anchor="start" fill="#1a1a1a">Erythroid progenitors</text>
<text x="120.70" y="157.40" font-size="10" text-anchor="start" fill="#1a1a1a">Plasma cells</text>
<text x="166.70" y="164.70" font-size="10" text-anchor="start" fill="#1a1a1a">ECs</text>
<text x="145.50" y="191.70" font-size="10" text-anchor="start" fill="#1a1a1a">BMSCs</text>
<line x1="168.20" y1="100.40" x2="174.70" y2="107.00" stroke="#111" stroke-width="0.9"/>
<line x1="153.60" y1="107.00" x2="151.00" y2="111.00" stroke="#111" stroke-width="0.9"/>
<rect x="407.60" y="0.50" width="153.40" height="197.50" fill="white"/>
<line x1="414.30" y1="0.50" x2="414.30" y2="198.00" stroke="#EBEBEB" stroke-width="0.9"/>
<line x1="428.80" y1="0.50" x2="428.80" y2="198.00" stroke="#EBEBEB" stroke-width="0.6"/>
<line x1="443.30" y1="0.50" x2="443.30" y2="198.00" stroke="#EBEBEB" stroke-width="0.9"/>
<line x1="457.80" y1="0.50" x2="457.80" y2="198.00" stroke="#EBEBEB" stroke-width="0.6"/>
<line x1="472.30" y1="0.50" x2="472.30" y2="198.00" stroke="#EBEBEB" stroke-width="0.9"/>
<line x1="486.80" y1="0.50" x2="486.80" y2="198.00" stroke="#EBEBEB" stroke-width="0.6"/>
<line x1="501.30" y1="0.50" x2="501.30" y2="198.00" stroke="#EBEBEB" stroke-width="0.9"/>
<line x1="515.80" y1="0.50" x2="515.80" y2="198.00" stroke="#EBEBEB" stroke-width="0.6"/>
<line x1="530.30" y1="0.50" x2="530.30" y2="198.00" stroke="#EBEBEB" stroke-width="0.9"/>
<line x1="544.80" y1="0.50" x2="544.80" y2="198.00" stroke="#EBEBEB" stroke-width="0.6"/>
<line x1="559.30" y1="0.50" x2="559.30" y2="198.00" stroke="#EBEBEB" stroke-width="0.9"/>
<line x1="407.60" y1="7.30" x2="561.00" y2="7.30" stroke="#EBEBEB" stroke-width="0.9"/>
<line x1="407.60" y1="18.16" x2="561.00" y2="18.16" stroke="#EBEBEB" stroke-width="0.9"/>
<line x1="407.60" y1="29.02" x2="561.00" y2="29.02" stroke="#EBEBEB" stroke-width="0.9"/>
<line x1="407.60" y1="39.88" x2="561.00" y2="39.88" stroke="#EBEBEB" stroke-width="0.9"/>
<line x1="407.60" y1="50.74" x2="561.00" y2="50.74" stroke="#EBEBEB" stroke-width="0.9"/>
<line x1="407.60" y1="61.60" x2="561.00" y2="61.60" stroke="#EBEBEB" stroke-width="0.9"/>
<line x1="407.60" y1="72.46" x2="561.00" y2="72.46" stroke="#EBEBEB" stroke-width="0.9"/>
<line x1="407.60" y1="83.32" x2="561.00" y2="83.32" stroke="#EBEBEB" stroke-width="0.9"/>
<line x1="407.60" y1="94.18" x2="561.00" y2="94.18" stroke="#EBEBEB" stroke-width="0.9"/>
<line x1="407.60" y1="105.04" x2="561.00" y2="105.04" stroke="#EBEBEB" stroke-width="0.9"/>
<line x1="407.60" y1="115.90" x2="561.00" y2="115.90" stroke="#EBEBEB" stroke-width="0.9"/>
<line x1="407.60" y1="126.76" x2="561.00" y2="126.76" stroke="#EBEBEB" stroke-width="0.9"/>
<line x1="407.60" y1="137.62" x2="561.00" y2="137.62" stroke="#EBEBEB" stroke-width="0.9"/>
<line x1="407.60" y1="148.48" x2="561.00" y2="148.48" stroke="#EBEBEB" stroke-width="0.9"/>
<line x1="407.60" y1="159.34" x2="561.00" y2="159.34" stroke="#EBEBEB" stroke-width="0.9"/>
<line x1="407.60" y1="170.20" x2="561.00" y2="170.20" stroke="#EBEBEB" stroke-width="0.9"/>
<line x1="407.60" y1="181.06" x2="561.00" y2="181.06" stroke="#EBEBEB" stroke-width="0.9"/>
<line x1="407.60" y1="191.92" x2="561.00" y2="191.92" stroke="#EBEBEB" stroke-width="0.9"/>
<rect x="414.30" y="2.41" width="1.74" height="9.77" fill="#8E382A"/>
<line x1="405.10" y1="7.30" x2="407.60" y2="7.30" stroke="#333" stroke-width="0.9"/>
<text x="404.10" y="10.30" font-size="10" text-anchor="end" fill="#1a1a1a">Plasma cells</text>
<rect x="414.30" y="13.27" width="9.57" height="9.77" fill="#8E382A"/>
<line x1="405.10" y1="18.16" x2="407.60" y2="18.16" stroke="#333" stroke-width="0.9"/>
<text x="404.10" y="21.16" font-size="10" text-anchor="end" fill="#1a1a1a">B</text>
<rect x="414.30" y="24.13" width="22.62" height="9.77" fill="#8E382A"/>
<line x1="405.10" y1="29.02" x2="407.60" y2="29.02" stroke="#333" stroke-width="0.9"/>
<text x="404.10" y="32.02" font-size="10" text-anchor="end" fill="#1a1a1a">NK</text>
<rect x="414.30" y="34.99" width="2.44" height="9.77" fill="#8E382A"/>
<line x1="405.10" y1="39.88" x2="407.60" y2="39.88" stroke="#333" stroke-width="0.9"/>
<text x="404.10" y="42.88" font-size="10" text-anchor="end" fill="#1a1a1a">CD8</text>
<rect x="414.30" y="45.85" width="2.32" height="9.77" fill="#8E382A"/>
<line x1="405.10" y1="50.74" x2="407.60" y2="50.74" stroke="#333" stroke-width="0.9"/>
<text x="404.10" y="53.74" font-size="10" text-anchor="end" fill="#1a1a1a">CD4</text>
<rect x="414.30" y="56.71" width="32.48" height="9.77" fill="#8E382A"/>
<line x1="405.10" y1="61.60" x2="407.60" y2="61.60" stroke="#333" stroke-width="0.9"/>
<text x="404.10" y="64.60" font-size="10" text-anchor="end" fill="#1a1a1a">Mks</text>
<rect x="414.30" y="67.57" width="124.12" height="9.77" fill="#8E382A"/>
<line x1="405.10" y1="72.46" x2="407.60" y2="72.46" stroke="#333" stroke-width="0.9"/>
<text x="404.10" y="75.46" font-size="10" text-anchor="end" fill="#1a1a1a">Erythroid progenitors</text>
<rect x="414.30" y="78.43" width="63.80" height="9.77" fill="#8E382A"/>
<line x1="405.10" y1="83.32" x2="407.60" y2="83.32" stroke="#333" stroke-width="0.9"/>
<text x="404.10" y="86.32" font-size="10" text-anchor="end" fill="#1a1a1a">DCs</text>
<rect x="414.30" y="89.29" width="92.80" height="9.77" fill="#8E382A"/>
<line x1="405.10" y1="94.18" x2="407.60" y2="94.18" stroke="#333" stroke-width="0.9"/>
<text x="404.10" y="97.18" font-size="10" text-anchor="end" fill="#1a1a1a">CD16<tspan font-size="6" dy="-3.5">+</tspan><tspan dy="3.5"> Mono</tspan></text>
<rect x="414.30" y="100.15" width="50.75" height="9.77" fill="#8E382A"/>
<line x1="405.10" y1="105.04" x2="407.60" y2="105.04" stroke="#333" stroke-width="0.9"/>
<text x="404.10" y="108.04" font-size="10" text-anchor="end" fill="#1a1a1a">CD14<tspan font-size="6" dy="-3.5">+</tspan><tspan dy="3.5"> Mono</tspan></text>
<rect x="414.30" y="111.01" width="53.36" height="9.77" fill="#8E382A"/>
<line x1="405.10" y1="115.90" x2="407.60" y2="115.90" stroke="#333" stroke-width="0.9"/>
<text x="404.10" y="118.90" font-size="10" text-anchor="end" fill="#1a1a1a">Monoblasts</text>
<rect x="414.30" y="121.87" width="115.71" height="9.77" fill="#8E382A"/>
<line x1="405.10" y1="126.76" x2="407.60" y2="126.76" stroke="#333" stroke-width="0.9"/>
<text x="404.10" y="129.76" font-size="10" text-anchor="end" fill="#1a1a1a">GMPs</text>
<rect x="414.30" y="132.73" width="139.20" height="9.77" fill="#8E382A"/>
<line x1="405.10" y1="137.62" x2="407.60" y2="137.62" stroke="#333" stroke-width="0.9"/>
<text x="404.10" y="140.62" font-size="10" text-anchor="end" fill="#1a1a1a">MEPs</text>
<rect x="414.30" y="143.59" width="75.98" height="9.77" fill="#8E382A"/>
<line x1="405.10" y1="148.48" x2="407.60" y2="148.48" stroke="#333" stroke-width="0.9"/>
<text x="404.10" y="151.48" font-size="10" text-anchor="end" fill="#1a1a1a">CLPs</text>
<rect x="414.30" y="154.45" width="115.13" height="9.77" fill="#8E382A"/>
<line x1="405.10" y1="159.34" x2="407.60" y2="159.34" stroke="#333" stroke-width="0.9"/>
<text x="404.10" y="162.34" font-size="10" text-anchor="end" fill="#1a1a1a">LMPPs</text>
<rect x="414.30" y="165.31" width="79.46" height="9.77" fill="#8E382A"/>
<line x1="405.10" y1="170.20" x2="407.60" y2="170.20" stroke="#333" stroke-width="0.9"/>
<text x="404.10" y="173.20" font-size="10" text-anchor="end" fill="#1a1a1a">HSC/MPPs</text>
<rect x="414.30" y="176.17" width="0.29" height="9.77" fill="#8E382A"/>
<line x1="405.10" y1="181.06" x2="407.60" y2="181.06" stroke="#333" stroke-width="0.9"/>
<text x="404.10" y="184.06" font-size="10" text-anchor="end" fill="#1a1a1a">ECs</text>
<rect x="414.30" y="187.03" width="1.74" height="9.77" fill="#8E382A"/>
<line x1="405.10" y1="191.92" x2="407.60" y2="191.92" stroke="#333" stroke-width="0.9"/>
<text x="404.10" y="194.92" font-size="10" text-anchor="end" fill="#1a1a1a">BMSCs</text>
<line x1="407.60" y1="0.50" x2="561.00" y2="0.50" stroke="#6A6A6A" stroke-width="1.0"/>
<line x1="561.00" y1="0.50" x2="561.00" y2="198.00" stroke="#B0B0B0" stroke-width="0.9"/>
<line x1="407.60" y1="0.10" x2="407.60" y2="198.40" stroke="#444" stroke-width="1.0"/>
<line x1="407.20" y1="198.00" x2="561.40" y2="198.00" stroke="#444" stroke-width="1.0"/>
<line x1="414.30" y1="198.00" x2="414.30" y2="200.50" stroke="#333" stroke-width="0.9"/>
<text x="414.30" y="208.80" font-size="10" text-anchor="middle" fill="#333">0</text>
<line x1="443.30" y1="198.00" x2="443.30" y2="200.50" stroke="#333" stroke-width="0.9"/>
<text x="443.30" y="208.80" font-size="10" text-anchor="middle" fill="#333">5</text>
<line x1="472.30" y1="198.00" x2="472.30" y2="200.50" stroke="#333" stroke-width="0.9"/>
<text x="473.40" y="208.80" font-size="10" text-anchor="middle" fill="#333">10</text>
<line x1="501.30" y1="198.00" x2="501.30" y2="200.50" stroke="#333" stroke-width="0.9"/>
<text x="502.40" y="208.80" font-size="10" text-anchor="middle" fill="#333">15</text>
<line x1="530.30" y1="198.00" x2="530.30" y2="200.50" stroke="#333" stroke-width="0.9"/>
<text x="531.40" y="208.80" font-size="10" text-anchor="middle" fill="#333">20</text>
<line x1="559.30" y1="198.00" x2="559.30" y2="200.50" stroke="#333" stroke-width="0.9"/>
<text x="560.40" y="208.80" font-size="10" text-anchor="middle" fill="#333">25</text>
<text x="484.30" y="221.50" font-size="10.3" text-anchor="middle" fill="#1a1a1a">Size(% of all)</text>
<rect x="560.20" y="257.86" width="43.62" height="9.29" fill="#EC2224"/>
<line x1="520.80" y1="262.50" x2="523.30" y2="262.50" stroke="#333" stroke-width="0.9"/>
<text x="520.50" y="265.60" font-size="10.1" text-anchor="end" fill="#1a1a1a">HALLMARK_E2F_TARGETS</text>
<rect x="560.20" y="268.18" width="41.04" height="9.29" fill="#EC2224"/>
<line x1="520.80" y1="272.82" x2="523.30" y2="272.82" stroke="#333" stroke-width="0.9"/>
<text x="520.50" y="275.92" font-size="10.1" text-anchor="end" fill="#1a1a1a">HALLMARK_G2M_CHECKPOINT</text>
<rect x="560.20" y="278.50" width="35.44" height="9.29" fill="#EC2224"/>
<line x1="520.80" y1="283.14" x2="523.30" y2="283.14" stroke="#333" stroke-width="0.9"/>
<text x="520.50" y="286.24" font-size="10.1" text-anchor="end" fill="#1a1a1a">HALLMARK_MYC_TARGETS_V1</text>
<rect x="560.20" y="288.82" width="30.57" height="9.29" fill="#EC2224"/>
<line x1="520.80" y1="293.46" x2="523.30" y2="293.46" stroke="#333" stroke-width="0.9"/>
<text x="520.50" y="296.56" font-size="10.1" text-anchor="end" fill="#1a1a1a">HALLMARK_MITOTIC_SPINDLE</text>
<rect x="560.20" y="299.14" width="30.14" height="9.29" fill="#EC2224"/>
<line x1="520.80" y1="303.78" x2="523.30" y2="303.78" stroke="#333" stroke-width="0.9"/>
<text x="520.50" y="306.88" font-size="10.1" text-anchor="end" fill="#1a1a1a">HALLMARK_OXIDAIVE_PHOSPHORYLATION</text>
<rect x="560.20" y="309.46" width="28.84" height="9.29" fill="#EC2224"/>
<line x1="520.80" y1="314.10" x2="523.30" y2="314.10" stroke="#333" stroke-width="0.9"/>
<text x="520.50" y="317.20" font-size="10.1" text-anchor="end" fill="#1a1a1a">HALLMARK_MYC_TARGETS_V2</text>
<rect x="560.20" y="319.78" width="25.40" height="9.29" fill="#E8174A"/>
<line x1="520.80" y1="324.42" x2="523.30" y2="324.42" stroke="#333" stroke-width="0.9"/>
<text x="520.50" y="327.52" font-size="10.1" text-anchor="end" fill="#1a1a1a">HALLMARK_DNA_REPAIR</text>
<rect x="560.20" y="330.10" width="24.97" height="9.29" fill="#EC2224"/>
<line x1="520.80" y1="334.74" x2="523.30" y2="334.74" stroke="#333" stroke-width="0.9"/>
<text x="520.50" y="337.84" font-size="10.1" text-anchor="end" fill="#1a1a1a">HALLMARK_MTORC1_SIGNALING</text>
<rect x="560.20" y="340.42" width="23.96" height="9.29" fill="#9A3594"/>
<line x1="520.80" y1="345.06" x2="523.30" y2="345.06" stroke="#333" stroke-width="0.9"/>
<text x="520.50" y="348.16" font-size="10.1" text-anchor="end" fill="#1a1a1a">HALLMARK_SPERMATOGENESIS</text>
<rect x="560.20" y="350.74" width="20.95" height="9.29" fill="#3A54A4"/>
<line x1="520.80" y1="355.38" x2="523.30" y2="355.38" stroke="#333" stroke-width="0.9"/>
<text x="520.50" y="358.48" font-size="10.1" text-anchor="end" fill="#1a1a1a">HALLMARK_GLYCOLYSIS</text>
<rect x="537.24" y="361.06" width="22.96" height="9.29" fill="#B5228E"/>
<line x1="520.80" y1="365.70" x2="523.30" y2="365.70" stroke="#333" stroke-width="0.9"/>
<text x="520.50" y="368.80" font-size="10.1" text-anchor="end" fill="#1a1a1a">HALLMARK_TGF_BETA_SIGNALING</text>
<rect x="537.24" y="371.38" width="22.96" height="9.29" fill="#76479A"/>
<line x1="520.80" y1="376.02" x2="523.30" y2="376.02" stroke="#333" stroke-width="0.9"/>
<text x="520.50" y="379.12" font-size="10.1" text-anchor="end" fill="#1a1a1a">HALLMARK_KRAS_SIGNALING</text>
<rect x="535.95" y="381.70" width="24.25" height="9.29" fill="#EC2224"/>
<line x1="520.80" y1="386.34" x2="523.30" y2="386.34" stroke="#333" stroke-width="0.9"/>
<text x="520.50" y="389.44" font-size="10.1" text-anchor="end" fill="#1a1a1a">HALLMARK_P53_PATHWAY</text>
<rect x="535.52" y="392.02" width="24.68" height="9.29" fill="#EC2224"/>
<line x1="520.80" y1="396.66" x2="523.30" y2="396.66" stroke="#333" stroke-width="0.9"/>
<text x="520.50" y="399.76" font-size="10.1" text-anchor="end" fill="#1a1a1a">HALLMARK_IL6_JAK_STAT3_SIGNALING</text>
<rect x="533.37" y="402.34" width="26.83" height="9.29" fill="#EC2224"/>
<line x1="520.80" y1="406.98" x2="523.30" y2="406.98" stroke="#333" stroke-width="0.9"/>
<text x="520.50" y="410.08" font-size="10.1" text-anchor="end" fill="#1a1a1a">HALLMARK_INFLAMMATORY_RESPONSE</text>
<rect x="532.94" y="412.66" width="27.26" height="9.29" fill="#EC2224"/>
<line x1="520.80" y1="417.30" x2="523.30" y2="417.30" stroke="#333" stroke-width="0.9"/>
<text x="520.50" y="420.40" font-size="10.1" text-anchor="end" fill="#1a1a1a">HALLMARK_INTERFERON_ALPHA_RESPONSE</text>
<rect x="531.36" y="422.98" width="28.84" height="9.29" fill="#EC2224"/>
<line x1="520.80" y1="427.62" x2="523.30" y2="427.62" stroke="#333" stroke-width="0.9"/>
<text x="520.50" y="430.72" font-size="10.1" text-anchor="end" fill="#1a1a1a">HALLMARK_IL2_STAT5_SIGNALING</text>
<rect x="528.49" y="433.30" width="31.71" height="9.29" fill="#EC2224"/>
<line x1="520.80" y1="437.94" x2="523.30" y2="437.94" stroke="#333" stroke-width="0.9"/>
<text x="520.50" y="441.04" font-size="10.1" text-anchor="end" fill="#1a1a1a">HALLMARK_INTERFERON_GAMMA_RESPONSE</text>
<rect x="527.34" y="443.62" width="32.86" height="9.29" fill="#EC2224"/>
<line x1="520.80" y1="448.26" x2="523.30" y2="448.26" stroke="#333" stroke-width="0.9"/>
<text x="520.50" y="451.36" font-size="10.1" text-anchor="end" fill="#1a1a1a">HALLMARK_ALLOGRAFT_REJECTION</text>
<rect x="526.91" y="453.94" width="33.29" height="9.29" fill="#EC2224"/>
<line x1="520.80" y1="458.58" x2="523.30" y2="458.58" stroke="#333" stroke-width="0.9"/>
<text x="520.50" y="461.68" font-size="10.1" text-anchor="end" fill="#1a1a1a">HALLMARK_TNFA_SIGNALING_VIA_NFKB</text>
<line x1="523.30" y1="256.50" x2="523.30" y2="465.50" stroke="#333" stroke-width="1.0"/>
<line x1="522.80" y1="465.00" x2="607.00" y2="465.00" stroke="#333" stroke-width="1.0"/>
<line x1="531.50" y1="465.00" x2="531.50" y2="467.50" stroke="#333" stroke-width="0.9"/>
<text x="531.50" y="476.70" font-size="9.5" text-anchor="middle" fill="#333">−2</text>
<line x1="545.85" y1="465.00" x2="545.85" y2="467.50" stroke="#333" stroke-width="0.9"/>
<text x="545.85" y="476.70" font-size="9.5" text-anchor="middle" fill="#333">−1</text>
<line x1="560.20" y1="465.00" x2="560.20" y2="467.50" stroke="#333" stroke-width="0.9"/>
<text x="560.20" y="476.70" font-size="9.5" text-anchor="middle" fill="#333">0</text>
<line x1="574.55" y1="465.00" x2="574.55" y2="467.50" stroke="#333" stroke-width="0.9"/>
<text x="574.55" y="476.70" font-size="9.5" text-anchor="middle" fill="#333">1</text>
<line x1="588.90" y1="465.00" x2="588.90" y2="467.50" stroke="#333" stroke-width="0.9"/>
<text x="588.90" y="476.70" font-size="9.5" text-anchor="middle" fill="#333">2</text>
<line x1="603.25" y1="465.00" x2="603.25" y2="467.50" stroke="#333" stroke-width="0.9"/>
<text x="603.25" y="476.70" font-size="9.5" text-anchor="middle" fill="#333">3</text>
<text x="563.40" y="488.70" font-size="9.4" text-anchor="middle" fill="#1a1a1a">NES</text>
<text x="567.00" y="241.10" font-size="10.1" text-anchor="middle" fill="#1a1a1a">LRMDS HSPC</text>
<text x="553.40" y="252.20" font-size="10" text-anchor="end" fill="#1a1a1a">Non-assignable</text>
<text x="582.80" y="252.20" font-size="10" text-anchor="middle" fill="#1a1a1a">Mutant</text>
<defs><linearGradient id="pg" x1="0" y1="0" x2="0" y2="1"><stop offset="0" stop-color="#3F4FA8"/><stop offset="0.5" stop-color="#C0188F"/><stop offset="1" stop-color="#EC2224"/></linearGradient></defs>
<rect x="610.20" y="344.30" width="10.90" height="53.30" fill="url(#pg)"/>
<line x1="610.20" y1="349.90" x2="612.40" y2="349.90" stroke="white" stroke-width="0.8"/>
<line x1="618.90" y1="349.90" x2="621.10" y2="349.90" stroke="white" stroke-width="0.8"/>
<text x="622.10" y="353.00" font-size="8.8" text-anchor="start" fill="#1a1a1a">0.030</text>
<line x1="610.20" y1="359.82" x2="612.40" y2="359.82" stroke="white" stroke-width="0.8"/>
<line x1="618.90" y1="359.82" x2="621.10" y2="359.82" stroke="white" stroke-width="0.8"/>
<text x="622.10" y="362.92" font-size="8.8" text-anchor="start" fill="#1a1a1a">0.025</text>
<line x1="610.20" y1="369.74" x2="612.40" y2="369.74" stroke="white" stroke-width="0.8"/>
<line x1="618.90" y1="369.74" x2="621.10" y2="369.74" stroke="white" stroke-width="0.8"/>
<text x="622.10" y="372.84" font-size="8.8" text-anchor="start" fill="#1a1a1a">0.020</text>
<line x1="610.20" y1="379.66" x2="612.40" y2="379.66" stroke="white" stroke-width="0.8"/>
<line x1="618.90" y1="379.66" x2="621.10" y2="379.66" stroke="white" stroke-width="0.8"/>
<text x="622.10" y="382.76" font-size="8.8" text-anchor="start" fill="#1a1a1a">0.015</text>
<line x1="610.20" y1="389.58" x2="612.40" y2="389.58" stroke="white" stroke-width="0.8"/>
<line x1="618.90" y1="389.58" x2="621.10" y2="389.58" stroke="white" stroke-width="0.8"/>
<text x="622.10" y="392.68" font-size="8.8" text-anchor="start" fill="#1a1a1a">0.010</text>
<text x="610.90" y="340.00" font-size="8.6" text-anchor="start" fill="#1a1a1a">padj</text>
<line x1="49.00" y1="762.20" x2="49.00" y2="918.40" stroke="#B8B8B8" stroke-width="1.0"/>
<line x1="48.50" y1="918.40" x2="115.60" y2="918.40" stroke="#444" stroke-width="1.0"/>
<line x1="47.20" y1="790.80" x2="49.00" y2="790.80" stroke="#B8B8B8" stroke-width="0.8"/>
<text x="46.20" y="794.40" font-size="10" text-anchor="end" fill="#333">0.75</text>
<line x1="47.20" y1="833.00" x2="49.00" y2="833.00" stroke="#B8B8B8" stroke-width="0.8"/>
<text x="46.20" y="836.60" font-size="10" text-anchor="end" fill="#333">0.50</text>
<line x1="47.20" y1="875.20" x2="49.00" y2="875.20" stroke="#B8B8B8" stroke-width="0.8"/>
<text x="46.20" y="878.80" font-size="10" text-anchor="end" fill="#333">0.25</text>
<line x1="47.20" y1="917.40" x2="49.00" y2="917.40" stroke="#B8B8B8" stroke-width="0.8"/>
<text x="46.20" y="921.00" font-size="10" text-anchor="end" fill="#333">0</text>
<line x1="61.60" y1="918.40" x2="61.60" y2="920.30" stroke="#555" stroke-width="0.9"/>
<line x1="82.50" y1="918.40" x2="82.50" y2="920.30" stroke="#555" stroke-width="0.9"/>
<line x1="103.40" y1="918.40" x2="103.40" y2="920.30" stroke="#555" stroke-width="0.9"/>
<line x1="61.60" y1="823.72" x2="61.60" y2="831.31" stroke="#2E6596" stroke-width="0.9"/>
<rect x="53.55" y="831.31" width="16.10" height="22.28" fill="none" stroke="#6089B0" stroke-width="0.9"/>
<line x1="53.55" y1="834.69" x2="69.65" y2="834.69" stroke="#6089B0" stroke-width="0.9"/>
<rect x="74.45" y="904.57" width="16.10" height="3.88" fill="none" stroke="#6089B0" stroke-width="0.9"/>
<line x1="74.45" y1="906.60" x2="90.55" y2="906.60" stroke="#6089B0" stroke-width="0.9"/>
<line x1="103.40" y1="847.69" x2="103.40" y2="853.09" stroke="#2E6596" stroke-width="0.9"/>
<rect x="95.35" y="824.39" width="16.10" height="23.29" fill="none" stroke="#6089B0" stroke-width="0.9"/>
<line x1="95.35" y1="844.14" x2="111.45" y2="844.14" stroke="#6089B0" stroke-width="0.9"/>
<circle cx="61.60" cy="823.20" r="1.6" fill="#2E6596"/>
<circle cx="61.60" cy="833.20" r="1.6" fill="#2E6596"/>
<circle cx="61.60" cy="834.70" r="1.6" fill="#2E6596"/>
<circle cx="61.60" cy="835.60" r="1.6" fill="#2E6596"/>
<circle cx="61.60" cy="902.80" r="1.6" fill="#2E6596"/>
<circle cx="82.50" cy="903.60" r="1.6" fill="#2E6596"/>
<circle cx="82.50" cy="905.30" r="1.6" fill="#2E6596"/>
<circle cx="82.50" cy="906.80" r="1.6" fill="#2E6596"/>
<circle cx="82.50" cy="908.30" r="1.6" fill="#2E6596"/>
<circle cx="82.50" cy="911.70" r="1.6" fill="#2E6596"/>
<circle cx="103.40" cy="842.30" r="1.6" fill="#2E6596"/>
<circle cx="103.40" cy="844.20" r="1.6" fill="#2E6596"/>
<circle cx="103.40" cy="846.50" r="1.6" fill="#2E6596"/>
<circle cx="103.40" cy="852.70" r="1.6" fill="#2E6596"/>
<circle cx="103.40" cy="769.20" r="1.6" fill="#2E6596"/>
<line x1="146.10" y1="762.20" x2="146.10" y2="918.40" stroke="#B8B8B8" stroke-width="1.0"/>
<line x1="145.60" y1="918.40" x2="212.60" y2="918.40" stroke="#444" stroke-width="1.0"/>
<line x1="144.30" y1="790.80" x2="146.10" y2="790.80" stroke="#B8B8B8" stroke-width="0.8"/>
<text x="140.80" y="794.40" font-size="10" text-anchor="end" fill="#333">0.75</text>
<line x1="144.30" y1="833.00" x2="146.10" y2="833.00" stroke="#B8B8B8" stroke-width="0.8"/>
<text x="140.80" y="836.60" font-size="10" text-anchor="end" fill="#333">0.50</text>
<line x1="144.30" y1="875.20" x2="146.10" y2="875.20" stroke="#B8B8B8" stroke-width="0.8"/>
<text x="140.80" y="878.80" font-size="10" text-anchor="end" fill="#333">0.25</text>
<line x1="144.30" y1="917.40" x2="146.10" y2="917.40" stroke="#B8B8B8" stroke-width="0.8"/>
<text x="140.80" y="921.00" font-size="10" text-anchor="end" fill="#333">0</text>
<line x1="158.50" y1="918.40" x2="158.50" y2="920.30" stroke="#555" stroke-width="0.9"/>
<line x1="179.40" y1="918.40" x2="179.40" y2="920.30" stroke="#555" stroke-width="0.9"/>
<line x1="200.30" y1="918.40" x2="200.30" y2="920.30" stroke="#555" stroke-width="0.9"/>
<line x1="158.50" y1="845.66" x2="158.50" y2="852.58" stroke="#9B3A2E" stroke-width="0.9"/>
<rect x="150.45" y="852.58" width="16.10" height="17.56" fill="none" stroke="#A8544A" stroke-width="0.9"/>
<line x1="150.45" y1="857.64" x2="166.55" y2="857.64" stroke="#A8544A" stroke-width="0.9"/>
<line x1="179.40" y1="899.51" x2="179.40" y2="903.90" stroke="#9B3A2E" stroke-width="0.9"/>
<rect x="171.35" y="903.90" width="16.10" height="5.91" fill="none" stroke="#A8544A" stroke-width="0.9"/>
<line x1="171.35" y1="908.62" x2="187.45" y2="908.62" stroke="#A8544A" stroke-width="0.9"/>
<line x1="200.30" y1="769.36" x2="200.30" y2="799.41" stroke="#9B3A2E" stroke-width="0.9"/>
<line x1="200.30" y1="823.38" x2="200.30" y2="827.94" stroke="#9B3A2E" stroke-width="0.9"/>
<rect x="192.25" y="799.41" width="16.10" height="23.97" fill="none" stroke="#A8544A" stroke-width="0.9"/>
<line x1="192.25" y1="815.44" x2="208.35" y2="815.44" stroke="#A8544A" stroke-width="0.9"/>
<circle cx="158.50" cy="845.70" r="1.6" fill="#9B3A2E"/>
<circle cx="158.50" cy="855.00" r="1.6" fill="#9B3A2E"/>
<circle cx="158.50" cy="860.70" r="1.6" fill="#9B3A2E"/>
<circle cx="158.50" cy="900.70" r="1.6" fill="#9B3A2E"/>
<circle cx="179.40" cy="899.20" r="1.6" fill="#9B3A2E"/>
<circle cx="179.40" cy="907.80" r="1.6" fill="#9B3A2E"/>
<circle cx="179.40" cy="909.60" r="1.6" fill="#9B3A2E"/>
<circle cx="179.40" cy="911.50" r="1.6" fill="#9B3A2E"/>
<circle cx="200.30" cy="769.20" r="1.6" fill="#9B3A2E"/>
<circle cx="200.30" cy="809.60" r="1.6" fill="#9B3A2E"/>
<circle cx="200.30" cy="821.40" r="1.6" fill="#9B3A2E"/>
<circle cx="200.30" cy="827.70" r="1.6" fill="#9B3A2E"/>
<text x="21.90" y="841.30" font-size="10" text-anchor="middle" fill="#1a1a1a" transform="rotate(-90 21.90 841.30)">Frequency</text>
<text x="66.80" y="925.80" font-size="10" text-anchor="end" fill="#1a1a1a" transform="rotate(-45 66.80 925.80)">Low-output HSC</text>
<text x="88.20" y="926.20" font-size="10" text-anchor="end" fill="#1a1a1a" transform="rotate(-45 88.20 926.20)">HSC-1</text>
<text x="111.40" y="926.00" font-size="10" text-anchor="end" fill="#1a1a1a" transform="rotate(-45 111.40 926.00)">High-output HSC-2</text>
<text x="166.20" y="925.40" font-size="10" text-anchor="end" fill="#1a1a1a" transform="rotate(-45 166.20 925.40)">Low-output HSC</text>
<text x="184.20" y="926.50" font-size="10" text-anchor="end" fill="#1a1a1a" transform="rotate(-45 184.20 926.50)">HSC-1</text>
<text x="207.50" y="925.40" font-size="10" text-anchor="end" fill="#1a1a1a" transform="rotate(-45 207.50 925.40)">High-output HSC-2</text>
<rect x="230.80" y="777.50" width="6.40" height="8.60" fill="none" stroke="#2E6596" stroke-width="1.3"/>
<line x1="234.00" y1="777.50" x2="234.00" y2="786.10" stroke="#2E6596" stroke-width="1.1"/>
<line x1="229.00" y1="781.80" x2="239.00" y2="781.80" stroke="#2E6596" stroke-width="1.1"/>
<circle cx="234.00" cy="781.80" r="1.2" fill="#2E6596"/>
<text x="230.60" y="789.20" font-size="10" text-anchor="start" fill="#1a1a1a" transform="rotate(90 230.60 789.20)">Non-assignable</text>
<rect x="230.80" y="863.20" width="6.40" height="8.60" fill="none" stroke="#9B3A2E" stroke-width="1.3"/>
<line x1="234.00" y1="863.20" x2="234.00" y2="871.80" stroke="#9B3A2E" stroke-width="1.1"/>
<line x1="229.00" y1="867.50" x2="239.00" y2="867.50" stroke="#9B3A2E" stroke-width="1.1"/>
<circle cx="234.00" cy="867.50" r="1.2" fill="#9B3A2E"/>
<text x="230.60" y="873.60" font-size="10" text-anchor="start" fill="#1a1a1a" transform="rotate(90 230.60 873.60)">Mutant</text>
<line x1="346.30" y1="572.40" x2="346.30" y2="708.80" stroke="#333" stroke-width="0.9"/>
<line x1="345.80" y1="708.30" x2="482.00" y2="708.30" stroke="#333" stroke-width="0.9"/>
<line x1="340.30" y1="573.00" x2="346.30" y2="573.00" stroke="#333" stroke-width="0.9"/>
<text x="338.20" y="576.10" font-size="8.6" text-anchor="end" fill="#444">1.5</text>
<line x1="340.30" y1="618.10" x2="346.30" y2="618.10" stroke="#333" stroke-width="0.9"/>
<text x="338.20" y="621.20" font-size="8.6" text-anchor="end" fill="#444">1.0</text>
<line x1="340.30" y1="663.20" x2="346.30" y2="663.20" stroke="#333" stroke-width="0.9"/>
<text x="338.20" y="666.30" font-size="8.6" text-anchor="end" fill="#444">0.5</text>
<line x1="340.30" y1="708.30" x2="346.30" y2="708.30" stroke="#333" stroke-width="0.9"/>
<text x="338.20" y="711.40" font-size="8.6" text-anchor="end" fill="#444">0.0</text>
<line x1="367.20" y1="708.30" x2="367.20" y2="713.90" stroke="#333" stroke-width="0.9"/>
<line x1="398.50" y1="708.30" x2="398.50" y2="713.90" stroke="#333" stroke-width="0.9"/>
<line x1="429.60" y1="708.30" x2="429.60" y2="713.90" stroke="#333" stroke-width="0.9"/>
<line x1="460.90" y1="708.30" x2="460.90" y2="713.90" stroke="#333" stroke-width="0.9"/>
<rect x="357.70" y="619.63" width="19.00" height="88.67" fill="white" stroke="#444" stroke-width="0.8"/>
<rect x="389.00" y="668.61" width="19.00" height="39.69" fill="white" stroke="#444" stroke-width="0.8"/>
<rect x="420.10" y="619.27" width="19.00" height="89.03" fill="white" stroke="#444" stroke-width="0.8"/>
<rect x="451.40" y="653.37" width="19.00" height="54.93" fill="white" stroke="#444" stroke-width="0.8"/>
<line x1="367.20" y1="612.42" x2="367.20" y2="624.41" stroke="#222" stroke-width="0.9"/>
<line x1="362.40" y1="612.42" x2="372.00" y2="612.42" stroke="#222" stroke-width="0.9"/>
<line x1="362.40" y1="624.41" x2="372.00" y2="624.41" stroke="#222" stroke-width="0.9"/>
<line x1="398.50" y1="664.28" x2="398.50" y2="672.94" stroke="#222" stroke-width="0.9"/>
<line x1="393.70" y1="664.28" x2="403.30" y2="664.28" stroke="#222" stroke-width="0.9"/>
<line x1="393.70" y1="672.94" x2="403.30" y2="672.94" stroke="#222" stroke-width="0.9"/>
<line x1="429.60" y1="615.39" x2="429.60" y2="623.15" stroke="#222" stroke-width="0.9"/>
<line x1="424.80" y1="615.39" x2="434.40" y2="615.39" stroke="#222" stroke-width="0.9"/>
<line x1="424.80" y1="623.15" x2="434.40" y2="623.15" stroke="#222" stroke-width="0.9"/>
<line x1="460.90" y1="648.41" x2="460.90" y2="658.33" stroke="#222" stroke-width="0.9"/>
<line x1="456.10" y1="648.41" x2="465.70" y2="648.41" stroke="#222" stroke-width="0.9"/>
<line x1="456.10" y1="658.33" x2="465.70" y2="658.33" stroke="#222" stroke-width="0.9"/>
<circle cx="359.30" cy="606.80" r="2.85" fill="#1a1a1a"/>
<circle cx="367.00" cy="611.00" r="2.85" fill="#1a1a1a"/>
<circle cx="374.80" cy="610.70" r="2.85" fill="#1a1a1a"/>
<circle cx="367.00" cy="625.80" r="2.85" fill="#1a1a1a"/>
<circle cx="367.00" cy="637.60" r="2.85" fill="#1a1a1a"/>
<path d="M395.40,653.60h5.6v5.6h-5.6ZM387.90,663.40h5.6v5.6h-5.6ZM387.90,670.00h5.6v5.6h-5.6ZM395.40,666.70h5.6v5.6h-5.6ZM403.30,667.20h5.6v5.6h-5.6Z" fill="#1a1a1a"/>
<path d="M426.70,607.31L432.70,607.31L429.70,602.09ZM418.90,616.71L424.90,616.71L421.90,611.49ZM418.90,622.91L424.90,622.91L421.90,617.69ZM418.90,629.81L424.90,629.81L421.90,624.59ZM426.70,624.31L432.70,624.31L429.70,619.09ZM434.30,620.61L440.30,620.61L437.30,615.39ZM434.30,626.81L440.30,626.81L437.30,621.59Z" fill="#1a1a1a"/>
<path d="M453.20,637.70L456.20,640.70L453.20,643.70L450.20,640.70ZM468.60,639.90L471.60,642.90L468.60,645.90L465.60,642.90ZM460.90,642.50L463.90,645.50L460.90,648.50L457.90,645.50ZM453.20,651.10L456.20,654.10L453.20,657.10L450.20,654.10ZM468.60,651.50L471.60,654.50L468.60,657.50L465.60,654.50ZM460.90,654.30L463.90,657.30L460.90,660.30L457.90,657.30ZM460.90,668.80L463.90,671.80L460.90,674.80L457.90,671.80Z" fill="#1a1a1a"/>
<line x1="398.40" y1="588.20" x2="460.70" y2="588.20" stroke="#333" stroke-width="1.0"/>
<text x="429.55" y="580.70" font-size="9.8" text-anchor="middle" fill="#333">p=0.0224</text>
<text x="399.9" y="546.1" font-size="9.7" fill="#333">CD34<tspan font-size="5.5" dy="-4">+</tspan></text>
<text x="318.60" y="640.30" font-size="10" text-anchor="middle" fill="#333" transform="rotate(-90 318.60 640.30)">Fold Change of cell number (to EV)</text>
<text x="370.70" y="722.70" font-size="10" text-anchor="end" fill="#333" transform="rotate(-45 370.70 722.70)">NBM-EV</text>
<text x="405.70" y="721.80" font-size="10" text-anchor="end" fill="#333" transform="rotate(-45 405.70 721.80)">NBM-IKK2SE</text>
<text x="436.50" y="722.50" font-size="10" text-anchor="end" fill="#333" transform="rotate(-45 436.50 722.50)">LRMDS-EV</text>
<text x="468.80" y="721.40" font-size="10" text-anchor="end" fill="#333" transform="rotate(-45 468.80 721.40)">LRMDS-IKK2SE</text>
<line x1="548.50" y1="572.40" x2="548.50" y2="709.90" stroke="#333" stroke-width="0.9"/>
<line x1="548.00" y1="709.40" x2="686.00" y2="709.40" stroke="#333" stroke-width="0.9"/>
<line x1="542.50" y1="573.65" x2="548.50" y2="573.65" stroke="#333" stroke-width="0.9"/>
<text x="540.40" y="576.75" font-size="8.6" text-anchor="end" fill="#444">1.5</text>
<line x1="542.50" y1="618.90" x2="548.50" y2="618.90" stroke="#333" stroke-width="0.9"/>
<text x="540.40" y="622.00" font-size="8.6" text-anchor="end" fill="#444">1.0</text>
<line x1="542.50" y1="664.15" x2="548.50" y2="664.15" stroke="#333" stroke-width="0.9"/>
<text x="540.40" y="667.25" font-size="8.6" text-anchor="end" fill="#444">0.5</text>
<line x1="542.50" y1="709.40" x2="548.50" y2="709.40" stroke="#333" stroke-width="0.9"/>
<text x="540.40" y="712.50" font-size="8.6" text-anchor="end" fill="#444">0.0</text>
<line x1="569.40" y1="709.40" x2="569.40" y2="715.00" stroke="#333" stroke-width="0.9"/>
<line x1="600.60" y1="709.40" x2="600.60" y2="715.00" stroke="#333" stroke-width="0.9"/>
<line x1="632.20" y1="709.40" x2="632.20" y2="715.00" stroke="#333" stroke-width="0.9"/>
<line x1="663.40" y1="709.40" x2="663.40" y2="715.00" stroke="#333" stroke-width="0.9"/>
<rect x="559.90" y="620.71" width="19.00" height="88.69" fill="white" stroke="#444" stroke-width="0.8"/>
<rect x="591.10" y="703.06" width="19.00" height="6.34" fill="white" stroke="#444" stroke-width="0.8"/>
<rect x="622.70" y="620.71" width="19.00" height="88.69" fill="white" stroke="#444" stroke-width="0.8"/>
<rect x="653.90" y="696.73" width="19.00" height="12.67" fill="white" stroke="#444" stroke-width="0.8"/>
<line x1="569.40" y1="612.56" x2="569.40" y2="626.14" stroke="#222" stroke-width="0.9"/>
<line x1="564.60" y1="612.56" x2="574.20" y2="612.56" stroke="#222" stroke-width="0.9"/>
<line x1="564.60" y1="626.14" x2="574.20" y2="626.14" stroke="#222" stroke-width="0.9"/>
<line x1="600.60" y1="701.25" x2="600.60" y2="704.88" stroke="#222" stroke-width="0.9"/>
<line x1="595.80" y1="701.25" x2="605.40" y2="701.25" stroke="#222" stroke-width="0.9"/>
<line x1="595.80" y1="704.88" x2="605.40" y2="704.88" stroke="#222" stroke-width="0.9"/>
<line x1="632.20" y1="615.28" x2="632.20" y2="623.42" stroke="#222" stroke-width="0.9"/>
<line x1="627.40" y1="615.28" x2="637.00" y2="615.28" stroke="#222" stroke-width="0.9"/>
<line x1="627.40" y1="623.42" x2="637.00" y2="623.42" stroke="#222" stroke-width="0.9"/>
<line x1="663.40" y1="694.01" x2="663.40" y2="698.54" stroke="#222" stroke-width="0.9"/>
<line x1="658.60" y1="694.01" x2="668.20" y2="694.01" stroke="#222" stroke-width="0.9"/>
<line x1="658.60" y1="698.54" x2="668.20" y2="698.54" stroke="#222" stroke-width="0.9"/>
<circle cx="569.50" cy="599.90" r="2.85" fill="#1a1a1a"/>
<circle cx="569.50" cy="610.40" r="2.85" fill="#1a1a1a"/>
<circle cx="569.50" cy="618.90" r="2.85" fill="#1a1a1a"/>
<circle cx="569.50" cy="628.80" r="2.85" fill="#1a1a1a"/>
<circle cx="569.50" cy="639.70" r="2.85" fill="#1a1a1a"/>
<path d="M590.50,697.30h5.6v5.6h-5.6ZM590.50,704.20h5.6v5.6h-5.6ZM595.40,700.80h5.6v5.6h-5.6ZM600.20,703.60h5.6v5.6h-5.6ZM605.10,702.20h5.6v5.6h-5.6Z" fill="#1a1a1a"/>
<path d="M629.30,606.41L635.30,606.41L632.30,601.19ZM621.40,616.01L627.40,616.01L624.40,610.79ZM636.80,616.01L642.80,616.01L639.80,610.79ZM629.30,622.21L635.30,622.21L632.30,616.99ZM621.40,628.71L627.40,628.71L624.40,623.49ZM621.40,635.31L627.40,635.31L624.40,630.09ZM636.80,632.01L642.80,632.01L639.80,626.79Z" fill="#1a1a1a"/>
<path d="M661.60,685.60L664.60,688.60L661.60,691.60L658.60,688.60ZM658.50,690.90L661.50,693.90L658.50,696.90L655.50,693.90ZM665.40,691.60L668.40,694.60L665.40,697.60L662.40,694.60ZM671.00,692.30L674.00,695.30L671.00,698.30L668.00,695.30ZM655.00,695.70L658.00,698.70L655.00,701.70L652.00,698.70ZM667.90,696.10L670.90,699.10L667.90,702.10L664.90,699.10ZM662.00,693.00L665.00,696.00L662.00,699.00L659.00,696.00Z" fill="#1a1a1a"/>
<line x1="601.30" y1="583.50" x2="663.40" y2="583.50" stroke="#999" stroke-width="1.0"/>
<text x="632.35" y="576.00" font-size="9.8" text-anchor="middle" fill="#333">p=0.0005</text>
<g fill="#333" font-size="10"><text x="552.4" y="546.1">CD34</text><text x="578.1" y="542.3" font-size="6">+</text><text x="581.6" y="546.1">CD38</text><text x="606.3" y="542.3" font-size="7">-</text><text x="609.6" y="546.1">CD45RA</text><text x="649.4" y="542.3" font-size="7">-</text><text x="652.4" y="546.1">CD90</text><text x="677.8" y="542.3" font-size="6">+</text></g>
<text x="515.50" y="640.30" font-size="10" text-anchor="middle" fill="#333" transform="rotate(-90 515.50 640.30)">Fold Change of cell number (to EV)</text>
<text x="572.70" y="723.30" font-size="10" text-anchor="end" fill="#333" transform="rotate(-45 572.70 723.30)">NBM-EV</text>
<text x="607.90" y="723.30" font-size="10" text-anchor="end" fill="#333" transform="rotate(-45 607.90 723.30)">NBM-IKK2SE</text>
<text x="638.50" y="723.30" font-size="10" text-anchor="end" fill="#333" transform="rotate(-45 638.50 723.30)">LRMDS-EV</text>
<text x="669.70" y="722.30" font-size="10" text-anchor="end" fill="#333" transform="rotate(-45 669.70 722.30)">LRMDS-IKK2SE</text>
</svg></body></html>
